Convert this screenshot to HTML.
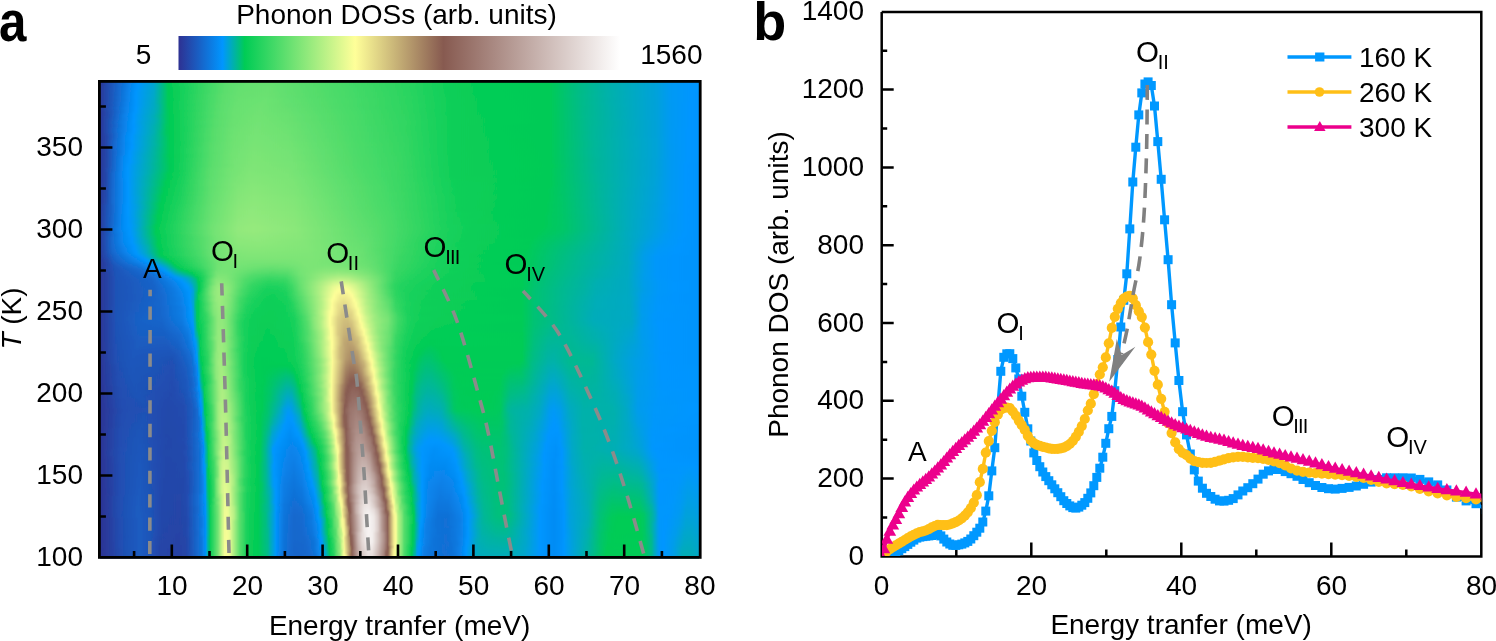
<!DOCTYPE html><html><head><meta charset="utf-8"><style>html,body{margin:0;padding:0;background:#fff;overflow:hidden}#c{position:relative;width:1496px;height:641px;background:#fff}#h{position:absolute;left:100px;top:80px;width:599px;height:479px;filter:url(#vb)}#h b{display:block;height:2px}svg{position:absolute;left:0;top:0;display:block;will-change:transform}text{font-family:"Liberation Sans",sans-serif}</style></head><body><svg width="0" height="0" style="position:absolute"><filter id="vb" x="0" y="0" width="1" height="1"><feGaussianBlur stdDeviation="0 1.1" edgeMode="duplicate"/></filter></svg><div id="c"><div id="h"><b style="background:linear-gradient(90deg,#2b389a 0px,#0194fc 36px,#0097fd 38px,#009ee6 46px,#00a4d2 54px,#00aac1 56px,#00c56a 66px,#00cb57 68px,#42d967 110px,#5ddf6e 128px,#67e170 158px,#61df6f 180px,#3cd865 264px,#29d460 308px,#0dcf59 350px,#04cd56 380px,#00cb57 450px,#00be82 476px,#00b2a6 504px,#00a2da 556px,#009af3 570px,#0096ff 594px,#0096ff 598px)"></b><b style="background:linear-gradient(90deg,#2b389a 0px,#0292fb 36px,#0096fe 38px,#00a5d0 54px,#00aabf 56px,#00c56a 66px,#00cb57 68px,#3cd865 106px,#5ddf6e 126px,#67e170 154px,#64e070 176px,#3dd865 264px,#2ad460 308px,#0dcf58 350px,#04cd56 380px,#00cb57 450px,#00be82 476px,#00b2a6 504px,#00a2da 556px,#009af3 570px,#0096ff 592px,#0096ff 598px)"></b><b style="background:linear-gradient(90deg,#2b389a 0px,#0390f9 34px,#0096ff 38px,#00a5cf 54px,#00abbe 56px,#00c56a 66px,#00cb57 68px,#2cd561 96px,#5cde6e 126px,#66e070 146px,#66e070 172px,#3cd865 266px,#2ad460 308px,#0dcf58 350px,#04cd56 380px,#00cb57 450px,#00be82 476px,#00b2a6 504px,#00a2da 556px,#009af3 570px,#0096ff 592px,#0096ff 598px)"></b><b style="background:linear-gradient(90deg,#2b389a 0px,#038ff7 34px,#0096ff 38px,#009de8 44px,#00a6ce 54px,#00abbd 56px,#00c56a 66px,#00cb57 68px,#17d15b 84px,#5ade6d 124px,#64e070 138px,#68e171 168px,#3bd865 270px,#29d460 308px,#0cce58 352px,#04cd56 382px,#00cb57 450px,#00bd83 476px,#00b2a7 504px,#00a2da 556px,#009af3 570px,#0096ff 592px,#0096ff 598px)"></b><b style="background:linear-gradient(90deg,#2b389a 0px,#048df5 32px,#0096fe 38px,#009ee7 44px,#00a6cd 54px,#00abbc 56px,#00c56a 66px,#00cb57 68px,#0dcf58 78px,#5bde6d 124px,#65e070 138px,#69e171 168px,#3bd865 272px,#2ad460 308px,#0cce58 352px,#04cd56 384px,#00cb57 450px,#00bd83 476px,#00b2a7 504px,#00a2da 556px,#009af3 570px,#0096ff 592px,#0096ff 598px)"></b><b style="background:linear-gradient(90deg,#2b389a 0px,#058bf3 32px,#0095fe 36px,#0098f9 38px,#00a6cc 54px,#00acbb 56px,#00c56a 66px,#00cb57 68px,#08ce57 74px,#5bde6d 124px,#65e070 138px,#69e171 168px,#3bd865 272px,#2ad460 308px,#0cce58 352px,#04cd56 384px,#00cb57 450px,#00bd84 478px,#00b2a7 506px,#00a2da 556px,#009af3 570px,#0096ff 592px,#0096fe 598px)"></b><b style="background:linear-gradient(90deg,#2b3899 0px,#0689f1 30px,#0095fe 36px,#00a7ca 54px,#00acba 56px,#00c56a 66px,#00cb57 68px,#07cd57 74px,#5bde6d 124px,#66e070 138px,#6ae171 166px,#3bd865 274px,#29d460 310px,#0bce58 354px,#03cd56 386px,#00cb57 450px,#00bd84 478px,#00b2a7 506px,#00a2da 556px,#009af3 570px,#0096ff 592px,#0095fe 598px)"></b><b style="background:linear-gradient(90deg,#2b3899 0px,#0787ee 30px,#0096ff 36px,#009fe2 46px,#00a7c9 54px,#00acb9 56px,#00c56a 66px,#00cb57 68px,#05cd56 72px,#5bde6d 122px,#65e070 136px,#6be171 166px,#3bd865 274px,#29d460 310px,#0bce58 354px,#03cd56 388px,#00cb57 450px,#00bd86 478px,#00b2a8 506px,#00a2da 556px,#009af3 570px,#0096ff 592px,#0095fe 598px)"></b><b style="background:linear-gradient(90deg,#2b3899 0px,#0885ec 28px,#0096ff 36px,#009ee6 44px,#00a8c8 54px,#00adb8 56px,#00c56a 66px,#00cb58 68px,#04cd56 72px,#5bde6d 122px,#66e070 136px,#6be172 164px,#55dd6c 214px,#2dd561 306px,#0cce58 354px,#04cd56 386px,#00cb57 450px,#00bd86 478px,#00b2a8 506px,#00a2da 556px,#009af3 570px,#0096ff 592px,#0095fe 598px)"></b><b style="background:linear-gradient(90deg,#2b3899 0px,#0983ea 28px,#0096ff 36px,#009ee5 44px,#00a8c7 54px,#00adb6 56px,#00c56a 66px,#00cb58 68px,#04cd56 72px,#5bde6d 122px,#67e170 138px,#6ce272 166px,#3bd865 276px,#2ad460 310px,#0bce58 356px,#03cd56 392px,#00cb57 450px,#00bc87 480px,#00b1a9 508px,#00a2d9 556px,#009af3 570px,#0096ff 592px,#0095fe 598px)"></b><b style="background:linear-gradient(90deg,#2b3899 0px,#0983eb 28px,#0195fe 36px,#0096fe 36px,#009ee4 44px,#00a8c5 54px,#00adb5 56px,#00c669 66px,#00cb58 68px,#04cd56 72px,#33d663 98px,#5ddf6e 124px,#68e171 140px,#6ce272 166px,#3bd865 276px,#2ad460 310px,#0bce58 356px,#03cd56 394px,#00cb57 450px,#00bc87 480px,#00b1a9 508px,#00a2d9 556px,#009af3 570px,#0096ff 592px,#0095fe 598px)"></b><b style="background:linear-gradient(90deg,#2b3899 0px,#0981e9 26px,#0095fe 36px,#0098f8 38px,#00a9c4 54px,#00aeb4 56px,#00c669 66px,#00cb58 68px,#02cc56 70px,#28d460 92px,#5bde6d 122px,#67e171 136px,#6de272 164px,#5edf6e 200px,#3cd865 274px,#2bd561 308px,#0bce58 356px,#03cd56 394px,#00cb57 450px,#00bc88 480px,#00b1aa 508px,#00a2d9 556px,#009af2 570px,#0096ff 590px,#0095fe 598px)"></b><b style="background:linear-gradient(90deg,#2b3899 0px,#1f52b6 10px,#0884ec 28px,#0095fe 36px,#00a1dd 46px,#00a9c3 54px,#00b0ac 58px,#00c669 66px,#00cb58 68px,#02cc56 70px,#27d45f 92px,#5ade6d 120px,#67e171 136px,#6ee272 162px,#61df6f 194px,#3dd865 272px,#2cd561 308px,#0bce58 356px,#03cd56 394px,#00cb57 450px,#00bb8a 482px,#00b1ab 510px,#00a2d9 556px,#009af2 570px,#0096ff 590px,#0095fe 598px)"></b><b style="background:linear-gradient(90deg,#2b3899 0px,#204fb2 8px,#0982ea 26px,#0096ff 36px,#009fe2 44px,#00a9c2 54px,#00b1ab 58px,#00c669 66px,#00cb58 68px,#02cc56 70px,#25d35f 90px,#5ade6d 120px,#68e171 136px,#6ee272 162px,#61df6f 196px,#3dd865 272px,#2cd561 308px,#0bce58 356px,#03cd56 396px,#00cb57 450px,#00bb89 482px,#00b1ab 510px,#00a2d9 556px,#009af2 570px,#0096ff 590px,#0095fe 598px)"></b><b style="background:linear-gradient(90deg,#2b3899 0px,#204fb3 8px,#0983ea 26px,#0096ff 36px,#009fe4 42px,#00aac1 54px,#00b1aa 58px,#00c669 66px,#01cc55 70px,#21d35e 88px,#59de6d 120px,#68e171 134px,#6fe273 160px,#65e070 190px,#3ed866 270px,#2dd561 306px,#0bce58 356px,#03cd56 396px,#00cb57 450px,#00bb8b 482px,#00b0ac 512px,#00a2d9 556px,#009af2 570px,#0096ff 590px,#0095fe 598px)"></b><b style="background:linear-gradient(90deg,#2b3899 0px,#224caf 8px,#0a81e8 26px,#0096fe 36px,#009ee6 42px,#00aabf 54px,#00b1a9 58px,#00c669 66px,#01cc55 70px,#1fd25d 88px,#58de6d 118px,#68e171 134px,#6fe273 160px,#66e070 188px,#3fd966 270px,#2ed561 306px,#0ace58 356px,#03cd56 402px,#00cb57 450px,#00ba8c 484px,#00b0ad 512px,#00a2d9 556px,#009af2 570px,#0096ff 590px,#0095fe 598px)"></b><b style="background:linear-gradient(90deg,#2b3899 0px,#224caf 8px,#0982e9 26px,#0195fe 34px,#0097fd 36px,#009ee5 42px,#00abbe 54px,#00b2a8 58px,#00c669 66px,#00cc55 70px,#1ed25d 86px,#59de6d 118px,#68e171 134px,#70e273 160px,#67e170 188px,#3fd966 270px,#2ed561 306px,#0ace58 356px,#03cd56 402px,#00cb57 450px,#00ba8d 484px,#00afb0 516px,#00a2d9 556px,#009af2 570px,#0096ff 590px,#0095fe 598px)"></b><b style="background:linear-gradient(90deg,#2b3899 0px,#224caf 8px,#0a80e7 24px,#0095fe 34px,#0098f7 36px,#00a3d5 46px,#00acb9 54px,#00b49f 58px,#00c669 66px,#00cc55 70px,#1ed25d 86px,#58de6c 118px,#69e171 134px,#70e273 158px,#68e171 188px,#40d966 270px,#2fd561 306px,#0ace58 356px,#03cd56 404px,#00cb57 450px,#00ba8d 484px,#00afb0 516px,#00a2d9 556px,#009af2 570px,#0096ff 590px,#0095fe 598px)"></b><b style="background:linear-gradient(90deg,#2b3899 0px,#224caf 8px,#0a80e7 24px,#0095fe 34px,#00a2da 44px,#00adb7 54px,#00b59e 58px,#00c669 66px,#00cc55 70px,#1cd25c 86px,#58de6d 118px,#69e171 134px,#71e373 158px,#69e171 188px,#40d966 270px,#2fd562 306px,#0bce58 356px,#03cd56 404px,#00cb57 450px,#00ba8f 486px,#00aeb3 518px,#00a2d9 556px,#009af2 570px,#0096ff 590px,#0095fe 598px)"></b><b style="background:linear-gradient(90deg,#2b3799 0px,#2349ab 6px,#0d79df 22px,#0096ff 34px,#009fe3 42px,#00acbb 54px,#00b3a5 58px,#00c669 66px,#00cc55 70px,#1cd25c 86px,#57dd6c 116px,#69e171 134px,#71e373 158px,#6ae171 186px,#40d966 270px,#2fd562 306px,#0bce58 356px,#03cd56 406px,#00cb57 450px,#00b990 486px,#00adb7 522px,#00a2d9 556px,#009af2 570px,#0096ff 590px,#0095fe 598px)"></b><b style="background:linear-gradient(90deg,#2b3799 0px,#2349ab 6px,#0e76dd 20px,#0293fb 32px,#0096ff 34px,#009ee5 40px,#00acb9 54px,#00b3a4 58px,#00c669 66px,#00cc55 70px,#1ad15c 84px,#58de6c 116px,#6ae171 134px,#72e373 158px,#6ae171 186px,#41d966 270px,#30d662 306px,#0bce58 356px,#03cd56 408px,#00cb57 450px,#00b991 488px,#00abbd 530px,#00a2d8 556px,#009af2 570px,#0096ff 590px,#0095fe 598px)"></b><b style="background:linear-gradient(90deg,#2b3799 0px,#2349ac 6px,#0e77dd 20px,#0193fc 32px,#0096fe 34px,#009ee4 40px,#00acb8 54px,#00b3a3 58px,#00c669 66px,#00cc55 70px,#1ad15c 84px,#58de6d 116px,#6ae171 134px,#72e374 158px,#6be171 188px,#41d966 270px,#30d662 306px,#0bce58 356px,#03cd56 408px,#00cb57 450px,#00b991 488px,#00abbd 530px,#00a2d8 556px,#009af2 570px,#0096ff 590px,#0095fe 598px)"></b><b style="background:linear-gradient(90deg,#2b3799 0px,#2349ac 6px,#0f74db 20px,#038ff8 30px,#0095fe 34px,#0098f7 36px,#00a3d7 44px,#00aeb3 54px,#00b893 60px,#00c863 66px,#00cc55 70px,#1ad15c 84px,#57dd6c 116px,#6be171 134px,#73e374 158px,#6be172 188px,#41d966 270px,#31d662 304px,#0bce58 356px,#02cc56 410px,#00cb57 450px,#00b992 488px,#00a2d8 556px,#009af2 570px,#0096ff 590px,#0095fe 598px)"></b><b style="background:linear-gradient(90deg,#2b3799 0px,#2349ac 6px,#0f75db 20px,#0390f8 30px,#0095fe 34px,#00a2d9 44px,#00afb1 54px,#00b893 60px,#00c863 66px,#00cc55 70px,#18d15b 84px,#58de6c 116px,#6be172 134px,#74e374 156px,#6ce272 186px,#42d967 270px,#31d662 304px,#0bce58 356px,#02cc56 412px,#00cb57 450px,#00b894 490px,#00a2d8 556px,#009af2 570px,#0096ff 590px,#0095fe 598px)"></b><b style="background:linear-gradient(90deg,#2b3799 0px,#2349ac 6px,#1072d8 18px,#038ef7 30px,#0096ff 34px,#00a0df 42px,#00afb0 54px,#00b992 60px,#00c763 66px,#00cc55 70px,#18d15b 84px,#57dd6c 114px,#6be172 132px,#74e374 156px,#6de272 186px,#42d967 270px,#31d662 304px,#0bce58 356px,#02cc56 414px,#00cb57 450px,#00b895 490px,#00a2d8 556px,#009af2 570px,#0096ff 588px,#0095fe 598px)"></b><b style="background:linear-gradient(90deg,#2b3799 0px,#2349ac 6px,#1073d9 18px,#038ff7 30px,#0096ff 34px,#009ee5 40px,#00aeb3 54px,#00b798 58px,#00c763 66px,#00cc55 70px,#18d15b 84px,#57dd6c 114px,#6ce272 134px,#75e374 156px,#6de272 188px,#42d967 270px,#31d662 304px,#0bce58 356px,#02cc56 414px,#00cb57 450px,#00b796 492px,#00a2d8 556px,#009af2 570px,#0096ff 588px,#0095fe 598px)"></b><b style="background:linear-gradient(90deg,#2b3799 0px,#2349ac 6px,#1170d6 18px,#048df6 28px,#0096fe 34px,#009fe4 40px,#00aeb2 54px,#00b797 58px,#00c763 66px,#00cc55 70px,#16d05b 82px,#57dd6c 114px,#6de272 134px,#75e374 156px,#6ee272 186px,#43d967 270px,#32d662 304px,#0bce58 356px,#02cc56 416px,#00cb57 450px,#00b796 492px,#00a2d8 556px,#009af2 570px,#0096ff 588px,#0095fe 598px)"></b><b style="background:linear-gradient(90deg,#2b3799 0px,#2545a8 6px,#146acf 16px,#068af2 26px,#0095fe 32px,#0098f7 34px,#00a3d5 44px,#00b0ad 54px,#00bc89 60px,#00c763 66px,#00cc55 70px,#16d05b 82px,#58de6c 114px,#6de272 134px,#76e474 156px,#6fe273 186px,#43d967 270px,#32d662 304px,#0bce58 356px,#02cc56 418px,#00cb57 450px,#00b797 492px,#00a2d8 556px,#009af2 570px,#0096ff 588px,#0195fe 598px)"></b><b style="background:linear-gradient(90deg,#2b3799 0px,#2545a8 6px,#146ad0 16px,#058af2 26px,#0095fe 32px,#00a2d8 42px,#00b1ab 54px,#00be81 62px,#00c95e 68px,#00cc55 70px,#16d05b 82px,#57dd6c 114px,#6de272 132px,#76e475 154px,#70e273 186px,#43d967 270px,#33d663 304px,#0bce58 356px,#02cc56 420px,#00cb57 450px,#00b797 492px,#00a2d8 556px,#009af2 570px,#0096ff 588px,#0195fe 598px)"></b><b style="background:linear-gradient(90deg,#2b3799 0px,#2545a8 6px,#146bd0 16px,#058bf3 26px,#0096ff 32px,#009fe1 40px,#00b1aa 54px,#00be81 62px,#00c95e 68px,#00cc55 70px,#16d05b 82px,#57dd6c 114px,#6ee272 134px,#77e475 156px,#6fe273 188px,#44da67 268px,#33d663 304px,#0bce58 356px,#02cc55 422px,#00cb57 450px,#00b797 492px,#00a3d8 556px,#009af2 570px,#0096ff 588px,#0195fe 598px)"></b><b style="background:linear-gradient(90deg,#2b3799 0px,#2545a8 6px,#1568cd 14px,#058bf3 26px,#0096fe 32px,#00a0e0 40px,#00b1a9 54px,#00c95f 68px,#00cc55 70px,#14d05a 82px,#58de6c 114px,#6ee272 134px,#77e475 156px,#70e273 188px,#44da67 268px,#33d663 304px,#0bce58 356px,#02cc55 422px,#00cb57 450px,#00b798 494px,#00a3d7 556px,#009af2 570px,#0096ff 588px,#0195fe 598px)"></b><b style="background:linear-gradient(90deg,#2b3799 0px,#2545a8 6px,#1568cd 14px,#0689f1 26px,#0095fe 32px,#0097fd 32px,#00a0e0 40px,#00b2a8 54px,#00c95f 68px,#00cc56 70px,#14d05a 82px,#57dd6c 112px,#6ee272 132px,#78e475 154px,#71e373 188px,#45da67 268px,#34d663 304px,#0bce58 356px,#02cc55 424px,#00cb57 450px,#00b798 494px,#00a3d7 556px,#009af2 570px,#0096ff 588px,#0195fe 598px)"></b><b style="background:linear-gradient(90deg,#2b3799 0px,#2545a8 6px,#1568ce 14px,#058af2 26px,#0095fe 32px,#00a5d1 44px,#00b4a2 56px,#00c95f 68px,#00cc56 70px,#14d05a 82px,#57dd6c 112px,#6ee272 132px,#78e475 154px,#72e373 186px,#45da67 270px,#34d663 304px,#0bce58 356px,#02cc55 426px,#00cb57 450px,#00b798 494px,#00a3d7 556px,#009af1 570px,#0096ff 588px,#0195fe 598px)"></b><b style="background:linear-gradient(90deg,#2b3798 0px,#2545a8 6px,#1569ce 14px,#058af3 26px,#0096ff 32px,#00a0de 40px,#00b2a5 54px,#00c95f 68px,#00cc56 70px,#14d05a 82px,#58de6c 112px,#70e273 134px,#79e475 154px,#72e373 188px,#45da67 268px,#35d763 302px,#0bce58 356px,#02cc55 426px,#00cb57 450px,#00b798 494px,#00a3d7 556px,#009af1 570px,#0096ff 588px,#0195fe 598px)"></b><b style="background:linear-gradient(90deg,#2b3798 0px,#2545a8 6px,#1469cf 14px,#058bf3 26px,#0096fe 32px,#00a1dd 40px,#00b3a4 54px,#00c95f 68px,#00cc56 70px,#12d05a 80px,#58de6c 112px,#70e273 134px,#7ae475 154px,#72e373 190px,#46da68 268px,#35d763 302px,#0bce58 356px,#01cc55 428px,#00cb57 450px,#00b699 494px,#00a3d7 556px,#009af1 570px,#0096ff 588px,#0195fe 598px)"></b><b style="background:linear-gradient(90deg,#2b3798 0px,#2545a8 6px,#1666cb 14px,#058bf4 26px,#0095fe 30px,#0098f8 32px,#00a5ce 44px,#00b699 56px,#00c95f 68px,#00cc56 70px,#12d05a 80px,#58de6d 112px,#71e373 134px,#7ae476 154px,#73e374 190px,#46da68 268px,#35d763 302px,#0bce58 356px,#01cc55 430px,#00cb57 450px,#00b799 494px,#00a3d7 556px,#009af1 570px,#0096ff 588px,#0195fe 598px)"></b><b style="background:linear-gradient(90deg,#2b3798 0px,#2545a8 6px,#1666cb 14px,#058cf4 26px,#0095fe 30px,#00b4a2 54px,#00c95f 68px,#00cc56 70px,#12d05a 80px,#57dd6c 112px,#70e273 132px,#7be576 154px,#74e374 188px,#46da68 268px,#36d763 302px,#0bce58 356px,#01cc55 430px,#00cb57 450px,#00b799 494px,#00a3d7 556px,#009af1 570px,#0096ff 588px,#0195fe 598px)"></b><b style="background:linear-gradient(90deg,#2b3798 0px,#2545a8 6px,#1667cc 14px,#048df5 26px,#0096ff 30px,#00a0de 38px,#00b4a1 54px,#00ca5b 68px,#01cc55 70px,#14d05a 82px,#58de6c 112px,#71e373 132px,#7be576 154px,#74e374 190px,#47da68 268px,#36d763 302px,#0bce58 356px,#01cc55 432px,#00cb57 450px,#00b798 494px,#00a3d7 556px,#009af1 570px,#0096ff 588px,#0195fd 598px)"></b><b style="background:linear-gradient(90deg,#2b3798 0px,#2545a8 6px,#1567cc 14px,#058bf3 24px,#0096fe 30px,#00a1dd 38px,#00b49f 54px,#00ca5b 68px,#01cc55 70px,#14d05a 82px,#58de6d 112px,#72e373 134px,#7ce576 154px,#75e374 190px,#47da68 268px,#37d764 302px,#0bce58 356px,#01cc55 434px,#00cb57 450px,#00b798 494px,#00a3d7 556px,#009af1 570px,#0096ff 588px,#0195fd 598px)"></b><b style="background:linear-gradient(90deg,#2b3798 0px,#2546a8 6px,#1567cd 14px,#058bf3 24px,#0095fe 30px,#009af3 32px,#00b2a7 52px,#00cb57 70px,#12d05a 80px,#59de6d 112px,#72e373 134px,#7ce576 154px,#75e374 190px,#48da68 268px,#37d764 302px,#0bce58 356px,#01cc55 434px,#00cb57 450px,#00b699 496px,#00a3d5 554px,#009af1 570px,#0096ff 588px,#0195fd 598px)"></b><b style="background:linear-gradient(90deg,#2b3798 0px,#2546a8 6px,#1568cd 14px,#058cf4 24px,#0096ff 30px,#00a2d8 40px,#00b798 56px,#00ca5b 68px,#01cc55 70px,#15d05a 82px,#59de6d 112px,#74e374 134px,#7de576 154px,#74e374 192px,#48da68 268px,#37d764 302px,#0bce58 356px,#01cc55 436px,#00cb57 450px,#00b699 496px,#00a3d5 554px,#009af1 570px,#0096ff 588px,#0195fd 598px)"></b><b style="background:linear-gradient(90deg,#2b3798 0px,#2546a8 6px,#1568cd 14px,#048cf4 24px,#0096fe 30px,#00a0de 38px,#00b0ad 50px,#00cb57 70px,#0ace58 76px,#5ade6d 112px,#74e374 134px,#7ee576 154px,#76e474 192px,#48da68 268px,#38d764 302px,#0bce58 356px,#01cc55 438px,#00cb57 450px,#00b699 496px,#00a3d5 554px,#009af1 570px,#0096ff 586px,#0194fd 598px)"></b><b style="background:linear-gradient(90deg,#2b3798 0px,#2546a8 6px,#1568ce 14px,#048df5 24px,#0095fe 28px,#0098f8 30px,#00b0ac 50px,#00cb57 70px,#06cd57 74px,#5ade6d 112px,#75e374 136px,#7ee577 154px,#75e374 194px,#49db68 266px,#39d764 300px,#0bce58 356px,#01cc55 440px,#00cb58 452px,#00b798 494px,#00a3d5 554px,#009af1 570px,#0096ff 586px,#0194fd 598px)"></b><b style="background:linear-gradient(90deg,#2b3798 0px,#2546a8 6px,#1569ce 14px,#048df6 24px,#0096fe 28px,#00afaf 50px,#00cb57 70px,#05cd56 74px,#25d35f 88px,#5bde6d 112px,#76e474 136px,#7fe577 154px,#76e474 194px,#49db69 266px,#39d764 300px,#0bce58 356px,#01cc55 442px,#00cb58 452px,#00b699 496px,#00a3d5 554px,#009af1 570px,#0096ff 586px,#0194fd 598px)"></b><b style="background:linear-gradient(90deg,#2b3798 0px,#2741a4 4px,#1569ce 14px,#048ef6 24px,#0096ff 28px,#00a0df 36px,#00adb6 48px,#00cb57 70px,#03cd56 72px,#17d15b 82px,#59de6d 110px,#72e373 130px,#7fe577 150px,#79e475 188px,#49db68 268px,#38d764 302px,#0cce58 356px,#01cc55 434px,#00cb57 450px,#00b699 496px,#00a3d5 554px,#009af1 570px,#0096ff 586px,#0194fd 598px)"></b><b style="background:linear-gradient(90deg,#2b3798 0px,#2741a4 4px,#1469cf 14px,#048ef6 24px,#0096fe 28px,#009fe1 36px,#00acb9 46px,#00cb57 70px,#10cf59 80px,#5ade6d 110px,#72e373 130px,#7fe577 150px,#7ae475 188px,#4adb69 268px,#3ad864 300px,#0cce58 356px,#01cc55 434px,#00cb57 450px,#00b69a 496px,#00a3d5 554px,#009af1 570px,#0096ff 586px,#0194fd 598px)"></b><b style="background:linear-gradient(90deg,#2b3798 0px,#2446a9 6px,#1666cb 12px,#048ef7 24px,#0096fe 28px,#00a1de 36px,#00aeb4 48px,#00cb58 68px,#02cc55 70px,#13d05a 80px,#5ade6d 110px,#73e374 130px,#80e677 150px,#7ae476 188px,#4adb69 268px,#39d764 302px,#0cce58 356px,#01cc55 438px,#00cb57 450px,#00b69a 496px,#00a3d5 554px,#009af1 570px,#0096ff 586px,#0194fd 598px)"></b><b style="background:linear-gradient(90deg,#2b3798 0px,#2446a9 6px,#1666cb 12px,#048ef7 24px,#0096fe 28px,#00a2da 38px,#00b3a5 50px,#00cc56 68px,#12d05a 80px,#5bde6d 110px,#75e374 132px,#81e677 150px,#7be576 188px,#4adb69 270px,#38d764 302px,#0cce58 356px,#01cc55 434px,#00cb57 450px,#00b69b 498px,#00a3d5 554px,#009af1 570px,#0096ff 586px,#0194fd 598px)"></b><b style="background:linear-gradient(90deg,#2b3799 0px,#2447a9 6px,#1666cb 12px,#048ef7 24px,#0096fe 28px,#00b0ac 48px,#00cb57 68px,#07cd57 74px,#30d662 92px,#5edf6e 112px,#7be576 138px,#82e678 156px,#79e475 194px,#4bdb69 268px,#39d764 302px,#0cce58 356px,#01cc55 430px,#00cb57 450px,#00b69b 498px,#00a3d6 554px,#009af1 570px,#0096ff 586px,#0194fd 598px)"></b><b style="background:linear-gradient(90deg,#2b3799 0px,#2447aa 6px,#1666cc 12px,#048ef7 24px,#0096fe 28px,#00b1ab 48px,#00cc55 68px,#14d05a 80px,#5cde6e 110px,#77e475 132px,#83e678 150px,#7ce576 190px,#4bdb69 270px,#38d764 304px,#0dcf58 356px,#02cc55 428px,#00cb57 450px,#00b69c 498px,#00a3d6 554px,#009af1 570px,#0096ff 586px,#0194fd 598px)"></b><b style="background:linear-gradient(90deg,#2b3899 0px,#2447aa 6px,#1667cc 12px,#058cf4 24px,#0096fe 28px,#00b1a9 48px,#00cc56 66px,#13d05a 78px,#5ddf6e 110px,#79e475 134px,#83e678 152px,#7ce576 192px,#4bdb69 272px,#37d764 304px,#0dcf58 356px,#02cc55 426px,#00cb57 450px,#00b59d 500px,#00a3d7 554px,#009af2 570px,#0096ff 586px,#0194fd 598px)"></b><b style="background:linear-gradient(90deg,#2b3899 0px,#2447aa 6px,#1567cc 12px,#058cf4 24px,#0096ff 28px,#00b2a8 48px,#00cc55 66px,#16d05b 80px,#5edf6e 110px,#7ae476 134px,#84e678 152px,#7ce576 192px,#4bdb69 272px,#37d764 306px,#0dcf59 356px,#02cc56 422px,#00cb57 450px,#00b59d 500px,#00a3d7 554px,#009af2 570px,#0096ff 586px,#0194fd 598px)"></b><b style="background:linear-gradient(90deg,#2b389a 0px,#2448aa 6px,#1567cc 12px,#058cf4 24px,#0096ff 28px,#00b1ab 48px,#00cc56 66px,#14d05a 78px,#5edf6e 110px,#7ce576 134px,#85e778 152px,#7de576 192px,#4bdb69 274px,#35d763 308px,#0dcf59 356px,#02cc56 420px,#00cb57 450px,#00b59e 502px,#00a3d7 554px,#009af2 570px,#0096ff 586px,#0194fd 598px)"></b><b style="background:linear-gradient(90deg,#2b389a 0px,#2448ab 6px,#1567cd 12px,#058cf4 24px,#0096ff 28px,#00b0af 46px,#00cb58 64px,#03cd56 68px,#1ad15c 80px,#61df6f 112px,#7fe577 138px,#86e779 154px,#7ce576 194px,#4bdb69 276px,#34d663 310px,#0ecf59 356px,#03cd56 416px,#00cb57 450px,#00b59e 502px,#00a2d8 554px,#009af2 570px,#0096ff 586px,#0194fd 598px)"></b><b style="background:linear-gradient(90deg,#2b389a 0px,#2348ab 6px,#1567cd 12px,#058cf4 24px,#0096ff 28px,#00adb7 44px,#00cc55 64px,#16d05b 78px,#61df6f 112px,#80e677 138px,#87e779 154px,#7de576 194px,#4adb69 278px,#30d662 314px,#0ecf59 358px,#02cc56 420px,#00cb57 448px,#00c46f 468px,#00b59d 500px,#00a2d8 554px,#009af2 570px,#0096ff 586px,#0194fd 598px)"></b><b style="background:linear-gradient(90deg,#2b399a 0px,#2349ab 6px,#1568cd 12px,#058cf4 24px,#0096ff 28px,#00aac0 42px,#00cb58 64px,#03cd56 66px,#1ad15c 80px,#62e06f 112px,#81e677 138px,#87e779 154px,#7ee577 194px,#39d764 304px,#0ecf59 356px,#03cd56 410px,#00cb57 448px,#00c46f 468px,#00b59e 502px,#00a2d9 554px,#009af2 570px,#0096ff 586px,#0194fd 598px)"></b><b style="background:linear-gradient(90deg,#2a399a 0px,#2349ac 6px,#1568cd 12px,#058cf4 24px,#0096ff 28px,#00a7c9 40px,#00cc55 64px,#18d15b 78px,#63e06f 112px,#82e678 138px,#88e779 154px,#7ee577 194px,#3ad864 304px,#0ecf59 356px,#04cd56 408px,#00cb57 448px,#00c370 468px,#00b59e 502px,#00a2d9 554px,#009af3 570px,#0096ff 586px,#0194fd 598px)"></b><b style="background:linear-gradient(90deg,#2a399b 0px,#2349ac 6px,#1568cd 12px,#058cf4 24px,#0096ff 28px,#00a4d2 38px,#00cb58 62px,#03cd56 66px,#1bd15c 80px,#63e070 112px,#83e678 138px,#89e779 154px,#7fe577 194px,#3ad864 304px,#0ecf59 358px,#03cd56 412px,#00cb57 448px,#00c666 462px,#00b59f 502px,#00a2d9 554px,#009af3 570px,#0096ff 586px,#0194fd 598px)"></b><b style="background:linear-gradient(90deg,#2a399b 0px,#2349ac 6px,#1568ce 12px,#058cf4 24px,#0096ff 28px,#00a3d7 38px,#00cc56 62px,#1ad15c 78px,#64e070 112px,#84e678 138px,#8ae87a 154px,#80e677 194px,#3bd865 302px,#0fcf59 358px,#04cd56 410px,#00cb57 448px,#00c668 462px,#00b59f 502px,#00a2da 554px,#009af3 570px,#0096ff 586px,#0194fd 598px)"></b><b style="background:linear-gradient(90deg,#2a399b 0px,#234aad 6px,#1569ce 12px,#058cf4 24px,#0096ff 28px,#00a3d7 38px,#00cb58 62px,#02cc56 64px,#1dd25d 80px,#65e070 112px,#84e678 138px,#8ae87a 154px,#81e677 194px,#3cd865 302px,#0fcf59 358px,#04cd56 408px,#00cb57 448px,#00c669 464px,#00b4a0 504px,#00a2da 554px,#009af3 570px,#0096ff 586px,#0194fd 598px)"></b><b style="background:linear-gradient(90deg,#2a3a9b 0px,#234aad 6px,#1569ce 12px,#058cf4 24px,#0096ff 28px,#00a1dc 36px,#00cc56 62px,#1cd25c 78px,#65e070 112px,#85e779 138px,#8be87a 154px,#82e678 194px,#3dd865 300px,#0fcf59 358px,#04cd56 406px,#00cb57 448px,#00c56a 464px,#00b4a0 504px,#00a2db 554px,#009af3 570px,#0096ff 586px,#0194fd 598px)"></b><b style="background:linear-gradient(90deg,#2a3a9b 0px,#234aad 6px,#1569ce 12px,#058cf4 24px,#0096ff 28px,#00a1dc 36px,#00cb59 60px,#02cc56 62px,#1fd25d 80px,#66e070 112px,#86e779 138px,#8ce87a 154px,#82e678 194px,#3ed866 300px,#0fcf59 358px,#04cd56 404px,#00cb57 446px,#00c766 462px,#00b4a1 504px,#00a1db 554px,#009af3 570px,#0096ff 586px,#0194fd 598px)"></b><b style="background:linear-gradient(90deg,#2a3a9c 0px,#204fb2 6px,#136dd2 14px,#038ef7 24px,#0096ff 28px,#009fe1 36px,#00cc56 60px,#1ed25d 78px,#67e170 112px,#87e779 138px,#8de87a 154px,#83e678 194px,#3fd966 298px,#10cf59 358px,#05cd56 402px,#00cb57 446px,#00c667 462px,#00b4a2 506px,#00a1db 554px,#009af3 570px,#0096ff 586px,#0194fd 598px)"></b><b style="background:linear-gradient(90deg,#2a3a9c 0px,#204fb3 6px,#136dd3 14px,#038ef7 24px,#0096ff 28px,#009fe1 36px,#00cb59 60px,#00cc55 60px,#1fd25d 78px,#67e171 112px,#88e779 138px,#8de87b 154px,#84e678 194px,#41d966 296px,#10cf59 358px,#05cd56 400px,#00cb57 446px,#00c667 462px,#00b3a3 506px,#00a1dc 554px,#009af4 570px,#0096ff 586px,#0194fd 598px)"></b><b style="background:linear-gradient(90deg,#2a3a9c 0px,#2050b3 6px,#136dd3 14px,#038ef7 24px,#0096ff 28px,#009fe2 36px,#00cb57 60px,#0cce58 68px,#29d460 82px,#68e171 112px,#89e779 138px,#8ee87b 152px,#84e678 194px,#43d967 294px,#11cf59 356px,#06cd56 396px,#00cb57 446px,#00c766 462px,#00b3a4 508px,#00a1dc 554px,#009af4 570px,#0096ff 586px,#0194fd 598px)"></b><b style="background:linear-gradient(90deg,#2a3a9c 0px,#2050b3 6px,#136dd3 14px,#038ef7 24px,#0096ff 28px,#009ee7 34px,#00ca5a 58px,#00cc55 60px,#21d35e 78px,#69e171 112px,#8ae87a 138px,#8fe97b 152px,#85e778 194px,#45da67 292px,#11cf59 356px,#06cd57 394px,#00cb57 446px,#00c766 462px,#00b3a5 508px,#00a1dd 554px,#009af4 570px,#0096ff 586px,#0194fd 598px)"></b><b style="background:linear-gradient(90deg,#2a3b9c 0px,#2050b4 6px,#126dd3 14px,#038ef7 24px,#0096ff 28px,#009ee7 34px,#00c95e 58px,#01cc55 60px,#22d35e 78px,#69e171 112px,#8ae87a 138px,#90e97b 152px,#86e779 194px,#47da68 290px,#12d05a 356px,#06cd57 392px,#00cb57 446px,#00c667 462px,#00b3a5 508px,#00a1dd 554px,#0099f4 570px,#0096ff 586px,#0194fd 598px)"></b><b style="background:linear-gradient(90deg,#2a3b9d 0px,#2050b4 6px,#126ed3 14px,#038ef7 24px,#0096fe 28px,#009ee7 34px,#00c861 56px,#00cc56 58px,#23d35e 78px,#6ae171 112px,#8be87a 138px,#90e97b 152px,#86e779 194px,#49db68 288px,#12d05a 356px,#07cd57 390px,#00cb57 444px,#00c765 462px,#00b2a7 510px,#00a1dd 554px,#0099f4 570px,#0096ff 586px,#0194fd 598px)"></b><b style="background:linear-gradient(90deg,#293b9d 0px,#2051b4 6px,#126ed4 14px,#038ef7 24px,#0095fe 28px,#009ee7 34px,#00c56b 54px,#00cc55 58px,#24d35f 78px,#6be171 112px,#8ce87a 138px,#91e97c 152px,#87e779 194px,#4bdb69 286px,#13d05a 354px,#07cd57 388px,#00cb57 444px,#00c666 462px,#00b2a8 512px,#00a1de 554px,#0099f4 570px,#0096ff 586px,#0194fd 598px)"></b><b style="background:linear-gradient(90deg,#293b9d 0px,#1f51b4 6px,#126ed4 14px,#038ef7 24px,#0095fe 28px,#009cec 34px,#00a8c7 40px,#00cb57 58px,#06cd57 62px,#27d45f 80px,#6be172 112px,#8de87b 138px,#92e97c 152px,#88e779 194px,#4ddb69 284px,#14d05a 354px,#08ce57 384px,#00cb57 444px,#00c766 462px,#00b1aa 512px,#00a0de 554px,#0099f4 570px,#0096ff 586px,#0194fd 598px)"></b><b style="background:linear-gradient(90deg,#293b9d 0px,#1f51b5 6px,#126ed4 14px,#038ef7 24px,#0095fe 28px,#009af1 32px,#00a4d4 38px,#00bf7f 50px,#00cc55 58px,#26d45f 78px,#6ce272 112px,#8ee87b 138px,#93e97c 152px,#89e779 194px,#50dc6a 282px,#15d05b 352px,#08ce57 382px,#00cb57 444px,#00c667 464px,#00b1ab 514px,#00a0df 554px,#0099f5 570px,#0096ff 586px,#0194fd 598px)"></b><b style="background:linear-gradient(90deg,#293c9d 0px,#1f51b5 6px,#126ed4 14px,#038ef7 24px,#0095fe 28px,#009af1 32px,#00a1db 36px,#00b991 48px,#01cc55 58px,#27d45f 78px,#6de272 112px,#8fe97b 138px,#93e97c 152px,#89e77a 194px,#53dd6b 278px,#16d05b 350px,#09ce57 380px,#00cb57 444px,#00c766 462px,#00b0ae 516px,#00a0df 554px,#0099f5 570px,#0096ff 586px,#0194fd 598px)"></b><b style="background:linear-gradient(90deg,#293c9e 0px,#1f52b5 6px,#126fd5 14px,#038ef7 24px,#0095fe 28px,#0099f6 32px,#009fe2 36px,#00ba8f 48px,#00cb57 56px,#0dcf58 64px,#31d662 82px,#6fe273 112px,#90e97b 138px,#94ea7c 154px,#89e77a 194px,#54dd6b 278px,#17d15b 350px,#09ce58 378px,#00cb57 444px,#00c667 464px,#00b0ae 516px,#00a0df 554px,#0099f5 570px,#0096ff 586px,#0194fd 598px)"></b><b style="background:linear-gradient(90deg,#293c9e 0px,#1d57bb 8px,#1072d8 14px,#038ef7 24px,#0095fe 28px,#0098fa 30px,#009fe2 36px,#00b894 46px,#00cc55 56px,#28d460 78px,#70e273 112px,#91e97c 138px,#95ea7d 154px,#8ae87a 194px,#57dd6c 274px,#19d15c 348px,#0ace58 378px,#00cb57 444px,#00c668 464px,#00afb0 518px,#00a0e0 554px,#0099f5 570px,#0096ff 586px,#0194fd 598px)"></b><b style="background:linear-gradient(90deg,#293c9e 0px,#1d57bb 8px,#1072d9 14px,#038ef7 24px,#0096fe 30px,#009de8 34px,#00ba8c 48px,#00cb59 56px,#01cc55 56px,#29d460 78px,#70e273 112px,#92e97c 138px,#95ea7d 154px,#8be87a 194px,#5ade6d 272px,#1bd15c 346px,#0ace58 376px,#00cb57 442px,#00c668 464px,#00aeb2 520px,#00a0e0 554px,#0099f5 570px,#0096ff 586px,#0194fd 598px)"></b><b style="background:linear-gradient(90deg,#293c9e 0px,#1d57bb 8px,#1072d8 14px,#048ef6 24px,#0096ff 30px,#009dea 34px,#00be82 50px,#00cc55 56px,#2bd561 80px,#72e373 114px,#91e97c 138px,#95ea7d 154px,#8ae87a 196px,#5bde6d 270px,#1dd25d 342px,#0ace58 374px,#00cb57 440px,#00c668 464px,#00adb6 522px,#009ee7 558px,#0098f7 572px,#0096ff 586px,#0194fd 598px)"></b><b style="background:linear-gradient(90deg,#293c9e 0px,#1d57bb 8px,#1072d8 14px,#038ff7 26px,#0096fe 30px,#009ee5 36px,#00c764 54px,#00cc57 56px,#2dd561 80px,#73e374 114px,#90e97b 138px,#93e97c 154px,#89e77a 196px,#5cde6d 270px,#1ed25d 340px,#0bce58 374px,#00cb57 438px,#00c669 462px,#00a4d4 544px,#0099f6 568px,#0096ff 584px,#0194fd 598px)"></b><b style="background:linear-gradient(90deg,#293c9e 0px,#1d57bb 8px,#126ed4 14px,#048cf4 24px,#0096ff 30px,#009ced 34px,#00cb59 56px,#01cc55 58px,#32d662 84px,#72e373 114px,#8fe97b 138px,#92e97c 154px,#88e779 198px,#5cde6e 270px,#20d25e 336px,#0bce58 372px,#00cb57 436px,#00c56b 462px,#00a7ca 536px,#0099f5 566px,#0096ff 584px,#0194fd 598px)"></b><b style="background:linear-gradient(90deg,#293c9e 0px,#1f52b5 6px,#146bd0 12px,#058bf4 24px,#0096fe 32px,#009fe3 36px,#00cc55 58px,#3ed865 90px,#73e374 116px,#8de87b 138px,#90e97b 156px,#87e779 200px,#5edf6e 268px,#22d35e 332px,#0bce58 372px,#00cb57 434px,#00c46e 462px,#00a8c6 534px,#009af3 564px,#0096ff 582px,#0194fd 598px)"></b><b style="background:linear-gradient(90deg,#293c9e 0px,#1f52b5 6px,#146bd0 12px,#058bf3 24px,#0096ff 32px,#009ceb 36px,#00bc89 50px,#00cb57 58px,#40d966 92px,#73e374 116px,#8ce87a 138px,#8fe97b 156px,#86e779 200px,#60df6f 268px,#26d45f 326px,#0bce58 370px,#00cc56 432px,#00c371 464px,#00aeb3 520px,#00a7c8 534px,#009bf0 560px,#0096ff 580px,#0194fd 598px)"></b><b style="background:linear-gradient(90deg,#293c9e 0px,#1f51b5 6px,#146ad0 12px,#068af2 24px,#0096fe 32px,#00afaf 46px,#00cb59 58px,#01cc55 58px,#4cdb69 98px,#72e374 116px,#8be87a 138px,#8de87b 158px,#84e678 202px,#61df6f 266px,#2ad460 322px,#0cce58 368px,#00cc57 430px,#00c274 464px,#00a9c3 532px,#009ee7 552px,#0098f9 568px,#0095fe 584px,#0194fd 598px)"></b><b style="background:linear-gradient(90deg,#293c9d 0px,#1f51b5 6px,#146acf 12px,#0689f0 24px,#0096ff 32px,#009dea 36px,#00b59f 48px,#00cc55 58px,#4ddb6a 98px,#72e373 116px,#8ae87a 138px,#8ce87a 160px,#83e678 204px,#63e06f 266px,#2ed561 316px,#0dcf59 362px,#03cd56 412px,#00cb57 430px,#00c179 466px,#00aac2 530px,#009fe4 548px,#0099f6 564px,#0096ff 582px,#0194fd 598px)"></b><b style="background:linear-gradient(90deg,#293b9d 0px,#2051b4 6px,#1469cf 12px,#0787ef 24px,#0096fe 34px,#00b1aa 48px,#00cc56 58px,#4cdb69 98px,#70e273 114px,#88e779 138px,#8ae87a 158px,#83e678 204px,#64e070 264px,#30d662 314px,#0fcf59 358px,#05cd56 394px,#00cc57 428px,#00bf7d 468px,#00a9c2 530px,#009fe2 546px,#0099f5 560px,#0096ff 580px,#0194fd 598px)"></b><b style="background:linear-gradient(90deg,#293b9d 0px,#2050b4 6px,#1569ce 12px,#0688f0 26px,#0095fe 34px,#0099f7 36px,#00b0af 48px,#00cb59 58px,#03cd56 60px,#4bdb69 98px,#70e273 114px,#86e779 136px,#89e779 156px,#82e678 206px,#66e070 264px,#32d662 310px,#12d05a 354px,#07cd57 384px,#00cc56 428px,#00bd84 472px,#00aac0 530px,#009ee4 546px,#0099f6 560px,#0096ff 578px,#0194fd 598px)"></b><b style="background:linear-gradient(90deg,#293b9d 0px,#2050b3 6px,#1568cd 12px,#0786ee 26px,#0096ff 34px,#00aac1 46px,#00bd84 54px,#00cc55 60px,#49db69 98px,#6fe273 114px,#84e678 136px,#87e779 154px,#81e677 208px,#67e170 262px,#49db68 288px,#23d35e 328px,#0ace58 370px,#00cc56 426px,#00aeb2 516px,#00a9c2 530px,#009ee5 546px,#0099f7 558px,#0096ff 578px,#0194fd 598px)"></b><b style="background:linear-gradient(90deg,#2a3b9c 0px,#204fb2 6px,#1666cc 12px,#0786ee 26px,#0096fe 36px,#00a8c7 46px,#00b990 52px,#00cb57 60px,#48da68 98px,#6fe273 114px,#82e678 134px,#85e778 154px,#80e677 208px,#68e171 262px,#4cdb69 286px,#30d662 312px,#11cf59 354px,#06cd57 384px,#00cb57 426px,#00b2a7 504px,#00aac1 530px,#009ee5 544px,#0098f8 558px,#0096ff 576px,#0194fd 598px)"></b><b style="background:linear-gradient(90deg,#2a3a9c 0px,#214eb1 6px,#1665ca 12px,#0786ee 28px,#0096fe 36px,#00a4d4 44px,#00b2a7 50px,#00ca5a 60px,#01cc55 60px,#47da68 98px,#6fe272 114px,#80e677 134px,#83e678 154px,#7fe577 210px,#69e171 262px,#52dc6b 282px,#37d764 304px,#17d15b 342px,#08ce57 376px,#00cc57 426px,#00b4a1 496px,#00aabf 528px,#009ee6 544px,#0098f9 558px,#0096ff 574px,#0194fd 598px)"></b><b style="background:linear-gradient(90deg,#2a3a9b 0px,#224cb0 6px,#1666cb 14px,#048ef6 34px,#0195fe 38px,#0096fd 38px,#00a3d5 46px,#00b3a5 52px,#00c95e 60px,#00cc56 60px,#46da68 98px,#6ee272 114px,#7de576 130px,#81e677 150px,#7ee577 212px,#6be172 260px,#57dd6c 278px,#38d764 302px,#18d15c 340px,#07cd57 374px,#00cc56 424px,#00b59d 490px,#00aabf 528px,#009de8 544px,#0098fa 556px,#0095fe 574px,#0194fd 598px)"></b><b style="background:linear-gradient(90deg,#2a399b 0px,#224bae 6px,#1763c8 14px,#0193fc 40px,#0097fb 42px,#00a1dd 46px,#00c667 60px,#00ca5a 62px,#05cd56 66px,#43d967 98px,#6fe273 116px,#7ce576 130px,#7fe577 152px,#7ee576 212px,#6be172 260px,#59de6d 278px,#38d764 300px,#19d15c 338px,#07cd57 374px,#00cc56 424px,#00b69a 486px,#00aac0 528px,#009de9 544px,#0097fb 556px,#0095fe 574px,#0194fd 598px)"></b><b style="background:linear-gradient(90deg,#2b389a 0px,#224caf 8px,#1861c6 14px,#0194fd 44px,#0098f7 46px,#00b2a7 56px,#00c56c 64px,#01cb59 66px,#04cd56 68px,#43d967 100px,#6fe272 116px,#7be576 130px,#7de576 150px,#7ce576 188px,#7de576 212px,#6de272 260px,#5bde6d 276px,#39d764 300px,#19d15c 338px,#08ce57 374px,#00cc56 424px,#00b798 484px,#00aac0 528px,#009de9 544px,#0097fb 556px,#0095fe 574px,#0194fd 598px)"></b><b style="background:linear-gradient(90deg,#2b3899 0px,#234aad 8px,#1a5ec2 14px,#0390f9 44px,#0194fd 46px,#0099f6 48px,#00b894 62px,#01cb59 70px,#02cc55 70px,#27d45f 88px,#47da68 102px,#71e373 118px,#7ae476 132px,#78e475 158px,#79e475 190px,#7de576 210px,#6ee272 258px,#60df6f 274px,#38d764 300px,#19d15c 338px,#08ce57 374px,#00cb57 424px,#00b893 478px,#00aac0 528px,#009de9 544px,#0097fb 556px,#0095fe 574px,#0194fd 598px)"></b><b style="background:linear-gradient(90deg,#2b3799 0px,#2348ab 8px,#1b5bbf 14px,#0982e9 40px,#0194fd 50px,#0098f7 52px,#00bb8a 66px,#00ca5b 72px,#01cc56 72px,#3fd966 100px,#70e273 118px,#79e475 130px,#75e374 154px,#74e374 184px,#7de576 208px,#73e374 250px,#66e070 270px,#37d764 300px,#19d15c 336px,#07cd57 374px,#00cb57 424px,#00ba8f 474px,#00aeb3 516px,#00aac2 530px,#009ee7 544px,#0097fb 556px,#0095fe 574px,#0194fd 598px)"></b><b style="background:linear-gradient(90deg,#2b3798 0px,#2446a9 8px,#1c5abe 16px,#0e77de 38px,#0195fc 54px,#0099f5 56px,#00b0ae 66px,#00ca5c 74px,#01cc56 74px,#3bd865 100px,#70e273 118px,#78e475 128px,#72e373 152px,#6ee272 178px,#74e374 192px,#7ce576 206px,#78e475 242px,#6be172 266px,#55dd6c 282px,#37d764 298px,#1ad15c 334px,#07cd57 374px,#00cb57 424px,#00bb8a 468px,#00afaf 508px,#00aac0 528px,#009de9 544px,#0097fb 556px,#0095fe 574px,#0194fd 598px)"></b><b style="background:linear-gradient(90deg,#2b3798 0px,#2448ab 8px,#1d57bb 16px,#1171d7 38px,#0195fc 58px,#0099f6 60px,#00a7ca 66px,#00bc88 72px,#00ca5c 76px,#03cd56 78px,#38d764 100px,#71e373 118px,#77e475 126px,#68e171 172px,#6de272 190px,#7ae476 204px,#7ee577 232px,#75e374 258px,#63e06f 274px,#37d764 298px,#1bd15c 332px,#08ce57 372px,#00cc56 424px,#00bd84 462px,#00b0ac 504px,#00aac0 528px,#009de9 544px,#0097fb 556px,#0095fe 574px,#0194fd 598px)"></b><b style="background:linear-gradient(90deg,#2c3698 0px,#2447aa 8px,#1d55b9 16px,#136cd2 40px,#0195fc 62px,#009af4 64px,#00a5d0 68px,#00c07a 76px,#00c861 78px,#03cd56 82px,#27d45f 98px,#4ddb6a 108px,#70e273 118px,#78e475 126px,#61df6f 166px,#65e070 188px,#78e475 202px,#83e678 226px,#80e677 248px,#70e273 268px,#5ade6d 280px,#36d763 298px,#1ad15c 330px,#07cd57 372px,#00cc56 424px,#00bf7e 456px,#00b0ac 502px,#00aac0 528px,#009dea 544px,#0097fb 556px,#0095fe 574px,#0194fd 598px)"></b><b style="background:linear-gradient(90deg,#2c3698 0px,#2446a9 8px,#1e54b8 16px,#146acf 42px,#0983ea 56px,#0194fd 64px,#009af4 66px,#00b69a 76px,#00c667 82px,#01cb59 86px,#04cd56 88px,#25d35f 100px,#46da68 108px,#70e273 116px,#78e475 122px,#74e374 132px,#5ddf6e 158px,#59de6d 174px,#5edf6e 188px,#76e474 202px,#87e779 224px,#8ae87a 242px,#7be576 262px,#65e070 276px,#36d763 296px,#1dd25d 324px,#08ce57 370px,#00cc56 424px,#00c178 448px,#00b1ac 500px,#00aac1 528px,#00a2d9 538px,#009cec 546px,#0097fb 558px,#0095fe 574px,#0194fd 598px)"></b><b style="background:linear-gradient(90deg,#2c3697 0px,#2348ab 10px,#1e54b8 16px,#1569ce 44px,#0b7de4 58px,#0194fd 68px,#009af2 70px,#00aeb3 76px,#00ca5d 90px,#03cd56 92px,#24d35f 102px,#49db68 108px,#73e374 116px,#7ae476 122px,#76e475 130px,#59de6d 154px,#50dc6a 172px,#57dd6c 188px,#73e374 200px,#8ce87a 222px,#94ea7d 238px,#8de87b 252px,#75e374 270px,#50dc6a 286px,#34d663 296px,#1ed25d 322px,#08ce57 368px,#00cb57 424px,#00c274 444px,#00b0ad 500px,#00aac1 528px,#00a3d6 536px,#009dea 544px,#0097fb 556px,#0095fe 574px,#0194fd 598px)"></b><b style="background:linear-gradient(90deg,#2c3697 0px,#2448aa 10px,#1e54b7 16px,#1567cd 48px,#0c7be2 60px,#0194fd 70px,#0099f4 72px,#00a8c6 78px,#00bc87 88px,#01ca5b 94px,#02cc56 94px,#22d35e 102px,#73e374 116px,#7ce576 118px,#7ce576 126px,#52dc6b 152px,#47da68 170px,#4ddb6a 186px,#71e373 200px,#95ea7d 224px,#a0ec80 238px,#9aeb7e 250px,#7ee576 268px,#63e06f 280px,#34d663 296px,#21d35e 314px,#0bce58 358px,#00cc56 422px,#00c372 440px,#00b0ad 500px,#00aac1 528px,#00a3d6 536px,#009dea 544px,#0097fb 556px,#0095fe 574px,#0194fd 598px)"></b><b style="background:linear-gradient(90deg,#2c3697 0px,#2447aa 10px,#1e53b7 16px,#1666cb 50px,#0c7de4 64px,#0193fb 74px,#0097f9 76px,#00afb2 88px,#00ba8e 92px,#01cb59 96px,#04cd56 98px,#22d35e 104px,#6ce272 114px,#7fe577 118px,#81e677 124px,#75e374 132px,#4fdc6a 150px,#3ed866 168px,#44da67 186px,#53dd6b 192px,#6de272 200px,#a2ec80 228px,#adef83 238px,#a9ee82 248px,#8ae87a 266px,#6ce272 278px,#32d662 296px,#21d35e 312px,#0cce58 354px,#00cc56 422px,#00c370 438px,#00b3a4 488px,#00aeb2 506px,#00aac2 528px,#00a3d7 536px,#009ceb 544px,#0097fb 558px,#0095fe 576px,#0194fd 598px)"></b><b style="background:linear-gradient(90deg,#2c3697 0px,#2447aa 10px,#1f53b7 16px,#1665ca 52px,#0a81e8 68px,#0195fe 78px,#009af3 82px,#00a5d0 88px,#00b1ab 92px,#00bf7d 96px,#00c860 98px,#02cc55 98px,#27d45f 104px,#69e171 112px,#81e677 116px,#86e779 120px,#7de576 128px,#4fdc6a 146px,#3cd865 160px,#35d763 170px,#3cd865 186px,#49db69 190px,#6be172 200px,#b3f085 232px,#bcf287 240px,#b5f085 250px,#8ee87b 266px,#6fe273 278px,#31d662 296px,#21d35e 310px,#0cce58 350px,#03cd56 406px,#00cc56 422px,#00c371 438px,#00b3a3 486px,#00afb1 500px,#00a9c2 528px,#00a3d7 536px,#009ceb 544px,#0097fb 558px,#0095fe 574px,#0194fd 598px)"></b><b style="background:linear-gradient(90deg,#2c3697 0px,#2447aa 10px,#1f53b7 16px,#1763c8 52px,#0a7fe6 70px,#0096fd 82px,#009bef 84px,#00a3d5 88px,#00b0af 92px,#00bc89 96px,#00cb58 98px,#12d05a 102px,#3ad864 106px,#6ee272 112px,#86e779 116px,#8be87a 120px,#82e678 128px,#4cdb69 146px,#3ad865 156px,#2dd561 170px,#35d763 186px,#44da67 190px,#69e171 200px,#c1f389 232px,#cbf58b 240px,#c5f389 248px,#a4ed81 262px,#72e373 278px,#2fd562 296px,#20d25d 308px,#0dcf58 348px,#04cd56 400px,#00cc56 422px,#00c370 436px,#00b992 468px,#00b3a3 486px,#00afb1 498px,#00a9c2 528px,#00a3d6 536px,#009de9 544px,#0098fa 558px,#0095fe 574px,#0194fd 598px)"></b><b style="background:linear-gradient(90deg,#2c3697 0px,#2447aa 10px,#1f53b6 16px,#1763c8 52px,#0a7fe6 72px,#0096fe 84px,#0099f5 86px,#00a2d9 90px,#00acbb 92px,#00b893 96px,#00ca5d 98px,#04cd56 100px,#2ad460 104px,#6be172 112px,#86e779 116px,#8fe97b 118px,#8be87a 124px,#78e475 132px,#4edc6a 144px,#37d764 154px,#27d45f 168px,#2dd561 184px,#37d764 188px,#67e171 200px,#b5f085 224px,#d3f68d 234px,#dbf88f 242px,#d4f68d 248px,#b3f085 260px,#74e374 278px,#30d662 294px,#24d35f 302px,#13d05a 328px,#06cd57 376px,#00cc56 422px,#00c370 436px,#00b991 466px,#00b3a2 484px,#00afb1 496px,#00a9c2 528px,#00a3d6 536px,#009de9 544px,#0098f9 558px,#0096ff 574px,#0194fd 598px)"></b><b style="background:linear-gradient(90deg,#2c3697 0px,#2447aa 10px,#1f53b6 16px,#1763c8 54px,#0b7ee5 72px,#0096fe 86px,#009af4 88px,#00a4d2 92px,#00b0ac 94px,#00c275 98px,#00c95f 98px,#04cd56 100px,#2dd561 104px,#70e273 112px,#8be87a 116px,#94ea7c 118px,#90e97b 124px,#81e677 130px,#4bdb69 144px,#34d663 152px,#21d35e 168px,#25d35f 180px,#2cd561 186px,#3fd966 192px,#66e070 200px,#b0ef84 222px,#ddf890 234px,#e9fb93 240px,#e6fa92 246px,#d3f68d 254px,#72e373 278px,#2fd562 294px,#24d35f 300px,#14d05a 324px,#06cd57 374px,#00cc56 422px,#00c371 436px,#00b991 466px,#00b4a1 484px,#00afb2 496px,#00a9c2 528px,#00a3d6 536px,#009de9 544px,#0098f9 558px,#0096ff 574px,#0194fd 598px)"></b><b style="background:linear-gradient(90deg,#2c3697 0px,#2447aa 10px,#1f53b6 16px,#1763c8 54px,#0b7de4 74px,#0195fe 86px,#0097fd 88px,#00a1dc 92px,#00aeb4 94px,#00c177 98px,#00c95f 98px,#05cd56 100px,#3bd865 106px,#6ce272 110px,#8ae87a 114px,#96ea7d 118px,#97ea7d 122px,#8ae87a 128px,#49db68 144px,#30d662 152px,#1dd25d 168px,#20d25e 180px,#27d45f 186px,#3cd865 192px,#64e070 200px,#b0ef84 220px,#e3f991 232px,#f2fc96 238px,#f4fd96 244px,#e8fa93 250px,#aeef83 264px,#51dc6b 286px,#2ed561 294px,#23d35e 300px,#14d05a 322px,#06cd57 374px,#00cc57 422px,#00c372 436px,#00b991 464px,#00b4a2 484px,#00afb2 496px,#00a9c2 528px,#00a3d6 536px,#009de9 544px,#0098f9 558px,#0096ff 574px,#0194fd 598px)"></b><b style="background:linear-gradient(90deg,#2c3697 0px,#2447aa 10px,#1f53b6 16px,#1862c7 54px,#0c7be2 74px,#0096fd 88px,#009ee5 92px,#00a6cb 94px,#00acbb 94px,#00c177 98px,#00ca5d 98px,#06cd57 100px,#49db69 106px,#78e475 112px,#92e97c 116px,#9beb7e 118px,#96ea7d 124px,#84e678 130px,#4adb69 142px,#2fd562 152px,#19d15c 166px,#1ad15c 178px,#24d35f 186px,#39d764 192px,#62e06f 200px,#adef83 220px,#edfb94 234px,#fdff98 240px,#fbfe98 246px,#e9fb93 252px,#90e97b 272px,#2ed561 294px,#22d35e 300px,#14d05a 322px,#06cd57 372px,#00cb57 422px,#00c371 434px,#00b990 462px,#00b3a3 484px,#00aeb3 496px,#00a9c2 528px,#00a4d3 536px,#009de7 544px,#0098f9 558px,#0096ff 574px,#0194fd 598px)"></b><b style="background:linear-gradient(90deg,#2c3697 0px,#2447aa 10px,#1f53b6 16px,#1763c8 54px,#0c7be2 74px,#0096fe 90px,#009cec 92px,#00a4d1 94px,#00aac0 94px,#00c275 98px,#00cb59 98px,#08ce57 100px,#71e373 110px,#8ee87b 114px,#9aeb7e 118px,#9aeb7e 122px,#8be87a 128px,#46da68 142px,#2bd561 152px,#16d05b 166px,#18d15b 178px,#20d25e 186px,#35d763 192px,#5edf6e 200px,#a9ee82 218px,#f3fd96 234px,#fefe98 238px,#fbf996 244px,#fdfe98 248px,#e7fa92 254px,#99eb7e 270px,#2cd561 296px,#1ed25d 304px,#10cf59 328px,#05cd56 380px,#00cb57 422px,#00c372 434px,#00b990 462px,#00b3a4 484px,#00aeb3 496px,#00a9c2 528px,#00a4d3 536px,#009de8 544px,#0098fa 558px,#0096fe 574px,#0194fd 598px)"></b><b style="background:linear-gradient(90deg,#2c3697 0px,#2447aa 10px,#1f53b6 16px,#1764c9 56px,#0c7be2 76px,#0095fe 90px,#0098f8 90px,#00a0e1 92px,#00a4d2 94px,#00abbe 94px,#01cc55 98px,#71e373 110px,#8ee87b 114px,#9aeb7e 118px,#9beb7e 122px,#8be87a 128px,#47da68 142px,#2cd561 150px,#16d05b 164px,#12d05a 172px,#1bd15c 186px,#2cd561 190px,#5ade6d 200px,#a9ee82 218px,#f7fd97 234px,#fefe99 236px,#f7f494 242px,#faf896 248px,#feff99 250px,#d1f68d 260px,#9beb7e 270px,#44da67 290px,#2bd560 296px,#19d15c 310px,#0bce58 344px,#00cb57 422px,#00c372 434px,#00b990 462px,#00b3a5 484px,#00aeb4 496px,#00a9c2 528px,#00a5d0 534px,#009ee7 542px,#0098fa 558px,#0095fe 574px,#0194fd 598px)"></b><b style="background:linear-gradient(90deg,#2c3697 0px,#2447a9 10px,#1f53b6 16px,#195ec3 46px,#146acf 62px,#0983ea 80px,#0095fe 90px,#0098f8 90px,#00a0e0 92px,#00a5cf 94px,#00acba 94px,#00c766 98px,#04cd56 98px,#71e373 110px,#8de87b 114px,#9aeb7e 118px,#9ceb7f 120px,#8ee87b 126px,#44da67 142px,#29d460 150px,#14d05a 164px,#10cf59 174px,#1bd15c 186px,#33d663 192px,#5ade6d 200px,#a8ee82 218px,#fbfe98 234px,#fefe99 234px,#f4f092 240px,#f4f092 246px,#fefe99 252px,#daf88f 258px,#a0ec80 270px,#47da68 290px,#2cd561 296px,#1ad15c 308px,#0cce58 338px,#00cb57 422px,#00c372 434px,#00b992 464px,#00b2a5 484px,#00aeb5 496px,#00a9c3 528px,#00a5d0 534px,#009de8 542px,#0097fa 558px,#0095fe 574px,#0194fd 598px)"></b><b style="background:linear-gradient(90deg,#2c3697 0px,#2447a9 10px,#1f53b6 16px,#195ec3 44px,#1569ce 62px,#0a80e7 80px,#0195fe 90px,#0098f9 90px,#00a0df 92px,#00a6ce 94px,#00adb7 94px,#00c95f 98px,#06cd57 98px,#78e475 112px,#92e97c 116px,#9beb7e 118px,#99eb7e 122px,#89e77a 128px,#45da67 140px,#29d460 148px,#17d15b 160px,#0ecf59 170px,#17d15b 186px,#27d45f 190px,#5ade6d 202px,#acee83 220px,#feff99 234px,#f1ec90 240px,#f1eb90 246px,#fcfb97 252px,#fefe99 252px,#a5ed81 268px,#67e171 284px,#4adb69 290px,#2ed561 296px,#1ad15c 308px,#0cce58 336px,#00cb57 422px,#00c372 434px,#00b893 464px,#00b2a8 484px,#00adb6 496px,#00a9c4 530px,#00a4d3 536px,#009de9 542px,#0097fb 558px,#0095fe 574px,#0194fd 598px)"></b><b style="background:linear-gradient(90deg,#2c3697 0px,#2447a9 10px,#1f53b6 16px,#195ec3 44px,#1567cd 60px,#0b7fe6 80px,#0194fd 90px,#0097fb 90px,#00a0e0 92px,#00a6cd 94px,#00aeb4 94px,#00ca5a 98px,#08ce57 98px,#7ee577 112px,#95ea7d 116px,#9beb7e 120px,#93e97c 124px,#7ee577 130px,#42d967 140px,#26d45f 148px,#16d05b 158px,#0dcf58 170px,#16d05b 186px,#24d35f 190px,#a6ed81 218px,#fbfe98 232px,#fefd98 234px,#efe98f 240px,#ede68e 244px,#f4ef92 250px,#fefe99 254px,#abee83 268px,#6de272 282px,#52dc6b 290px,#30d662 296px,#1ad15c 308px,#0dcf58 332px,#04cd56 396px,#00cb57 422px,#00c373 434px,#00b895 466px,#00b1aa 486px,#00adb7 496px,#00a9c4 530px,#00a4d3 536px,#009dea 542px,#0097fb 558px,#0095fe 574px,#0194fd 598px)"></b><b style="background:linear-gradient(90deg,#2c3697 0px,#2447a9 10px,#1f53b6 16px,#195ec3 44px,#1567cc 60px,#0b7ee5 80px,#0194fc 90px,#0097fc 90px,#00a0e0 92px,#00a6cd 94px,#00aeb2 94px,#00c372 96px,#00cc56 98px,#7ce576 112px,#94ea7c 116px,#9beb7e 120px,#92e97c 124px,#7ce576 130px,#40d966 140px,#26d45f 148px,#16d05b 156px,#0cce58 170px,#13d05a 184px,#1ed25d 190px,#6ae171 206px,#b7f186 222px,#feff99 232px,#ede68e 240px,#e9e18c 244px,#f0eb90 250px,#feff99 254px,#aeef83 268px,#72e374 282px,#55dd6c 290px,#32d662 296px,#1bd15c 308px,#0fcf59 324px,#05cd56 374px,#00cb57 422px,#00c373 434px,#00b1aa 484px,#00adb7 496px,#00a9c4 530px,#00a5d0 534px,#009dea 542px,#0097fc 558px,#0095fe 574px,#0194fd 598px)"></b><b style="background:linear-gradient(90deg,#2c3697 0px,#2447a9 10px,#1f53b6 16px,#195fc3 42px,#1567cc 60px,#0b7fe6 80px,#0193fc 90px,#0096fe 90px,#009fe2 92px,#00a6ce 94px,#00afb1 94px,#00c470 96px,#00cc55 98px,#82e678 114px,#96ea7d 118px,#9aeb7e 120px,#8ee87b 126px,#6fe273 132px,#3dd865 140px,#24d35f 148px,#15d05b 156px,#0bce58 170px,#13d05a 186px,#23d35e 192px,#72e373 208px,#b7f186 222px,#fafe98 232px,#fefe98 232px,#ece58d 238px,#e6dd8a 244px,#ebe38d 248px,#fdff99 256px,#b6f086 266px,#84e678 278px,#58de6d 290px,#33d663 296px,#1cd25c 308px,#11cf59 322px,#06cd57 366px,#00cb57 422px,#00c373 434px,#00b0ac 486px,#00adb8 496px,#00a9c4 530px,#00a5d0 534px,#009ceb 542px,#0097fc 558px,#0095fe 576px,#0194fd 598px)"></b><b style="background:linear-gradient(90deg,#2c3697 0px,#2447a9 10px,#1f53b6 16px,#195fc4 42px,#1667cc 60px,#0b7ee5 80px,#038ff8 88px,#0096ff 90px,#009af3 92px,#009fe4 92px,#00a5cf 94px,#00afb1 94px,#00c46e 96px,#01cc55 98px,#4fdc6a 108px,#87e779 114px,#95ea7d 118px,#99eb7e 120px,#8de87b 126px,#6de272 132px,#3fd966 140px,#24d35f 146px,#15d05b 154px,#0bce58 170px,#12d05a 186px,#21d35e 192px,#5bde6d 204px,#b7f186 222px,#fcfe98 232px,#fdfc98 232px,#eae28c 238px,#e3d988 244px,#e8df8b 248px,#f9f796 254px,#fdfd98 256px,#fbfe98 256px,#b9f186 266px,#8ae87a 276px,#61df6f 288px,#35d763 296px,#1cd25c 308px,#11cf59 320px,#06cd57 362px,#00cb57 422px,#00c273 434px,#00b0ad 486px,#00adb8 496px,#00a9c3 530px,#00a5cf 534px,#009ceb 542px,#0097fd 558px,#0195fe 580px,#0194fd 598px)"></b><b style="background:linear-gradient(90deg,#2c3697 0px,#1f53b6 16px,#195fc4 42px,#1666cb 60px,#0c7be2 80px,#058cf4 88px,#0095fe 90px,#0099f6 92px,#009ee6 92px,#00a5d1 94px,#00aeb2 94px,#00c46d 96px,#01cc55 98px,#44da67 106px,#85e778 114px,#94ea7c 118px,#98ea7d 120px,#8ce87a 126px,#6ce272 132px,#3dd865 140px,#22d35e 146px,#14d05a 154px,#0ace58 170px,#11cf5a 186px,#22d35e 192px,#63e06f 206px,#b7f186 222px,#feff99 232px,#e8df8b 238px,#e1d586 244px,#e5db89 248px,#f6f394 254px,#fefe99 256px,#b6f085 268px,#83e678 278px,#64e070 288px,#37d764 296px,#1ed25d 306px,#13d05a 316px,#08ce57 352px,#00cb57 422px,#00c273 434px,#00b0ac 484px,#00adb8 496px,#00a9c3 530px,#00a5cf 534px,#009cec 542px,#0097fd 558px,#0195fd 588px,#0194fd 598px)"></b><b style="background:linear-gradient(90deg,#2c3697 0px,#1f53b6 16px,#1960c4 42px,#1666cb 60px,#0b7ee5 82px,#0291fa 90px,#0194fd 90px,#0098f8 92px,#009de9 92px,#00a4d3 94px,#00aeb3 94px,#00c46d 96px,#01cc55 98px,#1ed25d 102px,#42d967 106px,#83e678 114px,#93e97c 118px,#97ea7d 120px,#8ee87b 124px,#76e475 130px,#3ad865 140px,#20d25d 146px,#12d05a 154px,#0ace58 170px,#12d05a 186px,#23d35e 194px,#60df6f 206px,#99eb7e 216px,#c4f389 224px,#fffe99 232px,#e8e08b 238px,#dfd285 242px,#e0d486 248px,#ece58e 252px,#fdff99 258px,#bef288 266px,#96ea7d 274px,#79e475 282px,#67e171 288px,#39d764 296px,#1ed25d 306px,#13d05a 316px,#08ce57 348px,#00cb57 422px,#00c273 434px,#00b1ab 484px,#00acb8 496px,#00a9c3 530px,#00a5cf 534px,#009cec 542px,#0097fd 558px,#0194fd 598px)"></b><b style="background:linear-gradient(90deg,#2c3697 0px,#1f53b6 16px,#1960c5 42px,#1666cb 60px,#0b7de4 82px,#048df6 88px,#0194fc 90px,#0097fa 92px,#009ceb 92px,#00a3d6 94px,#00aeb5 94px,#00ba8f 96px,#00c46d 96px,#01cc55 98px,#1dd25d 102px,#3fd966 106px,#82e678 114px,#92e97c 118px,#96ea7d 120px,#8de87b 124px,#75e374 130px,#38d764 140px,#20d25e 146px,#11cf5a 154px,#09ce57 170px,#11cf59 186px,#23d35e 194px,#5edf6e 206px,#93e97c 216px,#bdf287 222px,#fafe98 230px,#fefd98 232px,#e7dd8a 238px,#dccf84 242px,#dccf84 246px,#e6dd8a 252px,#fdfd98 258px,#fafe98 258px,#c1f388 266px,#98ea7e 274px,#7be576 282px,#6be171 288px,#3bd865 296px,#1fd25d 306px,#13d05a 316px,#08ce57 346px,#00cb57 422px,#00c273 434px,#00b1a9 482px,#00acb8 494px,#00a9c4 530px,#00a4d3 536px,#009cec 542px,#0097fd 558px,#0194fd 598px)"></b><b style="background:linear-gradient(90deg,#2c3697 0px,#1f53b6 16px,#1860c5 40px,#1666cb 60px,#0b7ee5 82px,#0193fc 90px,#0097fd 92px,#009bee 92px,#00a2d8 94px,#00adb7 94px,#00b990 96px,#00c46e 96px,#00cc55 98px,#16d05b 100px,#35d763 106px,#80e677 114px,#90e97b 118px,#95ea7d 120px,#8ce87a 124px,#73e374 130px,#35d763 140px,#1ed25d 146px,#10cf59 154px,#09ce57 172px,#11cf5a 188px,#20d25e 194px,#5bde6d 206px,#bdf287 222px,#fbfe98 230px,#fdfc98 232px,#e5db89 238px,#dacc82 242px,#d9cb82 246px,#e3d988 252px,#feff99 258px,#c4f389 266px,#9aeb7e 274px,#80e677 282px,#6ee272 288px,#39d764 298px,#1bd15c 308px,#11cf59 320px,#07cd57 354px,#00cb57 422px,#00c273 434px,#00b3a3 476px,#00acb9 494px,#00a9c4 530px,#00a4d3 536px,#009ced 542px,#0096fe 558px,#0194fd 598px)"></b><b style="background:linear-gradient(90deg,#2c3697 0px,#1f53b6 16px,#1861c6 40px,#1665cb 60px,#0c7de4 82px,#0292fb 90px,#0096ff 92px,#009bf1 92px,#00a1db 94px,#00acb9 94px,#00b991 96px,#00c46f 96px,#00cc55 98px,#15d05b 100px,#32d662 106px,#7ee577 114px,#8fe97b 118px,#94ea7c 120px,#8be87a 124px,#71e373 130px,#38d764 138px,#1fd25d 144px,#10cf59 152px,#09ce57 168px,#0fcf59 186px,#1dd25d 194px,#4ddb6a 204px,#91e97c 216px,#bdf287 222px,#fcfe98 230px,#fcfb97 232px,#e3d988 238px,#d7c981 242px,#d6c780 246px,#e0d586 252px,#fdfc98 258px,#fbfe98 260px,#c7f48a 266px,#a1ec80 274px,#85e779 280px,#72e373 288px,#3bd865 298px,#1bd15c 308px,#11cf5a 318px,#07cd57 350px,#00cc57 422px,#00c273 434px,#00b4a0 474px,#00acb9 494px,#00a9c4 530px,#00a4d2 536px,#009dea 542px,#0097fc 554px,#0096fe 566px,#0194fd 598px)"></b><b style="background:linear-gradient(90deg,#2c3697 0px,#1f53b6 16px,#1861c6 40px,#1665ca 60px,#0c7ce3 82px,#0292fa 90px,#0095fe 92px,#009af3 92px,#00a1de 94px,#00acbb 94px,#00b893 96px,#00c370 96px,#00cc56 98px,#13d05a 100px,#30d662 106px,#83e678 116px,#91e97c 118px,#92e97c 122px,#86e779 126px,#62e06f 132px,#31d662 140px,#1ad15c 146px,#0dcf58 154px,#09ce57 174px,#12d05a 190px,#1bd15c 194px,#3bd865 202px,#5ddf6e 208px,#8be87a 214px,#b5f085 222px,#fdff98 230px,#f7f494 232px,#ded285 238px,#d4c47f 244px,#d4c57f 248px,#e0d586 252px,#fefe99 260px,#c3f389 268px,#9aeb7e 276px,#82e678 282px,#75e374 288px,#3dd865 298px,#1ed25d 308px,#13d05a 316px,#08ce57 344px,#00cc57 422px,#00c273 434px,#00b59d 472px,#00acb9 494px,#00a9c3 530px,#00a6ce 534px,#009ceb 542px,#0097fc 554px,#0096fe 566px,#0194fd 598px)"></b><b style="background:linear-gradient(90deg,#2c3697 0px,#1f53b6 16px,#1862c6 40px,#1666cb 62px,#0c7be2 82px,#0291f9 90px,#0194fd 92px,#0099f6 92px,#00a0e1 94px,#00abbd 94px,#00b894 96px,#00c371 96px,#00cb58 98px,#12d05a 100px,#26d45f 104px,#4edc6a 110px,#82e678 116px,#90e97b 118px,#91e97c 122px,#85e778 126px,#60df6f 132px,#2ed561 140px,#17d15b 146px,#0bce58 154px,#09ce57 176px,#13d05a 192px,#1fd25d 196px,#54dd6b 206px,#8ae87a 214px,#b5f085 222px,#feff99 230px,#ddd084 238px,#d2c17d 244px,#d2c17d 248px,#ded185 252px,#fcfb97 260px,#fbfe98 260px,#c6f48a 268px,#a0ec80 274px,#87e779 282px,#78e475 288px,#5fdf6e 292px,#3fd966 298px,#1ed25d 308px,#14d05a 314px,#08ce57 342px,#00cc56 422px,#00c273 434px,#00b59c 470px,#00acb9 492px,#00a9c3 530px,#00a6ce 534px,#009ceb 542px,#0097fc 554px,#0095fe 566px,#0194fd 598px)"></b><b style="background:linear-gradient(90deg,#2c3697 0px,#1f53b6 16px,#1861c6 40px,#1665ca 62px,#0d7ae0 82px,#038ff8 90px,#0097fb 92px,#009ee6 94px,#00a9c2 94px,#00b69a 96px,#00c177 96px,#00c95d 98px,#05cd56 98px,#2cd561 106px,#5fdf6e 112px,#81e677 116px,#90e97b 118px,#91e97c 122px,#85e778 126px,#60df6f 132px,#33d663 138px,#19d15c 144px,#0cce58 152px,#08ce57 170px,#0fcf59 188px,#16d05b 194px,#31d662 200px,#59de6d 208px,#89e779 214px,#acee83 220px,#ecfb94 228px,#feff99 230px,#dccf84 238px,#d0be7c 244px,#cfbd7c 248px,#d7c981 252px,#f0ea90 258px,#fefe99 260px,#c3f389 268px,#99eb7e 276px,#83e678 284px,#78e475 288px,#5fdf6e 292px,#3ed866 298px,#1ed25d 308px,#13d05a 314px,#08ce57 340px,#00cc57 422px,#00c274 434px,#00b59d 472px,#00acb9 494px,#00a8c5 532px,#00a1db 538px,#009ced 542px,#0096fe 558px,#0194fd 598px)"></b><b style="background:linear-gradient(90deg,#2c3697 0px,#1f52b6 16px,#1861c6 40px,#1764c9 62px,#0e78df 82px,#048df6 90px,#0095fe 92px,#009cec 94px,#00a7c9 94px,#00b4a2 96px,#00bf7f 96px,#00c765 98px,#03cd56 98px,#2bd560 106px,#5fdf6e 112px,#82e678 116px,#90e97c 118px,#92e97c 122px,#85e779 126px,#60df6f 132px,#33d663 138px,#19d15c 144px,#0cce58 152px,#07cd57 168px,#0dcf59 188px,#16d05b 194px,#30d662 200px,#58de6c 208px,#87e779 214px,#abee83 220px,#ecfb94 228px,#fdff99 230px,#dbce83 238px,#cebc7b 244px,#cdba7b 248px,#d5c57f 252px,#ede68e 258px,#fbfa97 260px,#fcfe98 262px,#c6f48a 268px,#9eec7f 276px,#87e779 282px,#76e475 288px,#56dd6c 294px,#3dd865 298px,#1dd25d 308px,#11cf5a 316px,#08ce57 340px,#00cb57 422px,#00c275 434px,#00bb8c 456px,#00b49f 474px,#00adb7 494px,#00a8c7 532px,#00a1dc 538px,#009ced 542px,#0096ff 558px,#0194fd 598px)"></b><b style="background:linear-gradient(90deg,#2c3697 0px,#1f52b6 16px,#1860c5 40px,#1763c8 62px,#0e77dd 82px,#058bf4 90px,#0193fc 92px,#009af3 94px,#00a5d1 94px,#00b1aa 96px,#00bc87 96px,#01cc55 98px,#13d05a 102px,#32d662 106px,#82e678 116px,#91e97c 118px,#93e97c 122px,#86e779 126px,#61df6f 132px,#33d663 138px,#19d15c 144px,#0cce58 152px,#07cd57 168px,#0ecf59 188px,#15d05b 194px,#2fd562 200px,#57dd6c 208px,#86e779 214px,#aaee82 220px,#ebfb94 228px,#fdff98 230px,#f6f393 232px,#dacd83 238px,#cdba7b 244px,#cbb879 248px,#d2c17e 252px,#e5db89 256px,#fdfd98 262px,#f9fe97 262px,#c3f389 270px,#9aeb7e 276px,#83e678 282px,#74e374 288px,#3bd865 298px,#1cd25c 308px,#10cf59 316px,#07cd57 338px,#00cb57 422px,#00c274 434px,#00bb8b 452px,#00b59d 472px,#00adb6 494px,#00a7c8 532px,#00a1dd 538px,#009ced 542px,#0096ff 558px,#0194fd 598px)"></b><b style="background:linear-gradient(90deg,#2c3697 0px,#1f52b6 16px,#1960c5 40px,#1862c7 62px,#1073da 82px,#0883eb 88px,#0291fa 92px,#0098fa 94px,#00a2d8 94px,#00afb2 96px,#00b98f 96px,#00cb57 98px,#13d05a 102px,#31d662 106px,#82e678 116px,#92e97c 118px,#93e97c 122px,#87e779 126px,#62e06f 132px,#33d663 138px,#19d15c 144px,#0bce58 152px,#07cd57 168px,#0dcf59 188px,#15d05b 194px,#2ed561 200px,#55dd6c 208px,#84e678 214px,#a8ee82 220px,#eafb93 228px,#fcfe98 230px,#fbfa97 232px,#dacc82 238px,#ccb87a 244px,#c9b578 248px,#cfbd7c 252px,#e2d787 256px,#feff99 262px,#bff288 270px,#96ea7d 278px,#80e677 284px,#72e374 288px,#3ad864 298px,#1bd15c 308px,#0fcf59 316px,#07cd57 336px,#00cb57 422px,#00c275 434px,#00bb8c 452px,#00b69b 472px,#00aeb5 496px,#00a7c9 532px,#00a0e1 538px,#009bef 544px,#0096ff 560px,#0194fd 598px)"></b><b style="background:linear-gradient(90deg,#2c3697 0px,#1f52b6 16px,#1960c4 40px,#1861c6 62px,#1170d7 80px,#0b7fe6 88px,#038ff8 92px,#0096fe 94px,#00a0df 94px,#00b798 96px,#00c95d 98px,#06cd57 100px,#29d460 106px,#54dd6c 110px,#82e678 116px,#92e97c 118px,#94ea7d 122px,#88e779 126px,#62e06f 132px,#33d663 138px,#19d15c 144px,#0bce58 152px,#06cd57 168px,#0cce58 188px,#14d05a 194px,#2dd561 200px,#54dd6b 208px,#83e678 214px,#a7ed82 220px,#e0f991 228px,#fcfe98 230px,#fcfa97 232px,#d9cb82 238px,#cab679 244px,#c7b277 248px,#cdba7a 252px,#ded285 256px,#fcfb97 262px,#fbfe98 264px,#bbf187 272px,#92e97c 278px,#7ae475 286px,#71e373 288px,#39d764 298px,#1ad15c 308px,#0ecf59 316px,#06cd57 336px,#00cb57 422px,#00c177 434px,#00ba8d 450px,#00b69a 472px,#00aeb5 498px,#00a7cb 532px,#009ced 542px,#0096ff 560px,#0194fd 598px)"></b><b style="background:linear-gradient(90deg,#2c3697 0px,#1f52b5 16px,#195fc4 40px,#1861c5 64px,#126fd5 80px,#0b7de4 88px,#048df6 92px,#0194fd 94px,#009ee7 94px,#00b4a0 96px,#00c763 98px,#05cd56 100px,#30d662 106px,#83e678 116px,#93e97c 118px,#95ea7d 122px,#89e779 126px,#63e06f 132px,#34d663 138px,#19d15c 144px,#0bce58 152px,#06cd57 168px,#0cce58 188px,#14d05a 194px,#2cd561 200px,#52dc6b 208px,#86e779 216px,#adef83 222px,#f2fc95 230px,#fbfe98 230px,#fcfb97 232px,#d9cb82 238px,#c9b578 244px,#c5af76 248px,#cab679 252px,#dbce83 256px,#fefe99 264px,#b7f186 272px,#92e97c 278px,#7be576 284px,#6fe273 288px,#37d764 298px,#19d15c 308px,#0dcf59 316px,#05cd56 334px,#00cb57 422px,#00c178 434px,#00ba8f 450px,#00b69a 472px,#00acbb 506px,#00a5ce 532px,#009ced 542px,#0096ff 560px,#0194fd 598px)"></b><b style="background:linear-gradient(90deg,#2c3697 0px,#1f52b5 16px,#195fc3 40px,#195fc4 64px,#136dd3 80px,#0c7be2 88px,#058cf4 92px,#0292fa 94px,#009bee 94px,#00b2a8 96px,#00bb8b 98px,#00c56a 98px,#04cd56 100px,#2fd562 106px,#83e678 116px,#94ea7c 118px,#96ea7d 122px,#89e77a 126px,#63e06f 132px,#34d663 138px,#19d15c 144px,#0bce58 152px,#06cd57 168px,#0bce58 188px,#13d05a 194px,#2bd561 200px,#51dc6b 208px,#85e778 216px,#abee83 222px,#f1fc95 230px,#fafe98 230px,#fcfb97 232px,#d9ca82 238px,#c8b377 244px,#c3ad75 248px,#c8b377 252px,#d8ca81 256px,#fbfa97 264px,#fcfe98 264px,#baf187 272px,#93e97c 278px,#7ae476 284px,#6de272 288px,#36d763 298px,#18d15b 308px,#0cce58 316px,#04cd56 334px,#00cc55 422px,#00c179 434px,#00b98f 450px,#00b69a 472px,#00a9c3 518px,#00a5d0 532px,#009ced 542px,#0096ff 560px,#0194fd 598px)"></b><b style="background:linear-gradient(90deg,#2c3697 0px,#1f52b5 16px,#195ec3 40px,#195ec3 64px,#146ad0 80px,#0d79e0 88px,#068af2 92px,#0390f8 94px,#0099f5 94px,#00afb0 96px,#00b892 98px,#00c370 98px,#02cc56 100px,#2fd561 106px,#83e678 116px,#94ea7d 118px,#97ea7d 122px,#8ae87a 126px,#64e070 132px,#34d663 138px,#19d15c 144px,#0ace58 152px,#05cd56 168px,#0bce58 188px,#13d05a 194px,#2bd560 200px,#50dc6a 208px,#83e678 216px,#aaee82 222px,#f0fc95 230px,#f9fe97 230px,#fdfc98 232px,#d8ca81 238px,#c7b277 244px,#c1aa73 248px,#c5af76 252px,#d5c57f 256px,#fefd98 264px,#effc95 266px,#aeef83 274px,#8ae87a 280px,#66e070 290px,#39d764 296px,#1bd15c 306px,#0dcf59 314px,#04cd56 332px,#00cc55 422px,#00c07a 434px,#00b991 450px,#00b895 464px,#00b59c 476px,#00a5d1 532px,#009cec 542px,#0096ff 560px,#0194fd 598px)"></b><b style="background:linear-gradient(90deg,#2c3697 0px,#1f51b5 16px,#1a5ec2 40px,#1a5ec2 64px,#1569ce 80px,#0e77de 88px,#0688f0 92px,#0097fd 94px,#00acb8 96px,#00b69a 98px,#01cc55 100px,#2ed561 106px,#67e171 112px,#8be87a 116px,#98ea7d 120px,#96ea7d 122px,#86e779 126px,#2fd561 140px,#16d05b 146px,#09ce57 152px,#05cd56 172px,#0ecf59 192px,#18d15b 196px,#48da68 206px,#81e678 216px,#a9ee82 222px,#e5fa92 228px,#f8fe97 230px,#fdfd98 232px,#d3c37f 240px,#c3ad75 244px,#bfa872 248px,#c5af75 252px,#d6c780 258px,#fdff99 266px,#b8f186 274px,#90e97b 280px,#76e474 286px,#65e070 290px,#38d764 296px,#1ad15c 306px,#0cce58 314px,#03cd56 330px,#01cc55 418px,#00cb57 422px,#00c07b 434px,#00b992 448px,#00b796 460px,#00b797 472px,#00a4d2 532px,#009cec 542px,#0096ff 560px,#0194fd 598px)"></b><b style="background:linear-gradient(90deg,#2c3697 0px,#1f51b5 16px,#1a5dc2 40px,#1a5dc1 64px,#1666cb 78px,#0f76dc 88px,#0786ee 92px,#0195fd 94px,#009fe2 96px,#00b4a2 98px,#00cb57 100px,#2dd561 106px,#67e170 112px,#8be87a 116px,#98ea7e 120px,#97ea7d 122px,#87e779 126px,#2fd561 140px,#16d05b 146px,#09ce57 152px,#05cd56 172px,#0dcf59 192px,#18d15b 196px,#47da68 206px,#80e677 216px,#a7ed82 222px,#e4fa92 228px,#f7fd97 230px,#fefd98 232px,#d3c37e 240px,#c2ab74 244px,#bea571 248px,#c2ab74 252px,#d3c37e 258px,#fdfc98 266px,#f9fe97 266px,#b3f085 274px,#8be87a 280px,#64e070 290px,#37d764 296px,#19d15c 306px,#0bce58 314px,#02cc56 330px,#03cd56 374px,#00cc55 422px,#00c07c 434px,#00b894 448px,#00b797 458px,#00b796 470px,#00afb0 500px,#00a3d6 534px,#009cec 542px,#0096ff 560px,#0194fd 598px)"></b><b style="background:linear-gradient(90deg,#2c3697 0px,#1f51b5 16px,#1a5dc1 40px,#1b5cc0 66px,#1764ca 78px,#1074da 88px,#0884ec 92px,#0292fb 94px,#009dea 96px,#00b1a9 98px,#00ca5c 100px,#06cd57 100px,#2dd561 106px,#5cde6e 112px,#84e678 116px,#96ea7d 118px,#99eb7e 122px,#8de87a 126px,#66e070 132px,#2fd561 140px,#15d05b 146px,#09ce57 152px,#04cd56 172px,#0dcf58 192px,#17d15b 196px,#45da68 206px,#9eec7f 220px,#daf88f 228px,#fefe98 232px,#d3c27e 240px,#c1aa73 244px,#bca270 248px,#c0a872 252px,#d0be7c 258px,#feff99 266px,#b6f085 274px,#8ce87a 280px,#62e06f 290px,#36d763 296px,#18d15b 306px,#0ace58 314px,#01cc55 330px,#03cd56 366px,#00cc55 422px,#00bf7d 434px,#00b895 448px,#00b798 458px,#00b895 470px,#00b0ad 498px,#00a6cb 524px,#00a3d7 534px,#009ced 544px,#0096ff 560px,#0194fd 598px)"></b><b style="background:linear-gradient(90deg,#2c3697 0px,#1f51b4 16px,#1a5cc0 38px,#1b5bbf 66px,#1763c8 78px,#1072d8 88px,#0982e9 92px,#0390f9 94px,#009af2 96px,#00afb1 98px,#00c861 100px,#05cd56 100px,#2cd561 106px,#5cde6e 112px,#84e678 116px,#97ea7d 118px,#9aeb7e 122px,#8de87b 126px,#66e070 132px,#2fd562 140px,#19d15c 144px,#09ce58 152px,#04cd56 166px,#09ce57 188px,#11cf59 194px,#2bd561 202px,#4adb69 208px,#9deb7f 220px,#d8f78f 228px,#ffff99 232px,#d2c27e 240px,#c0a873 244px,#baa06f 248px,#bda471 252px,#cdba7a 258px,#f1eb90 264px,#fcfb97 266px,#fafe98 268px,#b1ef84 276px,#88e779 282px,#61df6f 290px,#35d763 296px,#17d15b 306px,#0ace58 314px,#00cc55 330px,#03cd56 362px,#00cc55 422px,#00bf7e 434px,#00b797 448px,#00b69a 458px,#00b894 470px,#00b1a9 496px,#00a8c8 520px,#00a2d8 534px,#009ced 544px,#0096ff 560px,#0194fd 598px)"></b><b style="background:linear-gradient(90deg,#2c3697 0px,#2051b4 16px,#1b5bc0 38px,#1b5abe 66px,#1861c6 78px,#1073d9 88px,#0a80e7 92px,#048ef6 94px,#0098fa 96px,#00acb8 98px,#00c765 100px,#04cd56 100px,#2bd561 106px,#5cde6d 112px,#84e678 116px,#97ea7d 118px,#9beb7e 122px,#8ee87b 126px,#67e170 132px,#2fd562 140px,#18d15c 144px,#09ce57 152px,#04cd56 166px,#09ce57 188px,#10cf59 194px,#2ad460 202px,#49db68 208px,#9beb7e 220px,#d7f78e 228px,#ffff99 232px,#d2c17e 240px,#bfa772 244px,#b89e6e 248px,#bba16f 252px,#c6b076 256px,#e2d787 262px,#fefe99 268px,#abee83 276px,#83e678 282px,#60df6f 290px,#34d663 296px,#16d05b 306px,#08ce57 314px,#00cc56 326px,#03cd56 366px,#00cc55 422px,#00bf7f 434px,#00b699 448px,#00b69b 456px,#00b894 470px,#00b2a6 496px,#00a8c7 518px,#00a1db 534px,#009bee 544px,#0096ff 560px,#0194fd 598px)"></b><b style="background:linear-gradient(90deg,#2c3697 0px,#2051b4 16px,#1b5bbf 36px,#1c59bd 68px,#1960c4 78px,#1171d7 88px,#0b7ee5 92px,#0095fe 96px,#00aac0 98px,#00c56a 100px,#03cd56 100px,#2bd560 106px,#5bde6d 112px,#84e678 116px,#98ea7e 118px,#9beb7e 122px,#8fe97b 126px,#67e171 132px,#2fd562 140px,#18d15c 144px,#09ce57 152px,#03cd56 166px,#09ce57 188px,#10cf59 194px,#29d460 202px,#47da68 208px,#99eb7e 220px,#ccf58b 226px,#feff99 232px,#cdbb7b 240px,#bba270 246px,#b69b6d 250px,#baa06f 254px,#cbb779 258px,#f0ea90 266px,#fcfb97 268px,#fafe98 268px,#aeef83 276px,#84e678 282px,#59de6d 290px,#33d663 296px,#18d15b 304px,#08ce57 314px,#00cc56 324px,#00ca5b 330px,#01cc55 340px,#00cc55 422px,#00be80 434px,#00b699 448px,#00b59d 456px,#00b893 470px,#00b3a4 496px,#00a8c7 518px,#00a0de 536px,#009bef 546px,#0096ff 560px,#0194fd 598px)"></b><b style="background:linear-gradient(90deg,#2c3697 0px,#2050b4 16px,#1b5abe 36px,#1c58bc 68px,#195ec3 78px,#126fd5 88px,#0c7ce3 92px,#0193fc 96px,#009de9 96px,#00a8c8 98px,#00c46f 100px,#02cc56 100px,#2ad460 106px,#5bde6d 112px,#84e678 116px,#99eb7e 118px,#9ceb7f 122px,#90e97b 126px,#6fe273 130px,#35d763 138px,#1cd25c 144px,#0cce58 150px,#04cd56 160px,#06cd57 184px,#0fcf59 194px,#28d460 202px,#46da68 208px,#98ea7d 220px,#cbf58b 226px,#fdff98 232px,#f4f092 234px,#cdba7b 240px,#baa06f 246px,#b4986c 250px,#b79d6d 254px,#c7b277 258px,#e7de8a 264px,#fefe99 268px,#b1ef84 276px,#85e778 282px,#58de6c 290px,#32d662 296px,#17d15b 304px,#07cd57 314px,#00cb57 322px,#00c95f 330px,#01cc55 340px,#01cc55 418px,#00cc55 422px,#00be81 434px,#00b69b 448px,#00b59f 456px,#00b892 470px,#00b4a1 494px,#00a8c7 518px,#0098f9 554px,#0096ff 562px,#0194fd 598px)"></b><b style="background:linear-gradient(90deg,#2c3697 0px,#2050b4 16px,#1c59be 34px,#1d56ba 70px,#1a5ec2 80px,#1170d6 90px,#0d7ae1 92px,#0390f9 96px,#009af1 96px,#00a5cf 98px,#00c273 100px,#01cc55 100px,#32d662 108px,#84e678 116px,#99eb7e 118px,#9deb7f 122px,#91e97c 126px,#70e273 130px,#36d763 138px,#1cd25c 144px,#0bce58 150px,#04cd56 160px,#06cd57 184px,#0fcf59 194px,#27d45f 202px,#45da67 208px,#96ea7d 220px,#c9f48b 226px,#fcfe98 232px,#fbf996 232px,#cdba7a 240px,#b99f6f 246px,#b2966a 250px,#b5996c 254px,#c0a973 258px,#d8c981 262px,#fcfb97 268px,#fafe98 270px,#b4f085 276px,#86e779 282px,#51dc6a 292px,#2dd561 298px,#11cf5a 306px,#03cd56 316px,#00cc56 320px,#00c861 328px,#00c95e 334px,#01cc55 342px,#00cc55 422px,#00be82 434px,#00b59d 448px,#00b4a0 456px,#00b992 470px,#00b4a0 494px,#00a8c6 516px,#0098fa 554px,#0096ff 562px,#0194fd 598px)"></b><b style="background:linear-gradient(90deg,#2c3697 0px,#2050b4 16px,#1c59bd 34px,#1e55b9 70px,#1a5ec2 80px,#126ed4 90px,#0d79df 92px,#048ef6 96px,#0098f9 96px,#00a3d7 98px,#00b1a9 98px,#00c178 100px,#00cc55 100px,#31d662 108px,#8de87b 116px,#9deb7f 120px,#9ceb7f 122px,#8ce87a 126px,#30d662 140px,#18d15b 144px,#0ace58 150px,#03cd56 162px,#06cd57 186px,#0ecf59 194px,#26d45f 202px,#43d967 208px,#95ea7d 220px,#c8f48a 226px,#fafe98 232px,#fbfa97 232px,#cdba7a 240px,#b89e6e 246px,#b19369 250px,#b3966a 254px,#bda471 258px,#d4c47f 262px,#fefe99 270px,#aeef83 278px,#81e677 284px,#49db69 292px,#2cd561 298px,#11cf59 306px,#02cc56 316px,#00cb57 320px,#00c764 326px,#00c862 334px,#00cc55 342px,#01cc55 420px,#00cb58 422px,#00be81 432px,#00b59d 446px,#00b4a2 454px,#00b991 470px,#00b59d 494px,#00a7c8 518px,#0097fc 556px,#0095fe 564px,#0194fd 598px)"></b><b style="background:linear-gradient(90deg,#2c3697 0px,#2050b3 16px,#1c58bd 34px,#1d56ba 50px,#1e54b8 74px,#1665ca 86px,#1072d8 92px,#0983eb 94px,#0095fe 96px,#00a0de 98px,#00afb0 98px,#00bf7d 100px,#00cb58 100px,#0dcf59 102px,#30d662 108px,#8de87b 116px,#9eec7f 120px,#9deb7f 122px,#8de87b 126px,#30d662 140px,#18d15b 144px,#09ce58 150px,#03cd56 162px,#06cd57 186px,#0ecf59 194px,#25d35f 202px,#42d967 208px,#93e97c 220px,#c7f48a 226px,#f9fe97 232px,#fcfb97 232px,#ccb97a 240px,#b79c6d 246px,#af9168 250px,#b09369 254px,#baa06f 258px,#d1c07d 262px,#fcfb97 270px,#f9fe97 270px,#b1ef84 278px,#82e678 284px,#30d662 296px,#15d05b 304px,#04cd56 314px,#00cc55 318px,#00c666 326px,#00c667 332px,#00cc55 342px,#00cc55 422px,#00bd84 434px,#00b4a0 448px,#00b3a4 454px,#00b990 470px,#00b69b 494px,#00a8c7 516px,#009cec 544px,#0096ff 560px,#0194fd 598px)"></b><b style="background:linear-gradient(90deg,#2c3697 0px,#2050b3 16px,#1c58bc 32px,#1d56ba 48px,#1f52b6 72px,#1960c5 84px,#1170d6 92px,#0981e9 94px,#0193fc 96px,#009ee6 98px,#00adb6 98px,#00be81 100px,#00ca5b 100px,#06cd56 102px,#2fd562 108px,#8ee87b 116px,#9eec7f 120px,#9eec7f 122px,#8ee87b 126px,#30d662 140px,#18d15b 144px,#09ce57 150px,#02cc56 162px,#05cd56 186px,#0dcf58 194px,#24d35f 202px,#41d966 208px,#91e97c 220px,#c5f38a 226px,#f8fe97 232px,#fdfc98 232px,#ccb97a 240px,#b69b6d 246px,#ae8f67 250px,#ae8f68 254px,#b79c6d 258px,#cdbb7b 262px,#feff99 270px,#b5f085 278px,#84e678 284px,#30d662 296px,#14d05a 304px,#03cd56 314px,#00cc55 316px,#00c669 324px,#00c56b 330px,#00cc55 344px,#00cc55 422px,#00c372 428px,#00bd85 434px,#00b4a2 448px,#00b3a5 454px,#00b990 470px,#00b798 492px,#00afb1 504px,#00a2d9 528px,#0096ff 560px,#0194fd 598px)"></b><b style="background:linear-gradient(90deg,#2c3697 0px,#2050b3 16px,#1d57bb 32px,#1d56ba 48px,#1f51b4 72px,#195fc3 84px,#126ed4 92px,#0a7fe6 94px,#0291f9 96px,#009ced 98px,#00abbc 98px,#00bd86 100px,#00c95f 100px,#05cd56 102px,#2fd561 108px,#64e070 112px,#8ee87b 116px,#9fec7f 120px,#9fec7f 122px,#8ee87b 126px,#5bde6d 134px,#30d662 140px,#18d15b 144px,#09ce57 150px,#02cc56 162px,#05cd56 186px,#0dcf58 194px,#23d35e 202px,#3fd966 208px,#89e779 220px,#baf187 226px,#f7fd97 232px,#fdfd98 232px,#ccb97a 240px,#b69a6c 246px,#ac8d67 250px,#ac8c66 254px,#b4986b 258px,#cab679 262px,#fcfb97 270px,#f8fe97 272px,#afef84 278px,#7ee577 284px,#2fd562 296px,#13d05a 304px,#02cc56 314px,#00cb57 316px,#00c56c 324px,#00c46e 330px,#00cc55 344px,#00cc55 422px,#00c373 428px,#00bc86 434px,#00b3a4 448px,#00b2a7 454px,#00b990 470px,#00b895 492px,#00b2a6 500px,#00a9c4 514px,#00a0e0 532px,#0096ff 560px,#0194fd 598px)"></b><b style="background:linear-gradient(90deg,#2c3697 0px,#204fb3 16px,#1d57bb 32px,#1d55b9 48px,#2050b3 72px,#1a5dc2 84px,#136dd2 92px,#0b7de4 94px,#048ef7 96px,#0099f5 98px,#00a9c3 98px,#00bb8b 100px,#00c763 100px,#04cd56 102px,#2ed561 108px,#63e06f 112px,#8ee87b 116px,#9ceb7f 118px,#a1ec80 120px,#9deb7f 124px,#89e77a 128px,#31d662 140px,#18d15b 144px,#09ce57 150px,#02cc55 162px,#05cd56 186px,#0cce58 194px,#22d35e 202px,#3ed865 208px,#87e779 220px,#b9f186 226px,#f6fd97 232px,#fefd98 232px,#c6b177 242px,#b1946a 246px,#a98965 250px,#aa8a65 254px,#b4986c 258px,#ccb97a 264px,#f9f796 270px,#fdff98 272px,#b2f084 278px,#80e677 284px,#35d763 296px,#1cd25c 302px,#06cd57 310px,#00cb57 316px,#00c46e 324px,#00c372 330px,#00c764 338px,#00cc55 344px,#00cc56 422px,#00c274 428px,#00bc88 434px,#00b2a6 448px,#00b2a8 454px,#00b990 470px,#00b894 492px,#00b3a5 500px,#00a9c4 514px,#00a0e1 532px,#0098f8 554px,#0096ff 562px,#0194fd 598px)"></b><b style="background:linear-gradient(90deg,#2c3697 0px,#204fb2 16px,#1d57bb 32px,#1e55b9 48px,#204fb3 72px,#1a5cc1 84px,#136cd1 92px,#0c7ce3 94px,#0097fb 98px,#00a7ca 98px,#00b893 100px,#00c56b 100px,#01cc55 102px,#2dd561 108px,#62e06f 112px,#8ee87b 116px,#9ceb7f 118px,#a2ec80 120px,#9eec7f 124px,#8ae87a 128px,#32d662 140px,#19d15c 144px,#09ce57 150px,#02cc55 162px,#03cd56 188px,#0cce58 196px,#2dd561 204px,#79e475 218px,#a6ed81 224px,#ecfb94 230px,#f7fd97 232px,#fdfd98 232px,#c5af75 242px,#af9068 246px,#a68463 250px,#a78563 254px,#b19369 258px,#c8b478 264px,#fefd98 272px,#eafb93 274px,#abee83 280px,#79e475 286px,#35d763 296px,#1bd15c 302px,#05cd56 310px,#00cc55 314px,#00c46f 322px,#00c275 328px,#00c56c 336px,#00cc55 346px,#00cb57 420px,#00c668 426px,#00bc87 432px,#00b2a8 448px,#00b1ab 454px,#00b991 470px,#00b895 492px,#00b3a5 500px,#00a8c7 516px,#009fe3 534px,#0098f9 554px,#0096ff 562px,#0194fd 598px)"></b><b style="background:linear-gradient(90deg,#2c3697 0px,#2050b3 18px,#1d57bb 32px,#1e55b8 48px,#204fb3 74px,#1861c5 88px,#126fd5 92px,#0982e9 96px,#0095fe 98px,#00a4d2 98px,#00b59c 100px,#00c274 100px,#00cb58 102px,#0fcf59 104px,#2cd561 108px,#56dd6c 112px,#8ee87b 116px,#9ceb7f 118px,#a3ed80 120px,#9fec7f 124px,#8be87a 128px,#32d662 140px,#19d15c 144px,#09ce57 150px,#01cc55 162px,#02cc55 188px,#0ace58 196px,#27d45f 204px,#47da68 210px,#8de87b 220px,#c2f389 226px,#f7fd97 232px,#fdfc98 232px,#c3ac74 242px,#ac8d66 246px,#a38061 250px,#a38061 254px,#ad8e67 258px,#c5af76 264px,#fbf996 272px,#fafe98 272px,#b7f186 278px,#82e678 284px,#34d663 296px,#1bd15c 302px,#03cd56 312px,#00cb58 314px,#00c46f 322px,#00c178 328px,#00c273 334px,#00cb57 348px,#00cb57 408px,#00ca5a 420px,#00c56b 426px,#00bc88 432px,#00b1ab 448px,#00b0af 454px,#00b893 470px,#00b895 492px,#00b2a5 500px,#00a6cc 520px,#009ee6 536px,#0096ff 562px,#0194fd 598px)"></b><b style="background:linear-gradient(90deg,#2c3697 0px,#204fb3 18px,#1d56ba 32px,#1e54b8 48px,#214fb2 72px,#1a5cc1 86px,#146ad0 92px,#0a81e8 96px,#0193fc 98px,#00a2d9 98px,#00b3a4 100px,#00c07c 100px,#00c960 102px,#05cd56 102px,#35d763 108px,#8de87b 116px,#a1ec80 120px,#a2ec80 122px,#93e97c 126px,#67e171 132px,#33d663 140px,#19d15c 144px,#09ce58 150px,#01cc55 162px,#00cb58 172px,#00ca5a 186px,#03cd56 192px,#11cf5a 198px,#33d663 206px,#85e778 220px,#b8f186 226px,#f8fe97 232px,#fcfb97 232px,#c1aa73 242px,#a98965 246px,#9f7b5f 250px,#9f7b5f 254px,#a98965 258px,#c1aa73 264px,#feff99 272px,#b0ef84 280px,#7be576 286px,#34d663 296px,#1bd15c 302px,#03cd56 312px,#00cc55 314px,#00c46f 320px,#00c07b 326px,#00c178 332px,#00cb58 348px,#01cc55 360px,#00cb57 406px,#00c95d 420px,#00c46d 426px,#00ba8d 434px,#00afaf 448px,#00afb2 454px,#00b895 470px,#00b796 490px,#00b4a1 498px,#00a6cd 520px,#009ee7 538px,#0096ff 562px,#0195fd 598px)"></b><b style="background:linear-gradient(90deg,#2c3697 0px,#204fb2 18px,#1d56ba 32px,#1e54b8 48px,#214eb2 72px,#1b5cc0 86px,#1469cf 92px,#0a7fe7 96px,#0292fa 98px,#00a0e1 98px,#00b0ad 100px,#00bd84 100px,#00c667 102px,#03cd56 102px,#34d663 108px,#8de87b 116px,#a2ec80 120px,#a4ed81 122px,#9deb7f 124px,#87e779 128px,#34d663 140px,#1ad15c 144px,#0ace58 150px,#01cc55 162px,#00cb58 170px,#00c861 186px,#02cc55 194px,#16d05b 200px,#37d764 208px,#84e678 220px,#b8f186 226px,#f9fe97 232px,#fcfb97 232px,#bfa772 242px,#a68563 246px,#9c775d 250px,#9c775d 254px,#a58462 258px,#b89d6e 262px,#dfd386 268px,#fdfc98 272px,#f7fd97 274px,#b2f085 280px,#7ce576 286px,#3ad865 294px,#22d35e 300px,#09ce57 308px,#00cb57 314px,#00c46f 320px,#00bf7e 326px,#00c07b 332px,#00ca5a 348px,#00cc55 356px,#00cc56 404px,#00c95e 412px,#00c861 420px,#00c274 426px,#00ba8f 434px,#00afb2 448px,#00aeb5 454px,#00b797 470px,#00b796 488px,#00b59e 496px,#00a2da 528px,#009ceb 542px,#0096ff 562px,#0195fd 598px)"></b><b style="background:linear-gradient(90deg,#2c3697 0px,#204fb2 18px,#1d56ba 32px,#1e54b7 50px,#214eb1 72px,#1b5bbf 86px,#1569ce 92px,#0b7ee5 96px,#0390f8 98px,#009de8 98px,#00adb5 100px,#00ba8c 100px,#00c46e 102px,#02cc55 102px,#33d663 108px,#8de87b 116px,#a2ec80 120px,#a5ed81 122px,#9eec7f 124px,#88e779 128px,#35d763 140px,#1ad15c 144px,#0ace58 150px,#01cc55 162px,#00cb59 170px,#00c667 186px,#00c861 190px,#02cc55 194px,#19d15c 202px,#3cd865 208px,#83e678 220px,#b7f186 226px,#f9fe97 232px,#fbfa97 232px,#bda571 242px,#a48262 246px,#99735b 250px,#98725a 254px,#a27f60 258px,#b4986b 262px,#dccf84 268px,#faf896 272px,#fbfe98 274px,#b5f085 280px,#7de576 286px,#3bd865 294px,#22d35e 300px,#08ce57 308px,#00cc55 312px,#00c372 320px,#00be81 326px,#00bf7e 332px,#00ca5b 350px,#00cc55 358px,#00cc56 402px,#00c861 412px,#00c764 420px,#00c177 426px,#00b991 434px,#00adb6 450px,#00adb7 456px,#00b699 470px,#00b796 488px,#00b59e 496px,#009ee6 536px,#0096ff 562px,#0195fe 598px)"></b><b style="background:linear-gradient(90deg,#2c3697 0px,#214eb2 18px,#1d56ba 32px,#1e53b7 50px,#214eb1 72px,#1b5abf 86px,#1568cd 92px,#0c7de4 96px,#048ef6 98px,#009bf0 98px,#00abbd 100px,#00b895 100px,#00cc56 102px,#32d662 108px,#8ce87a 116px,#a2ec80 120px,#a6ed81 122px,#9fec80 124px,#8ae87a 128px,#36d763 140px,#1bd15c 144px,#0ace58 150px,#01cc55 162px,#00ca5a 170px,#00c46e 186px,#00c668 190px,#00ca5d 194px,#00cc57 194px,#12d05a 200px,#34d663 208px,#83e678 220px,#b7f186 226px,#fafe98 232px,#fbfa97 232px,#bba270 242px,#a17e60 246px,#966e59 250px,#956d58 254px,#9e795e 258px,#b09369 262px,#d9cb82 268px,#fefe99 274px,#adef83 280px,#77e475 286px,#3bd865 294px,#22d35e 300px,#06cd57 310px,#00cc55 312px,#00c372 318px,#00bd83 326px,#00bd83 332px,#00c56a 344px,#00cb57 354px,#01cc55 368px,#00cc56 402px,#00c764 412px,#00c667 420px,#00c079 426px,#00b893 434px,#00acb9 450px,#00acba 456px,#00b69b 470px,#00b797 488px,#00b59f 496px,#009de9 538px,#0096ff 562px,#0195fe 598px)"></b><b style="background:linear-gradient(90deg,#2c3597 0px,#214eb1 18px,#1e55b9 32px,#1e53b7 48px,#214db1 72px,#1d57bb 84px,#1764c9 90px,#0f75db 94px,#058cf4 98px,#0098f7 98px,#00a8c6 100px,#00b59d 100px,#00ca5c 102px,#07cd57 104px,#3bd865 110px,#8ce87a 116px,#a3ed80 120px,#a7ed81 122px,#a1ec80 124px,#8be87a 128px,#37d764 140px,#1bd15c 144px,#0ace58 150px,#01cc55 162px,#00ca5c 170px,#00c275 186px,#00c372 190px,#00c764 194px,#00cc56 196px,#19d15c 202px,#3fd966 210px,#8ae87a 220px,#c1f388 226px,#fafe98 232px,#fbf996 232px,#baa06f 242px,#9f7b5e 246px,#936a57 250px,#916856 254px,#9a745c 258px,#ad8e67 262px,#d6c680 268px,#fcfb97 274px,#f7fd97 274px,#b0ef84 280px,#78e475 286px,#3bd865 294px,#22d35e 300px,#06cd57 310px,#00cb57 312px,#00c371 318px,#00bd84 324px,#00bc88 330px,#00c07a 338px,#00ca5c 352px,#00cc55 358px,#00cb57 402px,#00c667 410px,#00c56c 422px,#00b797 434px,#00abbc 450px,#00abbe 454px,#00afb1 462px,#00b59d 470px,#00b798 486px,#00b49f 496px,#009de9 538px,#0096ff 562px,#0195fe 598px)"></b><b style="background:linear-gradient(90deg,#2c3597 0px,#204fb2 18px,#1d55b9 34px,#1f52b6 50px,#214db0 72px,#1c59bd 86px,#1666cb 92px,#0d7ae1 96px,#058af2 98px,#0096fe 98px,#00a6ce 100px,#00b3a5 100px,#00c862 102px,#06cd57 104px,#3ad865 110px,#8ce87a 116px,#a3ed80 120px,#a7ed82 122px,#a2ec80 124px,#8ce87a 128px,#38d764 140px,#1cd25c 144px,#0bce58 150px,#01cc55 162px,#00c95f 170px,#00c07b 186px,#00c179 190px,#00c56a 194px,#01cc55 196px,#1cd25c 204px,#44da67 210px,#89e779 220px,#c0f288 226px,#fafe98 232px,#faf996 232px,#b89e6e 242px,#9c775d 246px,#8f6655 250px,#8d6354 254px,#966f59 258px,#a98865 262px,#cbb779 268px,#f9f796 274px,#fbfe98 274px,#b3f085 280px,#79e475 286px,#3bd865 294px,#22d35e 300px,#06cd56 310px,#01cc55 312px,#00c95e 314px,#00c177 318px,#00bb89 326px,#00bb89 332px,#00c273 342px,#00cb5a 354px,#00cc55 360px,#00cc56 400px,#00c56a 410px,#00c470 422px,#00b69b 436px,#00abbe 450px,#00aac1 454px,#00aeb4 462px,#00b49f 470px,#00b699 486px,#00b4a0 496px,#00a4d3 526px,#009de9 538px,#0096ff 562px,#0195fe 598px)"></b><b style="background:linear-gradient(90deg,#2c3597 0px,#214eb2 18px,#1e55b9 34px,#1f52b5 52px,#214db0 72px,#1c58bc 86px,#1665cb 92px,#0d79df 96px,#0688f0 98px,#0194fd 98px,#00b0ad 100px,#00c669 102px,#04cd56 104px,#39d764 110px,#8be87a 116px,#a3ed81 120px,#a8ee82 122px,#a3ed80 124px,#8de87b 128px,#32d662 140px,#18d15c 146px,#09ce57 152px,#00cc56 164px,#00c275 180px,#00bd83 186px,#00bf7e 190px,#00c371 194px,#00cb5a 196px,#02cc55 198px,#1fd25d 204px,#4fdc6a 212px,#88e779 220px,#c0f288 226px,#fbfe98 232px,#faf896 232px,#b69b6d 242px,#9a745b 246px,#8c6153 250px,#8a5e52 254px,#926a57 258px,#a58362 262px,#c7b277 268px,#fefe99 274px,#aaee82 282px,#72e373 288px,#3bd865 294px,#22d35e 300px,#05cd56 310px,#01cc55 312px,#00c276 318px,#00bb8a 324px,#00ba8e 330px,#00be80 338px,#00ca5b 354px,#00cc55 360px,#00cc56 400px,#00c46d 410px,#00c273 422px,#00b59d 436px,#00aac1 450px,#00a9c5 454px,#00adb7 462px,#00b4a1 470px,#00b69a 486px,#00b4a0 496px,#00a7cb 522px,#009dea 538px,#0096ff 562px,#0195fe 598px)"></b><b style="background:linear-gradient(90deg,#2c3597 0px,#214eb1 18px,#1e55b9 34px,#1f52b5 52px,#224cb0 72px,#1c57bc 86px,#1665ca 92px,#0e77de 96px,#0786ee 98px,#0292fa 98px,#00a0df 100px,#00adb5 100px,#00c46f 102px,#03cd56 104px,#38d764 110px,#95ea7d 118px,#a3ed81 120px,#a9ee82 122px,#a4ed81 124px,#8fe97b 128px,#33d663 140px,#19d15c 146px,#09ce58 152px,#00cc56 164px,#00c668 172px,#00bc89 186px,#00bc88 190px,#00c178 194px,#00c860 196px,#00cc56 198px,#1dd25d 204px,#4edc6a 212px,#87e779 220px,#b5f085 226px,#eefc94 230px,#fbfe98 232px,#faf896 232px,#b5996c 242px,#97705a 246px,#895d51 250px,#885b51 256px,#8f6455 258px,#a17e60 262px,#c3ad75 268px,#fcfb97 274px,#f7fd97 276px,#adef83 282px,#73e374 288px,#3cd865 294px,#22d35e 300px,#05cd56 310px,#00cc55 312px,#00c179 318px,#00ba8d 324px,#00b991 330px,#00bd84 338px,#00cb5a 354px,#00cc55 362px,#00cb57 400px,#00c370 410px,#00c176 422px,#00b4a1 436px,#00a9c4 450px,#00a8c8 454px,#00abbd 460px,#00b3a5 470px,#00b69b 484px,#00b4a0 496px,#00a9c4 520px,#009dea 538px,#0096fe 562px,#0095fe 598px)"></b><b style="background:linear-gradient(90deg,#2c3597 0px,#214eb1 18px,#1e54b8 34px,#1f51b5 52px,#224caf 72px,#1d57bb 86px,#1764c9 92px,#0f76dc 96px,#0885ec 98px,#038ff8 98px,#009ee7 100px,#00abbd 100px,#00c275 102px,#01cc55 104px,#37d764 110px,#95ea7d 118px,#a4ed81 120px,#aaee82 122px,#a5ed81 124px,#90e97b 128px,#34d663 140px,#19d15c 146px,#0ace58 152px,#00cc56 164px,#00c56a 172px,#00b98f 186px,#00b991 188px,#00bd85 192px,#00c370 196px,#01cc55 198px,#21d35e 206px,#5ade6d 214px,#8ee87b 222px,#bff288 226px,#fbfe98 232px,#faf896 232px,#b3976b 242px,#956d58 246px,#895d51 250px,#885c52 252px,#885b51 258px,#98715a 262px,#b89e6e 266px,#f9f795 274px,#fbfe98 276px,#b0ef84 282px,#74e374 288px,#43d967 294px,#26d45f 298px,#0dcf58 306px,#00cc55 312px,#00c176 316px,#00bb8c 322px,#00b894 328px,#00ba8f 334px,#00c07a 344px,#00ca5b 354px,#00cc55 362px,#00cc56 400px,#00c863 404px,#00c273 410px,#00c079 422px,#00a8c7 450px,#00a7cb 454px,#00aabf 460px,#00b2a7 470px,#00b69c 484px,#00b4a1 496px,#00aac1 518px,#009dea 538px,#0096fe 562px,#0095fe 598px)"></b><b style="background:linear-gradient(90deg,#2c3596 0px,#214eb1 18px,#1e54b8 34px,#1f51b5 52px,#224caf 72px,#1e55b9 84px,#1763c8 92px,#0f74db 96px,#0983ea 98px,#048df6 98px,#009bef 100px,#00a8c6 100px,#00cc56 104px,#41d966 110px,#94ea7d 118px,#a4ed81 120px,#aaee82 122px,#a6ed81 124px,#91e97c 128px,#34d663 140px,#1ad15c 146px,#0ace58 152px,#00cb57 164px,#00c669 172px,#00b796 186px,#00b798 188px,#00bb8c 192px,#00c177 196px,#00cb59 198px,#02cc56 200px,#2ad460 208px,#76e474 218px,#a9ee82 224px,#e1f991 230px,#fbfe98 232px,#f9f796 232px,#ab8b66 242px,#926a57 246px,#8a5d52 248px,#875b51 250px,#8b5f56 254px,#885b51 258px,#946c58 262px,#b4996c 266px,#fefe99 276px,#a7ed82 282px,#6ce272 288px,#3dd865 294px,#22d35e 300px,#02cc56 310px,#00cc56 312px,#00c179 316px,#00ba8f 322px,#00b797 328px,#00b992 334px,#00be81 342px,#00ca5b 354px,#00cc56 362px,#00cb57 400px,#00c764 404px,#00c176 410px,#00bf7d 422px,#00a6cc 450px,#00a6cd 456px,#00abbc 462px,#00b2a7 470px,#00b59d 484px,#00b4a2 496px,#00abbe 518px,#00a1dc 532px,#009ceb 540px,#0096fe 562px,#0095fe 598px)"></b><b style="background:linear-gradient(90deg,#2c3596 0px,#214eb1 20px,#1e54b8 36px,#204fb3 54px,#224caf 74px,#1c59bd 88px,#146acf 94px,#0d7ae0 96px,#058bf3 98px,#0098f8 100px,#00a6ce 100px,#00be81 102px,#00ca5a 104px,#08ce57 104px,#40d966 110px,#94ea7c 118px,#a4ed81 120px,#abee83 122px,#a6ed81 124px,#92e97c 128px,#35d763 140px,#1ad15c 146px,#0ace58 152px,#00cc55 162px,#00c668 170px,#00ba8e 182px,#00b59f 186px,#00b59d 190px,#00ba8d 194px,#00c274 196px,#00cc55 200px,#29d460 208px,#74e374 218px,#a8ee82 224px,#e1f991 230px,#fbfe98 232px,#f9f796 232px,#a98965 242px,#906756 246px,#875b50 248px,#8d6258 254px,#895d53 258px,#885b51 260px,#956e59 262px,#b99e6e 268px,#fcfb97 276px,#f6fd97 276px,#aaee82 282px,#6de272 288px,#3dd865 294px,#23d35e 300px,#02cc56 310px,#00cb57 312px,#00c07b 316px,#00b992 322px,#00b69a 328px,#00b895 334px,#00bd84 342px,#00ca5c 354px,#00cc56 360px,#00cb57 398px,#00c95e 402px,#00c178 410px,#00be82 422px,#00abbb 444px,#00a5cf 450px,#00a5d0 456px,#00aabf 462px,#00b1a9 470px,#00b59e 484px,#00b3a2 496px,#00acbb 516px,#00a3d6 530px,#009ceb 538px,#0096fe 562px,#0095fe 598px)"></b><b style="background:linear-gradient(90deg,#2c3596 0px,#214eb1 20px,#1e54b8 36px,#204fb2 54px,#224caf 74px,#1d56ba 86px,#1665ca 92px,#0e78df 96px,#0689f1 98px,#0096fe 100px,#00bc87 102px,#00c95f 104px,#07cd57 104px,#3fd966 110px,#94ea7c 118px,#a4ed81 120px,#acee83 122px,#a7ed82 124px,#93e97c 128px,#36d763 140px,#1bd15c 146px,#0ace58 152px,#00cc55 162px,#00c669 170px,#00b894 182px,#00b2a5 186px,#00b3a5 190px,#00b894 194px,#00c371 198px,#00ca5a 200px,#03cd56 200px,#2dd561 208px,#7be576 220px,#b2f084 226px,#eefc94 230px,#fbfe98 232px,#f9f795 232px,#a88764 242px,#8e6354 246px,#895c51 248px,#8e645b 254px,#8b5f56 258px,#885b51 260px,#98715a 264px,#bda471 268px,#f9f795 276px,#fbfe98 276px,#adef83 282px,#6ee272 288px,#3ed865 294px,#23d35e 300px,#02cc55 310px,#00cb58 312px,#00bf7e 316px,#00b895 322px,#00b59d 328px,#00b798 334px,#00bc87 342px,#00c95d 354px,#00cb57 360px,#00cb57 398px,#00ca5c 402px,#00c07b 410px,#00bd85 422px,#00acba 442px,#00a4d1 450px,#00a4d3 456px,#00a9c2 462px,#00b1ab 470px,#00b59f 484px,#00b3a4 498px,#00acba 516px,#00a3d6 530px,#009ceb 538px,#0096fe 562px,#0095fe 598px)"></b><b style="background:linear-gradient(90deg,#2c3596 0px,#214eb1 20px,#1e54b7 36px,#204fb2 54px,#224bae 74px,#1d55b9 86px,#1764c9 92px,#0e76dd 96px,#0787ee 98px,#0193fc 100px,#00a1de 100px,#00adb8 102px,#00c763 104px,#06cd56 104px,#3ed866 110px,#93e97c 118px,#a4ed81 120px,#acee83 122px,#a8ee82 124px,#95ea7d 128px,#37d764 140px,#1bd15c 146px,#0bce58 152px,#00cc56 162px,#00c56b 170px,#00b894 180px,#00b1aa 186px,#00b0ae 188px,#00b2a5 192px,#00b893 194px,#00c46d 198px,#01cc55 200px,#2bd561 208px,#7ae476 220px,#b1ef84 226px,#edfb94 230px,#fbfe98 232px,#f9f795 232px,#a68563 242px,#8c6053 246px,#875a51 248px,#90665c 252px,#8e645b 258px,#885b51 262px,#a27e60 266px,#e5db89 274px,#fefe99 276px,#a4ed81 284px,#67e170 290px,#3ed866 294px,#23d35e 300px,#02cc55 310px,#00cb59 312px,#00be80 316px,#00b797 322px,#00b4a0 328px,#00b69a 336px,#00bb8b 342px,#00c95e 354px,#00cb58 360px,#00cc56 392px,#00ca5a 400px,#00bf7d 410px,#00bb8a 424px,#00acb9 442px,#00a4d4 450px,#00a3d7 456px,#00a7c8 462px,#00b0ad 470px,#00b4a0 484px,#00b3a4 498px,#00adb7 516px,#00a4d2 528px,#009dea 538px,#0097fd 562px,#0095fe 598px)"></b><b style="background:linear-gradient(90deg,#2c3596 0px,#214eb1 20px,#1e54b7 40px,#224aad 70px,#1f52b6 84px,#1960c5 92px,#126fd5 96px,#0c7be2 98px,#0291f9 100px,#009ee6 100px,#00aabf 102px,#00c668 104px,#04cd56 104px,#3dd865 110px,#93e97c 118px,#a4ed81 120px,#adef83 122px,#a9ee82 124px,#96ea7d 128px,#31d662 142px,#18d15b 146px,#09ce57 152px,#00cc56 162px,#00c669 170px,#00b798 180px,#00afb1 186px,#00aeb5 188px,#00b0ad 192px,#00b69a 194px,#00c274 198px,#00ca5a 200px,#03cd56 202px,#37d764 210px,#81e678 220px,#b0ef84 226px,#edfb94 230px,#fbfe98 232px,#f9f795 232px,#a48362 242px,#895d51 246px,#895c52 248px,#91685f 252px,#90675d 258px,#885c52 262px,#8a5e52 262px,#ad8f67 268px,#fcfb97 276px,#f6fd96 278px,#a7ed81 284px,#68e171 290px,#3fd966 294px,#24d35e 300px,#01cc55 310px,#00ca5a 312px,#00be82 316px,#00b797 322px,#00b3a3 328px,#00b59d 336px,#00ba8e 342px,#00c95f 354px,#00cb58 360px,#00cc55 390px,#00ca5b 400px,#00be80 410px,#00ba8d 424px,#00acbb 442px,#00a3d7 450px,#00a2da 456px,#00a7cb 462px,#00afaf 470px,#00b4a1 484px,#00b2a6 498px,#00adb6 516px,#00a4d2 528px,#009dea 538px,#0097fd 562px,#0095fe 598px)"></b><b style="background:linear-gradient(90deg,#2c3596 0px,#214eb1 20px,#1e53b7 38px,#234aad 72px,#1f53b6 86px,#1862c7 92px,#1073d9 96px,#0982ea 98px,#038ef7 100px,#009bee 100px,#00a8c6 102px,#00c46d 104px,#03cd56 104px,#3cd865 110px,#93e97c 118px,#a4ed81 120px,#adef83 122px,#aaee82 124px,#97ea7d 128px,#32d662 142px,#19d15c 146px,#0ace58 152px,#00cb57 162px,#00c56a 170px,#00b59d 180px,#00adb7 186px,#00abbc 188px,#00aeb4 192px,#00b4a1 194px,#00c07a 198px,#01cc55 202px,#35d763 210px,#80e677 220px,#b0ef84 226px,#edfb94 230px,#fbfe98 232px,#f9f795 232px,#a38161 242px,#875b50 246px,#926960 252px,#936a61 256px,#8a5f55 262px,#885b51 262px,#926a57 264px,#baa16f 270px,#f9f795 276px,#fafe98 278px,#a9ee82 284px,#69e171 290px,#40d966 294px,#24d35f 300px,#01cc55 310px,#00c765 312px,#00bd85 316px,#00b69a 322px,#00b2a6 326px,#00b3a3 334px,#00b895 342px,#00c960 354px,#00cb58 360px,#00cc55 388px,#00ca5b 400px,#00c371 406px,#00bd83 410px,#00b992 424px,#00acba 440px,#00a2da 450px,#00a1dd 456px,#00a6ce 462px,#00afb1 470px,#00b3a2 484px,#00b2a6 498px,#00adb5 516px,#00a6ce 528px,#009dea 538px,#0097fd 562px,#0095fe 598px)"></b><b style="background:linear-gradient(90deg,#2c3596 0px,#214eb1 20px,#1e53b7 38px,#234aad 70px,#2051b4 84px,#1861c6 92px,#1172d8 96px,#0a80e7 98px,#058cf4 100px,#0099f6 100px,#00a6cd 102px,#00c372 104px,#02cc56 104px,#3bd865 110px,#92e97c 118px,#a4ed81 120px,#aeef83 122px,#abee83 124px,#98ea7e 128px,#33d663 142px,#19d15c 146px,#0ace58 152px,#00cb57 162px,#00c56c 170px,#00b4a2 180px,#00abbe 186px,#00a9c3 188px,#00acbb 192px,#00b2a8 194px,#00be81 198px,#00cb58 202px,#0fcf59 204px,#3ad865 212px,#88e779 222px,#baf187 226px,#fbfe98 232px,#f9f795 232px,#a27f60 242px,#8b6053 246px,#885b51 246px,#936b62 252px,#956d64 256px,#8c6158 262px,#885b51 264px,#a68463 268px,#feff99 278px,#acee83 284px,#74e374 288px,#48da68 294px,#29d460 298px,#10cf59 306px,#01cc55 310px,#00bc87 316px,#00b59d 322px,#00b1a9 326px,#00b2a7 334px,#00b798 342px,#00c860 354px,#00cb59 360px,#00cc55 388px,#00ca5c 400px,#00c273 406px,#00bc86 410px,#00ba8e 418px,#00b796 426px,#00abbc 440px,#00a1dd 450px,#00a0e1 454px,#00a3d7 460px,#00aeb3 470px,#00b3a3 484px,#00b2a6 498px,#00aeb3 514px,#00a6cd 528px,#009dea 538px,#0097fc 560px,#0095fe 598px)"></b><b style="background:linear-gradient(90deg,#2c3596 0px,#214eb1 22px,#1f53b6 42px,#234aad 68px,#214eb1 82px,#1c58bd 90px,#146bd1 96px,#0b7ee5 98px,#0096fd 100px,#00a3d5 102px,#00c176 104px,#01cc55 104px,#3ad865 110px,#92e97c 118px,#a4ed81 120px,#aeef84 122px,#acee83 124px,#99eb7e 128px,#63e06f 136px,#34d663 142px,#1ad15c 146px,#0ace58 152px,#00cc55 162px,#00c46d 170px,#00b4a0 180px,#00a9c5 186px,#00a7cb 188px,#00a9c2 192px,#00b0af 194px,#00bc88 198px,#00c95e 202px,#02cc56 202px,#39d764 212px,#87e779 222px,#b9f186 226px,#ecfb94 230px,#fafe98 232px,#f9f795 232px,#a07d5f 242px,#8a5d52 246px,#895d53 246px,#956d64 252px,#976f67 256px,#8e645b 262px,#895c52 264px,#8a5f52 264px,#b3966b 270px,#fcfb97 278px,#f4fd96 278px,#afef84 284px,#76e474 288px,#49db68 294px,#2ad460 298px,#10cf59 306px,#01cc55 310px,#00bb8a 316px,#00b4a0 322px,#00b0ac 326px,#00b1aa 334px,#00b69c 342px,#00c861 354px,#00cb5a 358px,#00cc55 386px,#00ca5c 400px,#00c46f 404px,#00bb89 410px,#00b990 416px,#00b699 426px,#00abbd 440px,#00a0e0 450px,#009fe4 454px,#00a2da 460px,#00adb5 470px,#00b3a4 484px,#00b2a8 500px,#00aeb2 514px,#00a6cc 528px,#009deb 538px,#0097fc 560px,#0095fe 598px)"></b><b style="background:linear-gradient(90deg,#2c3596 0px,#214eb1 22px,#1f52b6 42px,#2349ac 68px,#214eb2 84px,#1a5dc1 92px,#126ed4 96px,#0c7ce3 98px,#0194fd 100px,#00a1dc 102px,#00c07b 104px,#00cc56 104px,#39d764 110px,#91e97c 118px,#a4ed81 120px,#afef84 122px,#adef83 124px,#9beb7e 128px,#64e070 136px,#35d763 142px,#1ad15c 146px,#0ace58 152px,#00cc55 162px,#00c46f 170px,#00b3a5 180px,#00a6cb 186px,#00a4d2 188px,#00a7c9 192px,#00adb6 194px,#00ba8f 198px,#00c765 202px,#00cc55 202px,#37d764 212px,#86e779 222px,#b8f186 226px,#ecfb94 230px,#fafe98 232px,#f9f795 232px,#9f7b5f 242px,#885b50 246px,#966f66 252px,#987269 256px,#90675e 262px,#885b51 264px,#9e795e 268px,#faf896 278px,#f9fe97 278px,#b2f085 284px,#78e475 288px,#4adb69 294px,#2ad460 298px,#10cf59 306px,#01cc55 310px,#00bd84 316px,#00b797 318px,#00b1ab 324px,#00afb0 330px,#00b3a4 340px,#00b893 344px,#00c862 354px,#00ca5a 358px,#00cc55 386px,#00ca5b 400px,#00c765 402px,#00bb8c 410px,#00b894 416px,#00b69c 426px,#00abbc 440px,#009fe3 450px,#009ee7 454px,#00a1dd 460px,#00adb8 470px,#00b2a5 484px,#00b1a8 502px,#00afb1 514px,#00a6cb 528px,#009ceb 538px,#0097fc 560px,#0095fe 596px,#0095fe 598px)"></b><b style="background:linear-gradient(90deg,#2c3496 0px,#214eb2 22px,#1f52b5 44px,#2349ac 68px,#214db0 82px,#1d57bb 90px,#1568ce 96px,#0d7ae0 98px,#0292fa 100px,#009fe3 102px,#00bf7f 104px,#00cb59 104px,#09ce57 106px,#38d764 110px,#9beb7e 118px,#abee83 120px,#b1ef84 122px,#abee83 126px,#95ea7d 130px,#36d763 142px,#1bd15c 146px,#0bce58 152px,#00cc55 162px,#00c56c 168px,#00b1a9 180px,#00a4d2 186px,#00a2d9 188px,#00a5d0 192px,#00abbc 194px,#00b895 198px,#00c07b 200px,#00ca5a 202px,#04cd56 204px,#35d763 212px,#8ee87b 222px,#c3f389 228px,#fafe98 232px,#f9f796 232px,#956e59 244px,#885b51 246px,#966e66 250px,#9a756c 256px,#956d64 260px,#895d53 264px,#8a5e52 266px,#bea571 272px,#f7f494 278px,#feff99 278px,#b6f085 284px,#7ae475 288px,#4bdb69 294px,#2bd560 298px,#11cf59 306px,#01cc55 310px,#00bc86 316px,#00b699 318px,#00b0ae 324px,#00aeb3 330px,#00b2a8 340px,#00b69b 344px,#00c863 354px,#00ca5a 358px,#00cc55 384px,#00ca5b 400px,#00c766 402px,#00bb8b 408px,#00b893 412px,#00b59f 426px,#00abbe 440px,#009ee6 450px,#009dea 454px,#00a0e0 460px,#00acba 470px,#00b2a6 484px,#00b1aa 504px,#00afb0 514px,#00a7cb 528px,#009ceb 538px,#0097fb 558px,#0096fe 594px,#0095fe 598px)"></b><b style="background:linear-gradient(90deg,#2c3496 0px,#214eb1 22px,#1f51b5 44px,#2349ac 68px,#214db0 84px,#1b5bbf 92px,#136bd1 96px,#0e77de 98px,#038ff8 100px,#009dea 102px,#00bd84 104px,#00c95d 104px,#08ce57 106px,#43d967 112px,#9beb7e 118px,#abee83 120px,#b2f084 122px,#acee83 126px,#96ea7d 130px,#37d764 142px,#1bd15c 146px,#0bce58 152px,#00cc55 162px,#00c46d 168px,#00b0ad 180px,#00a2d8 186px,#00a0e0 188px,#00a3d8 192px,#00a9c3 194px,#00b59c 198px,#00be82 200px,#00c860 202px,#02cc56 204px,#34d663 212px,#8de87b 222px,#c2f389 228px,#f9fe97 232px,#f9f796 232px,#946c58 244px,#8c6053 244px,#895c52 246px,#977068 250px,#9c776f 256px,#977067 260px,#885b51 266px,#966e59 268px,#fdfc98 278px,#f3fd96 280px,#abee83 284px,#71e373 290px,#44da67 294px,#27d45f 300px,#00cc55 310px,#00bc88 316px,#00b59c 318px,#00afb1 324px,#00adb6 330px,#00b1ab 340px,#00b59e 344px,#00c764 354px,#00ca5b 358px,#00cc55 384px,#00ca5c 400px,#00c667 402px,#00ba8d 408px,#00b797 412px,#00b3a3 426px,#00aac0 440px,#009de9 450px,#009ced 454px,#009fe3 460px,#00abbc 470px,#00b2a7 484px,#00b1ab 510px,#00acb9 520px,#00a6cd 528px,#009ceb 538px,#0097fa 556px,#0096ff 590px,#0096ff 598px)"></b><b style="background:linear-gradient(90deg,#2c3496 0px,#214eb1 22px,#1f51b5 44px,#2348ab 68px,#224caf 84px,#1b5abf 92px,#146acf 96px,#0f75dc 98px,#048df5 100px,#009af1 102px,#00bc89 104px,#00c861 104px,#07cd57 106px,#42d966 112px,#9beb7e 118px,#abee83 120px,#b2f085 122px,#adef83 126px,#98ea7d 130px,#38d764 142px,#1cd25c 146px,#0bce58 152px,#00cc55 162px,#00c46e 168px,#00afb2 180px,#00a2d9 184px,#009ee7 188px,#009fe3 190px,#00a4d2 194px,#00b3a3 198px,#00bc88 200px,#00cc55 204px,#32d662 212px,#8ce87a 222px,#c1f388 228px,#f9fe97 232px,#faf896 232px,#926a57 244px,#8a5e52 244px,#895d53 246px,#987269 250px,#9e7a71 256px,#99726a 260px,#8a5e54 266px,#895d51 266px,#c0a873 272px,#faf896 278px,#f7fd97 280px,#afef84 284px,#73e374 290px,#46da68 294px,#27d45f 300px,#00cc55 310px,#00bb8a 316px,#00b59e 318px,#00aeb4 324px,#00acb9 330px,#00b0ae 340px,#00b4a1 344px,#00c765 354px,#00ca5b 358px,#00cc55 384px,#00ca5c 400px,#00c668 402px,#00b990 408px,#00b69a 412px,#00b2a7 428px,#00a9c2 440px,#009cec 450px,#009bf1 454px,#009ee6 460px,#00abbe 470px,#00b1a8 484px,#00b1ab 512px,#00aabf 524px,#00a4d4 530px,#009ceb 538px,#0098fa 556px,#0096ff 592px,#0096ff 598px)"></b><b style="background:linear-gradient(90deg,#2d3495 0px,#214eb2 24px,#2051b4 46px,#2348ab 68px,#224cb0 84px,#195fc3 94px,#136dd3 98px,#1073d9 98px,#058bf3 100px,#0098f8 102px,#00ba8d 104px,#00c764 104px,#06cd57 106px,#41d966 112px,#9aeb7e 118px,#acee83 120px,#b3f085 122px,#aeef83 126px,#99eb7e 130px,#39d764 142px,#1cd25d 146px,#0bce58 152px,#00cc55 162px,#00c46f 168px,#00b0ae 178px,#00a0df 184px,#009bee 188px,#009cee 190px,#00a0e0 192px,#00abbe 196px,#00b59e 200px,#00c46d 202px,#00ca5a 204px,#04cd56 204px,#30d662 212px,#8ae87a 222px,#c0f288 228px,#f8fe97 232px,#faf896 232px,#916856 244px,#895c51 244px,#9a746b 250px,#a07c74 256px,#9b756d 260px,#8c6157 266px,#885b51 266px,#8e6354 268px,#dacc82 276px,#f7f494 278px,#fcfe98 280px,#b2f084 284px,#75e374 290px,#47da68 294px,#28d460 300px,#00cc55 310px,#00ba8c 316px,#00b4a1 318px,#00adb7 324px,#00abbc 330px,#00aeb2 340px,#00b3a4 344px,#00c765 354px,#00ca5c 358px,#00cc56 384px,#00ca5c 400px,#00c669 402px,#00b893 408px,#00b59d 412px,#00b1ab 428px,#00a9c4 440px,#009bef 450px,#009af4 454px,#009de9 460px,#00aac0 470px,#00b1a9 484px,#00b1ab 512px,#00a9c2 526px,#009cec 538px,#0098f9 554px,#0096ff 592px,#0096ff 598px)"></b><b style="background:linear-gradient(90deg,#2d3495 0px,#214eb2 24px,#2051b4 46px,#2448ab 68px,#224caf 84px,#195ec3 94px,#136cd2 98px,#1072d8 98px,#0689f1 100px,#0096fe 102px,#00b893 104px,#00c56a 104px,#05cd56 106px,#40d966 112px,#9aeb7e 118px,#acee83 120px,#b4f085 122px,#afef84 126px,#9aeb7e 130px,#39d764 142px,#1dd25d 146px,#0cce58 152px,#00cc56 162px,#00c372 168px,#00acbb 180px,#009ee4 184px,#009af3 188px,#009af3 190px,#009ee6 192px,#00a9c4 196px,#00b3a4 200px,#00c274 202px,#00c862 204px,#02cc56 204px,#2dd561 212px,#87e779 222px,#bdf287 228px,#f6fd96 232px,#fbfa97 232px,#916856 244px,#885c51 244px,#9b756d 250px,#a17e76 256px,#9d786f 260px,#8e645a 266px,#8a5e54 266px,#895d51 268px,#ccb97a 274px,#fefd98 280px,#9aeb7e 286px,#62e06f 292px,#39d764 296px,#1fd25d 302px,#00cb57 310px,#00bc86 314px,#00b49f 318px,#00adb8 324px,#00aac0 328px,#00acb9 338px,#00afb1 342px,#00b798 346px,#00c56a 354px,#00c95f 358px,#00cc57 380px,#00c95d 400px,#00c56a 402px,#00b894 408px,#00b59e 412px,#00b0ac 428px,#00a8c5 440px,#009af1 450px,#0099f6 454px,#009cec 460px,#00aac1 470px,#00b1ab 482px,#00b1a9 508px,#00afb0 516px,#00a9c4 526px,#009ceb 538px,#0098fa 554px,#0096ff 592px,#0096ff 598px)"></b><b style="background:linear-gradient(90deg,#2d3495 0px,#214eb2 24px,#1f51b5 44px,#2448ab 68px,#224caf 84px,#195ec3 94px,#136cd2 98px,#1172d8 98px,#0688f0 100px,#0095fe 102px,#00a5cf 102px,#00b69b 104px,#00c372 104px,#03cd56 106px,#3fd966 112px,#9aeb7e 118px,#acee83 120px,#b5f085 122px,#b0ef84 126px,#9ceb7e 130px,#3ad864 142px,#1dd25d 146px,#0cce58 152px,#01cc55 160px,#00c470 168px,#00aac0 180px,#009bee 186px,#0098f8 188px,#009bf0 192px,#00a1dc 194px,#00b1ab 200px,#00bf7d 202px,#00cb58 204px,#10cf59 208px,#40d966 214px,#82e678 222px,#acee83 226px,#e1f991 230px,#fefe98 232px,#926957 244px,#895d51 244px,#8e645b 246px,#9d7971 252px,#a28078 256px,#9c776f 262px,#8c6158 266px,#885b51 268px,#8e6354 268px,#fbf996 280px,#f6fd97 280px,#abee83 286px,#6ee272 290px,#41d966 296px,#23d35e 300px,#02cc55 310px,#00ca5c 310px,#00bb8b 314px,#00b3a3 318px,#00abbc 324px,#00a9c4 328px,#00abbe 338px,#00adb6 342px,#00b59e 346px,#00c371 354px,#00c766 358px,#00cb59 378px,#00ca5c 396px,#00c861 400px,#00c178 404px,#00b798 410px,#00b4a1 414px,#00b0ae 428px,#00a8c7 440px,#009af2 450px,#0098f7 454px,#009ced 460px,#00a9c2 470px,#00b1ab 482px,#00b1a9 502px,#00b0ac 514px,#00a9c4 526px,#009dea 538px,#0098fa 554px,#0096ff 590px,#0095fe 598px)"></b><b style="background:linear-gradient(90deg,#2d3495 0px,#214eb1 22px,#1f52b5 44px,#2448ab 68px,#224caf 84px,#195ec3 94px,#136cd1 98px,#1171d7 98px,#0787ef 100px,#0194fc 102px,#00a3d5 102px,#00b4a2 104px,#00c179 104px,#01cc55 106px,#3ed865 112px,#9aeb7e 118px,#adef83 120px,#b6f085 122px,#b2f084 126px,#9deb7f 130px,#3ad865 142px,#1dd25d 146px,#0cce58 152px,#00cc55 160px,#00c372 168px,#00a6cd 180px,#009af2 186px,#0097fb 188px,#0099f4 192px,#00a2d9 196px,#00aeb3 200px,#00bd86 202px,#00c861 204px,#02cc56 206px,#2dd561 212px,#73e374 222px,#a6ed81 226px,#ddf890 230px,#fcfe98 232px,#f7f494 234px,#8a5e52 244px,#8a5e54 246px,#9c766e 250px,#a3817a 256px,#a07d75 260px,#926960 266px,#8a5e55 268px,#895d51 268px,#d9cb82 276px,#f7f594 280px,#fbfe98 280px,#aeef83 286px,#6fe273 290px,#41d966 296px,#22d35e 300px,#00cc56 310px,#00b98f 314px,#00b2a8 318px,#00aac0 324px,#00a7c8 328px,#00a9c2 338px,#00adb7 342px,#00c274 356px,#00c669 360px,#00ca5b 378px,#00c95d 396px,#00c862 400px,#00c178 404px,#00b797 410px,#00b4a2 416px,#00afb1 430px,#00a7c9 440px,#009af4 450px,#0098f9 454px,#009bee 460px,#00a9c3 470px,#00b1ab 482px,#00b1a9 498px,#00b0ac 514px,#00a9c4 526px,#009de8 538px,#0097fa 554px,#0096fe 588px,#0095fe 598px)"></b><b style="background:linear-gradient(90deg,#2d3495 0px,#214eb1 22px,#1f52b6 44px,#2448ab 66px,#224bae 84px,#1c59be 92px,#136cd1 98px,#0d7ae1 100px,#0292fb 102px,#00a1db 102px,#00b1a9 104px,#00ca5a 106px,#0ace58 106px,#3cd865 112px,#9aeb7e 118px,#adef83 120px,#b7f186 122px,#b3f085 126px,#9eec7f 130px,#64e070 136px,#34d663 142px,#19d15c 148px,#0ace58 154px,#00cc55 160px,#00c275 168px,#00afb0 176px,#00a2d9 182px,#0099f5 186px,#0096fe 188px,#0098f9 192px,#00a0df 196px,#00acba 200px,#00ba8e 202px,#00cb58 206px,#0ace58 208px,#3ed866 216px,#77e475 222px,#a1ec80 226px,#d8f78e 230px,#f7fd97 232px,#faf896 234px,#8b5f52 244px,#8a5e54 246px,#9c776f 250px,#a5837b 256px,#a38179 260px,#987168 264px,#885b52 268px,#8e6454 270px,#fefe98 280px,#a4ed81 286px,#67e170 292px,#3ad864 296px,#1dd25d 302px,#02cc56 308px,#00ca5a 310px,#00b894 314px,#00b0ac 318px,#00a9c4 324px,#00a6cd 328px,#00a8c7 338px,#00abbc 342px,#00c07b 356px,#00c46d 362px,#00c95d 378px,#00c95f 396px,#00c863 400px,#00c178 404px,#00b796 410px,#00b4a1 416px,#00aeb2 430px,#00a7cb 440px,#0099f5 450px,#0098fa 454px,#009bf0 460px,#00a9c3 470px,#00b1ab 482px,#00b1a9 496px,#00b0ad 514px,#00a9c4 526px,#009ee7 538px,#0098fa 554px,#0096fe 584px,#0095fe 598px)"></b><b style="background:linear-gradient(90deg,#2d3495 0px,#214eb2 22px,#1f52b6 44px,#2448ab 66px,#224bae 84px,#1c59be 92px,#136bd1 98px,#0d7ae0 100px,#0291f9 102px,#00a0e1 102px,#00afb1 104px,#00c861 106px,#08ce57 106px,#3bd865 112px,#9aeb7e 118px,#aeef83 120px,#b8f186 122px,#b5f085 126px,#a0ec80 130px,#65e070 136px,#34d663 142px,#1ad15c 148px,#0ace58 154px,#00cc55 160px,#00c178 168px,#00afaf 174px,#00a1de 182px,#0098f9 186px,#0095fe 188px,#0097fd 192px,#009ee5 196px,#00aac1 200px,#00b797 202px,#00c862 206px,#01cc55 206px,#33d662 214px,#71e373 222px,#9ceb7f 226px,#d3f68d 230px,#f2fc96 232px,#fdfc98 234px,#8b6053 244px,#895d53 246px,#9c776f 250px,#a6847d 256px,#a5837c 260px,#9a746b 264px,#8a5e55 268px,#8a5e52 270px,#fbf996 280px,#f5fd96 282px,#a7ed82 286px,#74e374 290px,#4bdb69 294px,#26d45f 300px,#0cce58 306px,#01cc55 308px,#00b799 314px,#00afb0 318px,#00a7c8 324px,#00a5d1 328px,#00a6cc 338px,#00aac1 342px,#00bf7e 356px,#00c56a 366px,#00c95e 380px,#00c862 400px,#00c56c 402px,#00b796 410px,#00b4a1 416px,#00aeb3 430px,#00a6cd 440px,#0099f4 450px,#0097fc 454px,#0098f7 458px,#00a1dc 464px,#00aac1 472px,#00b1ab 482px,#00b1a9 496px,#00b0ad 514px,#00a9c4 526px,#009ee6 538px,#0097fa 554px,#0096fe 582px,#0095fe 598px)"></b><b style="background:linear-gradient(90deg,#2d3495 0px,#214eb2 22px,#1f53b6 44px,#2448ab 66px,#224bae 84px,#1d57bb 90px,#136bd1 98px,#0d79e0 100px,#038ff8 102px,#009ee7 102px,#00adb8 104px,#00c668 106px,#06cd57 106px,#3ad865 112px,#9aeb7e 118px,#aeef83 120px,#b9f186 122px,#b6f086 126px,#a1ec80 130px,#66e070 136px,#35d763 142px,#1ad15c 148px,#0ace58 154px,#00cc56 160px,#00c07b 168px,#00b0ae 174px,#0097fc 186px,#0194fd 188px,#0097fd 192px,#009fe2 196px,#00a8c8 200px,#00b49f 202px,#00ca5a 206px,#04cd56 208px,#35d763 216px,#6ce272 222px,#96ea7d 226px,#cef58c 230px,#feff99 234px,#8d6253 244px,#895d53 246px,#9d7870 250px,#a7867e 256px,#a6857e 260px,#9c776e 264px,#885b51 270px,#8f6555 270px,#f7f594 280px,#fafe98 282px,#abee83 286px,#76e474 290px,#4cdb69 294px,#26d45f 300px,#0ace58 306px,#03cd56 308px,#00cb58 308px,#00b893 314px,#00b0ae 316px,#00a9c2 320px,#00a4d3 326px,#00a4d4 334px,#00a7ca 342px,#00afb0 348px,#00bd85 356px,#00c46e 366px,#00c960 380px,#00c862 398px,#00c668 402px,#00b895 410px,#00b3a2 416px,#00adb7 430px,#00a4d3 440px,#0099f6 450px,#0097fd 454px,#0098f9 458px,#00a1de 464px,#00a9c2 472px,#00b1ab 482px,#00b1a9 494px,#00b0ae 514px,#00a9c4 526px,#009ee6 538px,#0097fb 554px,#0096fe 580px,#0195fe 598px)"></b><b style="background:linear-gradient(90deg,#2d3495 0px,#214eb1 22px,#1e53b7 42px,#2448aa 68px,#224baf 84px,#195fc3 94px,#146bd1 98px,#0e78df 100px,#048ef6 102px,#009ced 102px,#00aabf 104px,#00c46f 106px,#04cd56 106px,#46da68 112px,#9aeb7e 118px,#aeef84 120px,#baf186 122px,#b7f186 126px,#a3ed80 130px,#70e273 136px,#3dd865 142px,#1ed25d 146px,#0cce58 152px,#00cb57 160px,#00bf7e 168px,#00aeb4 174px,#0096ff 186px,#0193fc 190px,#0097fd 194px,#00a2d8 198px,#00adb6 202px,#00bc88 204px,#01cc56 208px,#30d662 216px,#5edf6e 222px,#85e779 226px,#b9f186 230px,#fafe98 234px,#f8f595 234px,#8e6354 244px,#895c52 246px,#9d7870 250px,#a88780 256px,#a88780 260px,#9e7a71 264px,#8a5e55 270px,#8a5e52 270px,#fefe99 282px,#a0ec80 288px,#6ce272 292px,#44da67 296px,#20d25e 300px,#02cc55 308px,#00ca5d 308px,#00b798 314px,#00aeb2 316px,#00a8c6 320px,#00a3d7 326px,#00a2d9 334px,#00a5cf 342px,#00afb1 348px,#00bc88 358px,#00c372 366px,#00c862 380px,#00c863 398px,#00c669 402px,#00b894 410px,#00b3a2 416px,#00acb8 430px,#00a4d4 440px,#0098f7 450px,#0096ff 454px,#0099f4 460px,#00a9c3 472px,#00b1ab 482px,#00b1a9 494px,#00b0ae 514px,#00a8c6 528px,#009ee5 538px,#0097fb 554px,#0095fe 580px,#0195fe 598px)"></b><b style="background:linear-gradient(90deg,#2d3495 0px,#214eb1 22px,#1e54b7 42px,#2448ab 66px,#224aad 84px,#1d57bb 90px,#146bd1 98px,#0e78de 100px,#048df5 102px,#009af3 102px,#00a8c6 104px,#00c275 106px,#02cc56 106px,#45da67 112px,#99eb7e 118px,#afef84 120px,#baf187 122px,#bbf187 124px,#b0ef84 128px,#95ea7d 132px,#3dd865 142px,#1fd25d 146px,#0ecf59 152px,#01cc55 160px,#00c95d 162px,#00be81 168px,#00acba 174px,#0096fe 184px,#0292fb 190px,#0095fe 194px,#0097fc 194px,#00a3d5 200px,#00afb1 202px,#00c95e 208px,#02cc56 208px,#3ad864 218px,#61df6f 222px,#8ce87a 226px,#c3f389 230px,#f5fd96 234px,#fbf996 234px,#8f6555 244px,#885b51 246px,#9d7870 250px,#a98881 256px,#a98982 260px,#a07c74 264px,#8c6258 270px,#885b51 270px,#9a745b 272px,#fbfa97 282px,#f4fd96 282px,#a3ed81 288px,#6ee272 292px,#45da67 296px,#20d25e 300px,#00cc55 308px,#00b59c 314px,#00adb6 316px,#00a5ce 322px,#00a1dd 328px,#00a1dc 336px,#00a4d4 342px,#00adb8 348px,#00bb8b 358px,#00c274 368px,#00c764 380px,#00c764 398px,#00c56a 402px,#00b797 410px,#00abbc 432px,#00a3d6 440px,#0098f9 450px,#0096ff 454px,#0097fc 458px,#00a0e0 464px,#00a9c3 472px,#00b1ac 482px,#00b1a9 492px,#00afaf 514px,#00a8c6 528px,#009fe3 538px,#0097fb 554px,#0095fe 578px,#0194fd 598px)"></b><b style="background:linear-gradient(90deg,#2d3495 0px,#214eb1 22px,#1e54b8 42px,#2448aa 66px,#224aad 84px,#1d57bb 90px,#146bd0 98px,#0e77de 100px,#058bf3 102px,#0098f9 102px,#00c07c 106px,#00cc55 106px,#44da67 112px,#99eb7e 118px,#afef84 120px,#bbf187 122px,#bcf287 124px,#b2f084 128px,#96ea7d 132px,#3ed866 142px,#1fd25d 146px,#0ecf59 152px,#01cc55 160px,#00c764 162px,#00bd83 168px,#00adb8 172px,#00a1dd 178px,#0097fc 184px,#0194fd 186px,#0291fa 192px,#0095fe 194px,#0099f4 196px,#00a1dc 200px,#00acb9 202px,#00cb58 208px,#10cf59 212px,#43d967 220px,#6fe273 224px,#a0ec80 228px,#fefd98 234px,#906756 244px,#875b51 246px,#9d7870 250px,#aa8982 256px,#ab8b84 260px,#a5837b 264px,#936b62 268px,#8a5e54 270px,#8b5f52 272px,#f8f595 282px,#f9fe97 282px,#a7ed82 288px,#71e373 292px,#46da68 296px,#20d25d 300px,#03cd56 306px,#00cb59 308px,#00b796 312px,#00acbb 316px,#00a4d2 322px,#009fe1 328px,#00a0e1 336px,#00a3d6 342px,#00b0ac 352px,#00ba8e 360px,#00c178 368px,#00c766 378px,#00c765 398px,#00c56a 402px,#00b796 410px,#00aac0 432px,#00a1dc 442px,#0097fb 450px,#0096fe 452px,#0097fd 458px,#009fe1 464px,#00a9c4 472px,#00b0ac 482px,#00b1a9 492px,#00afaf 514px,#00a8c5 528px,#009fe2 538px,#0097fc 554px,#0095fe 578px,#0194fd 598px)"></b><b style="background:linear-gradient(90deg,#2d3495 0px,#214eb1 20px,#1e54b8 40px,#2448aa 66px,#224aad 84px,#1d57bb 90px,#146bd0 98px,#0e76dd 100px,#0096fe 102px,#00ca5a 106px,#0bce58 108px,#43d967 112px,#99eb7e 118px,#afef84 120px,#bcf287 122px,#bdf288 124px,#b3f085 128px,#98ea7e 132px,#3fd966 142px,#1fd25d 146px,#0ecf59 152px,#01cc55 160px,#00c178 166px,#00bc86 168px,#00abbd 172px,#00a1dd 178px,#0096ff 184px,#0390f8 190px,#0095fe 196px,#009af3 198px,#00a2d9 200px,#00aeb3 204px,#00c862 208px,#01cc55 210px,#30d662 218px,#56dd6c 222px,#81e677 226px,#b9f186 230px,#fcfe98 234px,#f6f293 236px,#875a50 246px,#a17d75 252px,#aa8b84 256px,#ac8d87 260px,#a7857e 264px,#966e65 268px,#885b51 272px,#a68563 274px,#fefe99 282px,#abee83 288px,#73e374 292px,#47da68 296px,#20d25d 300px,#02cc55 306px,#00c95d 308px,#00b69b 312px,#00aabf 316px,#00a3d6 322px,#009ee5 328px,#009ee5 336px,#00a2db 342px,#00aeb3 352px,#00b990 360px,#00c07c 368px,#00c668 378px,#00c766 398px,#00c56b 402px,#00b796 410px,#00aac1 432px,#00a0de 442px,#0097fc 450px,#0095fe 452px,#0096fe 458px,#009ee7 464px,#00a9c5 472px,#00b0ac 482px,#00b1a9 492px,#00afb0 514px,#00a8c5 528px,#009fe2 540px,#0097fb 552px,#0096ff 572px,#0194fd 598px)"></b><b style="background:linear-gradient(90deg,#2d3495 0px,#214eb1 20px,#1e55b8 40px,#2448aa 66px,#234aad 84px,#1d57bb 90px,#146bd0 98px,#0f76dc 100px,#0194fd 102px,#00a1dc 104px,#00c860 106px,#09ce57 108px,#41d966 112px,#a5ed81 120px,#b8f186 122px,#bff288 124px,#b9f186 126px,#a1ec80 130px,#3fd966 142px,#1fd25d 146px,#0ecf59 152px,#00cc55 160px,#00be80 166px,#00b4a0 170px,#00a9c3 172px,#00a1dd 176px,#0096fe 182px,#038ef7 190px,#0096fe 196px,#009dea 200px,#00a7ca 202px,#00ba8d 206px,#00ca5c 210px,#03cd56 210px,#31d662 218px,#5ade6d 224px,#88e779 228px,#c3f389 232px,#f7fd97 234px,#f9f695 236px,#895c51 246px,#a4827a 252px,#ad8e87 256px,#ad8f88 260px,#a6857d 264px,#936b62 270px,#8a5e54 272px,#8c6153 272px,#fcfa97 282px,#f2fc96 284px,#a0ec80 288px,#69e171 292px,#3fd966 296px,#19d15c 302px,#01cc55 306px,#00b59f 312px,#00a9c3 316px,#00a2da 322px,#009de9 328px,#009dea 336px,#00a0e0 342px,#00acba 352px,#00ba8e 362px,#00c372 374px,#00c668 382px,#00c668 400px,#00c274 404px,#00b895 410px,#00a8c6 434px,#009fe4 442px,#0096fe 450px,#0096ff 458px,#009ced 462px,#00a8c5 472px,#00b0ac 482px,#00b1a9 490px,#00afb0 514px,#00a8c5 528px,#009fe3 540px,#0097fc 552px,#0096ff 570px,#0194fd 598px)"></b><b style="background:linear-gradient(90deg,#2d3495 0px,#214eb1 20px,#1e55b9 40px,#2448aa 66px,#234aad 84px,#1d57bb 90px,#126fd5 98px,#0787ef 102px,#0292fb 102px,#009fe3 104px,#00c766 106px,#08ce57 108px,#40d966 112px,#a5ed81 120px,#b8f186 122px,#c0f288 124px,#bbf187 126px,#a3ed80 130px,#40d966 142px,#20d25d 146px,#0ecf59 152px,#00cc55 160px,#00be83 166px,#00b3a4 170px,#00a7c8 172px,#009fe3 176px,#0097fd 182px,#048df5 190px,#0096fe 198px,#009af1 200px,#00a4d2 202px,#00b798 206px,#00cb57 210px,#1ad15c 216px,#43d967 222px,#6ae171 226px,#9fec7f 230px,#f2fc96 234px,#fcfa97 236px,#8a5e52 246px,#8b5f55 246px,#a17e76 252px,#ac8d86 256px,#af918b 260px,#aa8b83 264px,#9a746c 268px,#885b51 272px,#f8f695 282px,#f8fe97 284px,#a3ed81 288px,#6ce272 292px,#40d966 296px,#19d15c 302px,#00cc57 306px,#00b798 312px,#00aabf 316px,#00a3d7 320px,#009dea 326px,#009bf0 332px,#009de9 340px,#00a3d5 348px,#00aeb3 356px,#00bb8c 364px,#00c46f 376px,#00c668 386px,#00c56a 400px,#00c179 404px,#00b894 410px,#00a7ca 434px,#009bee 444px,#0096ff 450px,#0095fe 458px,#0097fb 460px,#00a8c6 472px,#00b0ac 482px,#00b1a9 490px,#00afb1 514px,#00a8c7 528px,#0097fc 552px,#0096fe 568px,#0194fd 598px)"></b><b style="background:linear-gradient(90deg,#2d3495 0px,#214eb1 20px,#1e55b9 40px,#2447aa 66px,#234aad 84px,#1d57bb 90px,#126ed4 98px,#0786ee 102px,#0291f9 102px,#009ceb 104px,#00b797 106px,#00c56c 106px,#06cd57 108px,#3fd966 112px,#a5ed81 120px,#b9f186 122px,#c1f389 124px,#bcf287 126px,#acee83 130px,#81e677 134px,#40d966 142px,#20d25e 146px,#0ecf59 152px,#00cc55 160px,#00bd85 166px,#00b2a8 170px,#00a6ce 172px,#009de8 176px,#0097fc 180px,#0194fd 182px,#058cf4 190px,#0096fe 198px,#009ee6 202px,#00aac0 204px,#00c862 210px,#01cc55 212px,#27d45f 218px,#4fdc6a 224px,#7de576 228px,#b9f186 232px,#fefe99 236px,#8c6053 246px,#8a5e55 246px,#a17e76 252px,#ad8e87 256px,#b0938c 260px,#ac8d86 264px,#9c776f 268px,#895d53 272px,#8d6354 274px,#f5f193 282px,#feff99 284px,#a7ed82 288px,#6ee272 292px,#41d966 296px,#19d15c 302px,#03cd56 306px,#00ca5a 306px,#00b990 310px,#00acbb 314px,#00a5d1 318px,#009de9 324px,#009af4 330px,#009bf1 338px,#009ee5 344px,#00a9c4 354px,#00b990 364px,#00c371 376px,#00c56a 386px,#00c56b 400px,#00bf7d 406px,#00b797 412px,#00a6cb 434px,#0096fe 448px,#0095fe 458px,#0097fc 460px,#00a9c3 472px,#00b1ab 484px,#00b1ab 498px,#00aeb3 516px,#00a7c9 530px,#0099f4 548px,#0096fe 554px,#0194fc 598px)"></b><b style="background:linear-gradient(90deg,#2d3495 0px,#214eb2 20px,#1d55b9 40px,#2447aa 66px,#234aad 84px,#1d57bb 90px,#126ed4 98px,#0885ec 102px,#038ff7 102px,#009af2 104px,#00a7ca 104px,#00c373 106px,#04cd56 108px,#3ed866 112px,#a5ed81 120px,#b9f186 122px,#c2f389 124px,#bef288 126px,#adef83 130px,#82e678 134px,#41d966 142px,#20d25e 146px,#0fcf59 152px,#00cc55 160px,#00bc87 166px,#00b59e 168px,#00a4d4 172px,#009de8 176px,#0097fc 180px,#0194fd 182px,#058bf3 190px,#0292fb 198px,#0096fe 200px,#009fe3 202px,#00b0ac 206px,#00c95e 212px,#02cc55 212px,#22d35e 218px,#41d966 222px,#6be172 226px,#a3ed80 230px,#fafe98 236px,#f6f394 236px,#8d6254 246px,#895d54 246px,#a17e76 252px,#af918a 256px,#b2958e 260px,#ac8d86 264px,#9a746c 270px,#895c51 274px,#fcfb97 284px,#f1fc95 284px,#9ceb7e 290px,#64e070 294px,#39d764 298px,#13d05a 302px,#02cc56 306px,#00c95d 306px,#00b894 310px,#00aabf 314px,#00a3d5 318px,#009ced 324px,#0098f8 330px,#0099f5 338px,#009ee7 346px,#00a7cb 354px,#00b894 364px,#00c273 376px,#00c56c 386px,#00c56c 400px,#00bf7d 406px,#00b796 412px,#00a5d0 436px,#0096ff 448px,#0194fd 456px,#0096fe 460px,#00a9c4 472px,#00b1ab 484px,#00b1aa 498px,#00aeb4 516px,#00a7c8 530px,#009cec 546px,#0097fc 552px,#0095fe 568px,#0194fc 598px)"></b><b style="background:linear-gradient(90deg,#2d3495 0px,#214eb1 20px,#1d56ba 38px,#214db0 54px,#2447aa 70px,#224caf 86px,#146acf 98px,#0c7be2 100px,#048df5 102px,#0098f9 104px,#00a5d1 104px,#00c179 106px,#03cd56 108px,#25d35f 110px,#4bdb69 114px,#a4ed81 120px,#baf186 122px,#c4f389 124px,#bff288 126px,#afef84 130px,#83e678 134px,#42d966 142px,#20d25e 146px,#0fcf59 152px,#00cc56 160px,#00bb8a 166px,#00b4a2 168px,#00a2d9 172px,#009bee 176px,#0097fd 178px,#0194fd 180px,#068af2 190px,#0390f9 198px,#0096fd 200px,#00a0e0 204px,#00bc88 210px,#00ca5c 212px,#02cc56 214px,#24d35e 220px,#44da67 224px,#72e373 228px,#aeef83 232px,#f5fd96 236px,#f9f796 236px,#8f6555 246px,#895c52 246px,#a17e76 252px,#b0928c 256px,#b39690 260px,#ae8f88 264px,#9d786f 270px,#895c52 274px,#8f6555 274px,#f9f695 284px,#f7fd97 284px,#9fec80 290px,#66e070 294px,#3ad864 298px,#12d05a 302px,#02cc55 306px,#00c860 306px,#00b798 310px,#00a9c3 314px,#00a2d8 318px,#009af1 324px,#0097fc 330px,#0098fa 338px,#009ced 346px,#00a4d2 354px,#00b799 364px,#00c275 376px,#00c46e 384px,#00c46d 400px,#00bf7d 406px,#00b798 412px,#00a4d2 436px,#0096fe 448px,#0193fc 456px,#0096ff 460px,#00a9c4 472px,#00b1ab 484px,#00b1aa 496px,#00aeb4 516px,#00a8c7 530px,#009de8 544px,#0097fd 552px,#0095fe 570px,#0193fc 598px)"></b><b style="background:linear-gradient(90deg,#2d3495 0px,#214eb1 20px,#1d56ba 38px,#214eb1 54px,#2447aa 68px,#224bae 84px,#1862c7 94px,#126ed3 98px,#0982e9 102px,#0096fe 104px,#00a2d9 104px,#00bf7f 106px,#01cc55 108px,#1ad15c 110px,#3cd865 112px,#a4ed81 120px,#baf187 122px,#c5f389 124px,#c0f288 126px,#b0ef84 130px,#85e778 134px,#42d967 142px,#26d45f 146px,#11cf5a 150px,#00cc56 160px,#00ba8c 166px,#00b3a5 168px,#00a4d2 172px,#009de8 174px,#0097fd 178px,#0688f0 190px,#038ef7 198px,#0097fd 202px,#00a1dc 204px,#00ca5b 214px,#03cd56 214px,#1ed25d 220px,#3fd966 224px,#6de272 228px,#a8ee82 232px,#f0fc95 236px,#fcfc97 236px,#916756 246px,#885b51 246px,#a17e76 252px,#b1938d 256px,#b49892 260px,#b0928b 264px,#9f7b73 270px,#8b6056 274px,#8a5e52 274px,#f5f193 284px,#fcfe98 284px,#a3ed81 290px,#69e171 294px,#3bd865 298px,#12d05a 302px,#01cc55 306px,#00b59c 310px,#00a8c7 314px,#009fe1 318px,#0098f8 324px,#0096fe 328px,#0097fc 340px,#009ee5 350px,#00a5cf 356px,#00b59d 364px,#00c07a 376px,#00c370 382px,#00c46e 400px,#00bf7d 406px,#00b69b 414px,#00a4d3 436px,#0096ff 448px,#0193fc 456px,#0097fd 460px,#00a8c5 472px,#00b1ab 484px,#00b1aa 496px,#00aeb4 516px,#00a7c9 530px,#009ee4 544px,#0097fd 552px,#0194fd 582px,#0193fc 598px)"></b><b style="background:linear-gradient(90deg,#2d3495 0px,#214eb1 20px,#1d56ba 38px,#214eb2 54px,#2447aa 68px,#224aad 84px,#1764c9 96px,#1072d8 100px,#068af2 102px,#0194fc 104px,#00a0e0 104px,#00cc56 108px,#19d15c 110px,#3bd865 112px,#a4ed81 120px,#baf187 122px,#c5f38a 124px,#c2f389 126px,#b2f084 130px,#86e779 134px,#43d967 142px,#26d45f 146px,#11cf5a 150px,#00cb57 160px,#00ba8f 166px,#00b1a9 168px,#00a3d8 172px,#009ced 174px,#0096fe 176px,#0787ef 192px,#0390f8 200px,#0097fc 202px,#00a2d8 206px,#00c276 212px,#00ca5b 214px,#03cd56 216px,#20d25e 220px,#44da67 224px,#75e374 228px,#b4f085 232px,#feff99 236px,#ab8b66 244px,#875a50 246px,#a5837c 252px,#b1948e 256px,#b69a94 260px,#b1948e 264px,#a17e76 270px,#885b51 274px,#9d785d 276px,#fdfc98 284px,#effc95 286px,#a8ee82 290px,#6ce272 294px,#3dd865 298px,#12d05a 302px,#00cc55 306px,#00b893 310px,#00aac1 314px,#00a2da 316px,#009af2 322px,#0096fe 326px,#0095fe 340px,#0098fa 344px,#009ee5 352px,#00b4a1 364px,#00c07c 376px,#00c373 382px,#00c46f 400px,#00bf7d 406px,#00b59d 414px,#00a2d8 436px,#0096fe 446px,#0293fb 456px,#0096fe 460px,#00a8c6 472px,#00b1ab 484px,#00b1aa 494px,#00aeb5 516px,#00a7ca 532px,#00a0e0 542px,#0097fb 552px,#0096ff 558px,#0193fc 598px)"></b><b style="background:linear-gradient(90deg,#2d3495 0px,#214eb1 20px,#1d57bb 40px,#2447aa 66px,#2349ac 84px,#1d57bb 90px,#136dd3 98px,#0a7fe6 102px,#0291fa 104px,#009ee7 104px,#00ca5b 108px,#0dcf58 108px,#3ad864 112px,#76e474 116px,#a4ed81 120px,#bbf187 122px,#c6f48a 124px,#c6f48a 126px,#baf187 128px,#9aeb7e 132px,#43d967 142px,#27d45f 146px,#12d05a 150px,#01cc55 158px,#00cb57 160px,#00b991 166px,#00b0ac 168px,#00a1dd 172px,#009af3 174px,#0096fe 176px,#0786ed 192px,#048ef6 200px,#0194fd 202px,#0097fa 204px,#00adb7 208px,#00ca5b 216px,#03cd56 216px,#22d35e 222px,#49db68 226px,#7ee577 230px,#c0f288 234px,#f9fe97 236px,#f7f494 238px,#895c51 246px,#977067 250px,#ac8d86 254px,#b59a94 258px,#b69b95 262px,#ae9089 266px,#9a756c 272px,#8a5f55 274px,#8c6153 276px,#f9f796 284px,#f5fd96 286px,#acee83 290px,#6fe273 294px,#3ed866 298px,#1ad15c 302px,#00cc56 306px,#00bc88 308px,#00afb0 312px,#00a6ce 314px,#009de9 318px,#0097fd 324px,#0193fc 336px,#0096fe 346px,#009cec 352px,#00a7ca 358px,#00b2a6 364px,#00bf7e 376px,#00c274 382px,#00c370 400px,#00bf7c 406px,#00b4a0 416px,#00a1de 438px,#0096ff 446px,#0292fa 456px,#0096ff 460px,#00a8c6 472px,#00b1ab 484px,#00b1aa 494px,#00adb6 516px,#00a7cb 532px,#00a0df 542px,#0097fc 552px,#0096ff 556px,#0193fc 598px)"></b><b style="background:linear-gradient(90deg,#2d3495 0px,#214eb2 20px,#1d57bb 40px,#2447aa 66px,#2349ac 84px,#1e55b8 90px,#136dd2 98px,#0b7ee5 102px,#038ff8 104px,#009bee 104px,#00c860 108px,#0bce58 108px,#38d764 112px,#75e374 116px,#a3ed81 120px,#bbf187 122px,#c7f48a 124px,#c7f48a 126px,#bbf187 128px,#9ceb7f 132px,#44da67 142px,#27d45f 146px,#12d05a 150px,#01cc55 158px,#00cb58 160px,#00b893 166px,#00afb0 168px,#009fe2 172px,#009bef 172px,#0098f9 174px,#0096fe 174px,#0884ec 192px,#058cf4 200px,#0195fe 204px,#0098f8 204px,#00b69a 212px,#00c56a 216px,#00ca5b 216px,#03cd56 218px,#1dd25d 222px,#43d967 226px,#78e475 230px,#baf187 234px,#f3fd96 236px,#faf896 238px,#8b5f52 246px,#8b6056 248px,#a5837b 252px,#b2968f 256px,#b89d97 260px,#b59993 264px,#aa8a83 268px,#926a60 274px,#885b51 276px,#f6f293 284px,#fbfe98 286px,#b0ef84 290px,#72e373 294px,#40d966 298px,#1ad15c 302px,#05cd56 304px,#00cb58 306px,#00bb8b 308px,#00aeb3 312px,#00a4d2 314px,#009cec 318px,#0096fd 322px,#0291fa 336px,#0097fd 348px,#009af3 352px,#00a3d7 358px,#00b1aa 364px,#00be80 376px,#00c176 382px,#00c371 400px,#00c07c 406px,#00b3a2 416px,#00a0df 438px,#0096fe 446px,#0291fa 456px,#0095fe 460px,#0098f8 462px,#00a8c7 472px,#00b0ad 482px,#00b1a9 488px,#00aeb4 514px,#00a7ca 532px,#00a0de 542px,#0097fc 552px,#0096ff 556px,#0193fb 598px)"></b><b style="background:linear-gradient(90deg,#2d3495 0px,#214fb2 20px,#1d57bb 40px,#2447aa 66px,#2349ac 84px,#1e55b8 90px,#1171d7 100px,#0884ec 102px,#048df6 104px,#0099f5 104px,#00c765 108px,#0ace58 108px,#37d764 112px,#74e374 116px,#a3ed80 120px,#bbf187 122px,#c8f48a 124px,#c9f48a 126px,#bdf287 128px,#9deb7f 132px,#45da67 142px,#27d45f 146px,#12d05a 150px,#01cc55 158px,#00cb58 160px,#00b796 166px,#00aeb3 168px,#009ee7 172px,#0099f5 172px,#0096fe 174px,#0983eb 192px,#058af2 200px,#0095fe 204px,#009ee7 206px,#00b2a6 212px,#00c178 216px,#00cb5a 218px,#04cd56 218px,#20d25e 222px,#4adb69 226px,#82e678 230px,#c7f48a 234px,#eefc94 236px,#fdfc98 238px,#8c6153 246px,#8a5f55 248px,#a5837b 252px,#b39690 256px,#b99f99 260px,#b79c96 264px,#ac8d86 268px,#956d64 274px,#895d53 276px,#8e6454 276px,#fefd98 286px,#93e97c 292px,#5ade6d 296px,#2dd561 300px,#05cd56 304px,#00cb59 306px,#00ba8d 308px,#00adb6 312px,#00a3d5 314px,#009bf0 318px,#0097fd 322px,#0390f8 334px,#0097fd 352px,#009dea 356px,#00b0ae 364px,#00bd83 376px,#00c178 382px,#00c372 400px,#00c07c 406px,#00b2a5 418px,#00a0e1 438px,#0096ff 446px,#0291f9 456px,#0096fe 462px,#00a8c7 472px,#00b0ad 482px,#00b1a9 488px,#00aeb4 514px,#00a7ca 534px,#00a2da 542px,#0097fc 552px,#0095fe 556px,#0293fb 598px)"></b><b style="background:linear-gradient(90deg,#2d3495 0px,#2643a5 10px,#2050b4 22px,#1d57bb 42px,#2448aa 64px,#2349ac 82px,#1f52b5 88px,#1170d6 100px,#0884ec 102px,#048df5 104px,#0098f8 104px,#00c669 108px,#09ce57 108px,#37d764 112px,#b0ef84 120px,#c4f389 122px,#cbf58b 124px,#c3f389 128px,#b0ef84 130px,#76e474 136px,#3dd865 142px,#22d35e 146px,#0fcf59 152px,#01cc55 158px,#00cb59 160px,#00b796 166px,#00aeb3 168px,#009ee7 172px,#0099f5 172px,#0096ff 174px,#0983ea 190px,#0786ee 198px,#0291f9 204px,#0194fd 204px,#0098fa 206px,#00b0ad 212px,#00bf7f 216px,#00c861 218px,#02cc55 218px,#1ed25d 222px,#47da68 226px,#7fe577 230px,#c5f389 234px,#fffe99 238px,#8d6253 246px,#8a5e55 248px,#a5837c 252px,#b49892 256px,#bba19c 260px,#b99e99 264px,#ae9089 268px,#977068 274px,#8c6157 276px,#895d51 276px,#faf896 286px,#f3fd96 286px,#a9ee82 290px,#6be171 294px,#3ad864 298px,#15d05b 302px,#00cc55 306px,#00bb8a 308px,#00aeb3 312px,#00a4d3 314px,#009bf0 318px,#0096fe 322px,#038ff7 334px,#0096fe 352px,#009fe1 358px,#00aeb2 364px,#00bd85 376px,#00c179 382px,#00c372 400px,#00c07c 406px,#00b2a5 418px,#009fe2 438px,#0097fd 444px,#0291f9 456px,#0096ff 462px,#00a8c8 472px,#00b1ac 484px,#00b1aa 494px,#00aeb4 516px,#00a7ca 536px,#00a2da 542px,#0098fa 552px,#0096ff 556px,#0193fc 598px)"></b><b style="background:linear-gradient(90deg,#2d3495 0px,#2643a5 10px,#2050b4 22px,#1d57bb 42px,#2448aa 64px,#2349ab 82px,#1f52b5 88px,#1170d6 100px,#0884eb 102px,#048cf5 104px,#0098f9 104px,#00c56c 108px,#08ce57 108px,#36d763 112px,#73e374 116px,#b1ef84 120px,#c5f38a 122px,#ccf58b 124px,#c5f389 128px,#b1ef84 130px,#77e475 136px,#3dd865 142px,#22d35e 146px,#0fcf59 152px,#01cc55 158px,#00cb59 160px,#00b895 166px,#00aeb2 168px,#009ee6 172px,#009af4 172px,#0096fe 174px,#0983ea 190px,#0884eb 196px,#0390f8 204px,#0096fe 206px,#00aeb2 212px,#00bd85 216px,#00cc56 218px,#1cd25c 222px,#46da68 226px,#7de576 230px,#c3f389 234px,#feff99 238px,#c0a973 242px,#8d6253 246px,#8a5f55 248px,#aa8b83 254px,#b89d97 258px,#bda49f 262px,#b99f99 266px,#ad8e87 270px,#946c63 274px,#885c52 276px,#916756 278px,#f6f394 286px,#f9fe97 286px,#aeef83 290px,#6ee272 294px,#3dd865 298px,#17d15b 302px,#02cc56 306px,#00c862 306px,#00b894 310px,#00abbb 312px,#00a2da 316px,#0099f4 320px,#0096fe 322px,#048ef7 334px,#0194fd 352px,#0097fd 354px,#00a3d7 360px,#00afb1 366px,#00bc87 376px,#00c07a 382px,#00c373 400px,#00c07c 406px,#00b2a8 418px,#009fe2 438px,#0096fe 444px,#0390f9 456px,#0096ff 462px,#00a7c8 472px,#00b0ac 484px,#00b1a9 498px,#00aeb2 518px,#00a7c8 536px,#00a3d6 542px,#0099f7 552px,#0096ff 558px,#0193fc 598px)"></b><b style="background:linear-gradient(90deg,#2d3495 0px,#2643a5 10px,#2050b4 22px,#1c58bc 42px,#2448aa 64px,#2348ab 82px,#1f52b5 88px,#1170d6 100px,#0884eb 102px,#0097fb 104px,#00b49f 106px,#00c46e 108px,#07cd57 108px,#35d763 112px,#73e374 116px,#b1ef84 120px,#c6f48a 122px,#cdf58c 124px,#c6f48a 128px,#b3f085 130px,#77e475 136px,#3dd865 142px,#22d35e 146px,#0fcf59 152px,#01cc55 158px,#00cb59 160px,#00b895 166px,#00afb2 168px,#009ee5 172px,#0097fd 174px,#0291fa 176px,#0a81e8 192px,#0787ee 200px,#0292fa 204px,#0095fe 206px,#0099f6 206px,#00adb8 212px,#00bb8a 216px,#00ca5a 218px,#04cd56 220px,#23d35e 224px,#50dc6a 228px,#8be87a 232px,#d4f68d 236px,#fcfe98 238px,#f5f193 238px,#8d6254 246px,#8a5f55 248px,#ab8c85 254px,#b99f99 258px,#bfa7a1 262px,#bba29c 266px,#af928b 270px,#977067 274px,#8b5f56 276px,#8c6153 278px,#fefe98 286px,#a1ec80 292px,#64e070 296px,#35d763 300px,#12d05a 304px,#04cd56 306px,#00ca5c 306px,#00ba8f 310px,#00a9c3 314px,#00a0e0 316px,#0096fe 322px,#048ef6 332px,#0293fb 350px,#0096fe 354px,#0099f6 356px,#00aeb4 366px,#00bd86 376px,#00c07b 382px,#00c373 400px,#00c07c 406px,#00b1ab 420px,#009ee7 438px,#0096fe 444px,#0390f9 456px,#0096ff 462px,#00a7c9 472px,#00b0ad 484px,#00b2a8 502px,#00aeb2 520px,#00a7c8 538px,#00a2da 544px,#0099f6 552px,#0096ff 558px,#0194fc 598px)"></b><b style="background:linear-gradient(90deg,#2d3495 0px,#2741a3 10px,#214fb2 20px,#1c58bc 40px,#2447aa 66px,#2349ac 84px,#1e54b8 90px,#1170d6 100px,#0883eb 102px,#0097fc 104px,#00b4a2 106px,#00c371 108px,#07cd57 108px,#35d763 112px,#61df6f 116px,#a3ed81 120px,#bdf287 122px,#ccf58b 124px,#cef58c 126px,#c2f389 128px,#a2ec80 132px,#46da68 142px,#27d460 146px,#11cf5a 150px,#01cc55 158px,#00cb59 160px,#00b895 166px,#00afb1 168px,#009fe4 172px,#0097fc 174px,#0095fe 174px,#0981e9 190px,#0982e9 196px,#048df6 204px,#0194fc 206px,#0097fb 206px,#00abbe 212px,#00b990 216px,#00c960 218px,#03cd56 220px,#22d35e 224px,#4edc6a 228px,#89e77a 232px,#d1f68d 236px,#fafe98 238px,#f6f293 238px,#8d6254 246px,#8a5f55 248px,#ac8d86 254px,#baa19b 258px,#c1a9a4 262px,#bea5a0 266px,#b2958e 270px,#99736b 274px,#885b51 278px,#fbf997 286px,#f1fc95 288px,#a6ed81 292px,#68e171 296px,#38d764 300px,#14d05a 304px,#00cc56 306px,#00bb8a 310px,#00aac0 314px,#00a0de 316px,#0096ff 322px,#048df5 332px,#0291f9 350px,#0096fe 354px,#00adb7 366px,#00bc88 376px,#00c07c 382px,#00c273 400px,#00c07c 406px,#00b1ab 420px,#009ee7 438px,#0096ff 444px,#0390f9 456px,#0096ff 462px,#00a7c9 472px,#00b0ae 484px,#00b2a6 502px,#00b0ae 520px,#00a9c3 538px,#00a5ce 542px,#009af4 552px,#0096ff 558px,#0194fd 598px)"></b><b style="background:linear-gradient(90deg,#2d3495 0px,#2740a3 10px,#214fb2 20px,#1c58bc 40px,#2447aa 66px,#2349ac 84px,#1e54b8 90px,#1170d6 100px,#0983eb 102px,#0096fd 104px,#00b3a4 106px,#00c274 108px,#06cd57 108px,#34d663 112px,#61df6f 116px,#a3ed81 120px,#bef288 122px,#cdf58c 124px,#cff58c 126px,#c3f389 128px,#a3ed80 132px,#46da68 142px,#27d460 146px,#11cf5a 150px,#01cc55 158px,#00cb59 160px,#00b894 166px,#00afb0 168px,#009fe3 172px,#0097fb 174px,#0095fe 174px,#0982e9 188px,#0a80e8 196px,#048cf4 204px,#0096fe 206px,#00a9c3 212px,#00b895 216px,#01cc55 220px,#20d25e 224px,#4cdb69 228px,#87e779 232px,#cff58c 236px,#f8fe97 238px,#f7f494 238px,#8d6354 246px,#8a5f55 248px,#ac8d87 254px,#bca29d 258px,#c2aba6 262px,#c0a8a3 266px,#b49892 270px,#9c776e 274px,#8a5e54 278px,#8f6555 278px,#f7f494 286px,#f8fe97 288px,#abee83 292px,#6ce272 296px,#3bd865 300px,#16d05b 304px,#01cc55 306px,#00b3a3 312px,#00a4d3 316px,#009af3 320px,#0096ff 322px,#048df5 332px,#038ff7 348px,#0097fd 356px,#00acbb 366px,#00bb8a 376px,#00bf7d 382px,#00c273 400px,#00c179 404px,#00aeb4 422px,#009de8 438px,#0096ff 444px,#0390f8 454px,#0096ff 462px,#00a7c9 472px,#00b0ae 484px,#00b3a4 502px,#00b1aa 518px,#00aabf 538px,#00a7cb 542px,#009af1 552px,#0096ff 560px,#0194fd 598px)"></b><b style="background:linear-gradient(90deg,#2d3495 0px,#2740a3 10px,#214fb2 20px,#1c58bc 40px,#2447aa 66px,#2349ab 84px,#1e54b7 90px,#1170d6 100px,#0983eb 102px,#0096ff 104px,#00b2a7 106px,#00c177 108px,#05cd56 108px,#41d966 114px,#b2f084 120px,#c8f48a 122px,#d1f68d 124px,#caf48b 128px,#b6f086 130px,#85e778 136px,#46da68 142px,#27d460 146px,#11cf5a 150px,#01cc55 158px,#00cb59 160px,#00b894 166px,#00afb0 168px,#009fe2 172px,#0098fa 174px,#0095fe 174px,#0982e9 188px,#0b7fe6 194px,#0689f0 202px,#0195fd 206px,#0098f7 208px,#00b69b 216px,#00c56a 218px,#00cc57 220px,#1ed25d 224px,#4adb69 228px,#85e778 232px,#cdf58c 236px,#f6fd96 238px,#f8f695 238px,#8e6354 246px,#8a5f55 248px,#ad8e88 254px,#bda49e 258px,#c4aea9 262px,#c2aba6 266px,#b79c96 270px,#9e7a72 274px,#8c6157 278px,#8a5e52 278px,#f3ef92 286px,#feff99 288px,#b0ef84 292px,#70e273 296px,#3ed865 300px,#18d15b 304px,#03cd56 306px,#00c95e 308px,#00b990 310px,#00a8c6 314px,#009fe3 318px,#0096ff 322px,#058cf4 332px,#048df5 346px,#0096ff 356px,#009ee6 360px,#00abbe 366px,#00bb8c 376px,#00bf7f 382px,#00c274 398px,#00c177 404px,#009de8 438px,#0096ff 444px,#0390f8 454px,#0096ff 462px,#00a7ca 472px,#00afaf 484px,#00b3a3 502px,#00b2a8 518px,#00abbb 538px,#00a8c7 542px,#009af2 554px,#0096ff 560px,#0195fd 598px)"></b><b style="background:linear-gradient(90deg,#2d3495 0px,#2740a3 10px,#214eb2 20px,#1c58bc 40px,#214eb1 54px,#2446a9 68px,#2349ac 84px,#1a5cc0 92px,#1170d6 100px,#0983ea 102px,#0096ff 104px,#00b1a9 106px,#00c07a 108px,#04cd56 108px,#40d966 114px,#b2f085 120px,#c9f48b 122px,#d2f68d 124px,#cbf58b 128px,#b8f186 130px,#85e779 136px,#46da68 142px,#27d460 146px,#11cf5a 150px,#01cc55 158px,#00c861 160px,#00b894 166px,#00afaf 168px,#00a0e1 172px,#0098f9 174px,#0096ff 174px,#0982ea 186px,#0b7ee5 194px,#0787ef 202px,#0193fc 206px,#0097fc 208px,#00b4a0 216px,#00c470 218px,#00ca5c 220px,#05cd56 220px,#26d45f 224px,#55dd6c 228px,#93e97c 232px,#dff990 236px,#f3fd96 238px,#f9f796 238px,#8e6354 246px,#8a5e55 248px,#ae8f88 254px,#bea5a0 258px,#c6b0ab 262px,#c4aea9 266px,#b99f99 270px,#a17e76 274px,#885c52 278px,#926957 280px,#fcfb97 288px,#effc95 288px,#a4ed81 292px,#66e070 296px,#36d763 300px,#13d05a 304px,#05cd56 306px,#00cb58 308px,#00bb8b 310px,#00a9c3 314px,#009fe2 318px,#0096ff 322px,#058bf3 332px,#058cf4 346px,#0194fd 356px,#0096fe 356px,#00a9c2 366px,#00ba8e 376px,#00be80 382px,#00c274 398px,#00c177 404px,#00ba8d 410px,#009ced 440px,#0096ff 444px,#0390f8 454px,#0096ff 462px,#009ee7 466px,#00a7ca 472px,#00afb0 484px,#00b4a1 502px,#00b3a4 518px,#00adb8 538px,#00a9c3 542px,#009bef 554px,#0096ff 560px,#0095fe 598px)"></b><b style="background:linear-gradient(90deg,#2d3495 0px,#2740a2 10px,#214eb2 20px,#1c59bd 40px,#214eb1 54px,#2446a9 68px,#2349ac 84px,#1a5cc0 92px,#1170d6 100px,#0983ea 102px,#0095fe 104px,#00a3d8 106px,#00bf7c 108px,#03cd56 108px,#40d966 114px,#b2f085 120px,#caf48b 122px,#d3f68d 124px,#cdf58c 128px,#b9f186 130px,#86e779 136px,#47da68 142px,#27d45f 146px,#14d05a 150px,#01cc55 158px,#00c861 160px,#00b893 166px,#00b0af 168px,#009ced 172px,#0096ff 174px,#0982e9 186px,#0b7de4 194px,#0786ee 202px,#0095fe 208px,#00aeb3 214px,#00bc87 218px,#00c861 220px,#03cd56 220px,#24d35f 224px,#53dd6b 228px,#91e97c 232px,#dcf890 236px,#f1fc95 238px,#fbf996 238px,#8e6454 246px,#8a5e55 248px,#ae9089 254px,#bfa7a2 258px,#c7b2ae 262px,#c6b1ac 266px,#bca29d 270px,#a4817a 274px,#8b5f55 278px,#8d6254 280px,#f8f695 288px,#f6fd96 288px,#a9ee82 292px,#6ae171 296px,#39d764 300px,#15d05b 304px,#01cc55 308px,#00b3a5 312px,#00a6cc 316px,#009de9 318px,#0096ff 322px,#058bf3 330px,#058bf3 346px,#0193fc 356px,#0095fe 356px,#0099f5 358px,#00aac0 366px,#00b98f 376px,#00be81 382px,#00c275 396px,#00c276 402px,#00bd85 408px,#00adb8 424px,#009ced 440px,#0097fd 444px,#038ff8 454px,#0095fe 462px,#009af2 464px,#00a7cb 472px,#00afb0 484px,#00b59f 502px,#00b4a0 516px,#00aeb4 538px,#00aabf 542px,#009af4 556px,#0096ff 560px,#0096fe 594px,#0095fe 598px)"></b><b style="background:linear-gradient(90deg,#2d3495 0px,#2740a2 10px,#214eb2 20px,#1c59bd 40px,#214eb1 54px,#2446a9 68px,#2349ac 84px,#1a5cc0 92px,#1170d6 100px,#0983ea 102px,#0195fe 104px,#00a2da 106px,#00b0ae 106px,#00bf7f 108px,#02cc56 108px,#3fd966 114px,#81e677 118px,#b3f085 120px,#caf48b 122px,#d5f78e 124px,#cef58c 128px,#baf187 130px,#87e779 136px,#47da68 142px,#27d45f 146px,#14d05a 150px,#01cc55 158px,#00c861 160px,#00b893 166px,#00b0ae 168px,#009cec 172px,#0096ff 174px,#0982ea 186px,#0c7ce3 194px,#0885ed 202px,#0194fd 208px,#0098fa 208px,#00acb8 214px,#00ba8c 218px,#01cc55 220px,#23d35e 224px,#51dc6b 228px,#8fe97b 232px,#daf88f 236px,#effc95 238px,#fcfb97 238px,#8f6555 246px,#8a5e54 248px,#af918a 254px,#c0a9a3 258px,#c9b5b0 262px,#c8b4af 266px,#bea6a0 270px,#a6857e 274px,#885c51 280px,#f4f093 288px,#fcfe98 288px,#aeef83 292px,#6ee272 296px,#3cd865 300px,#17d15b 304px,#03cd56 308px,#00c960 308px,#00b4a1 312px,#00a7ca 316px,#009de8 318px,#0096ff 322px,#058af2 330px,#0689f1 344px,#0291f9 354px,#0096fe 358px,#00a9c3 366px,#00b991 376px,#00be82 382px,#00c275 396px,#00c276 402px,#00bd85 408px,#00aabf 426px,#009af2 440px,#0096fe 444px,#038ff8 454px,#0095fe 462px,#0098f7 464px,#00a5cf 472px,#00adb7 480px,#00b3a4 494px,#00b69c 506px,#00b49f 520px,#00aeb3 540px,#00a9c3 544px,#0099f6 556px,#0096ff 560px,#0097fc 592px,#0096ff 598px)"></b><b style="background:linear-gradient(90deg,#2d3495 0px,#2740a2 10px,#214eb2 20px,#1c59bd 40px,#214eb1 54px,#2446a9 68px,#2349ac 84px,#1b5cc0 92px,#1170d7 100px,#0982ea 102px,#0194fd 104px,#00a1dc 106px,#00afb1 106px,#01cc55 108px,#3ed866 114px,#81e677 118px,#b3f085 120px,#cbf58b 122px,#d6f78e 124px,#cff58c 128px,#bcf287 130px,#88e779 136px,#47da68 142px,#27d45f 146px,#14d05a 150px,#01cc55 158px,#00c861 160px,#00b893 166px,#00b0ad 168px,#009ceb 172px,#0096fe 174px,#0981e9 186px,#0c7be2 194px,#0884ec 202px,#0096fe 208px,#00abbe 214px,#00b991 218px,#00cc56 220px,#21d35e 224px,#4fdc6a 228px,#8ce87a 232px,#fdfd98 238px,#8f6555 246px,#8a5e54 248px,#af918b 254px,#c1aaa5 258px,#cbb7b3 262px,#cab7b2 266px,#c1a9a4 270px,#a98981 274px,#895d53 280px,#916856 280px,#fdfd98 288px,#d9f78f 290px,#90e97b 294px,#57dd6c 298px,#2bd560 302px,#0bce58 306px,#04cd56 308px,#00ca5a 308px,#00b0ac 314px,#00a4d3 316px,#0098f7 320px,#0096ff 322px,#068af2 330px,#0688f0 344px,#0390f8 354px,#0195fe 358px,#0097fd 358px,#00a8c6 366px,#00b893 376px,#00bd84 382px,#00c276 396px,#00c276 402px,#00bd85 408px,#009af2 440px,#0096fe 444px,#038ff8 454px,#0095fe 462px,#0098f7 464px,#00a5cf 472px,#00adb7 480px,#00b59c 500px,#00b69a 516px,#00b0ad 538px,#00adb8 542px,#0097fc 558px,#0095fe 562px,#0097fd 582px,#0098fa 590px,#0096ff 598px)"></b><b style="background:linear-gradient(90deg,#2d3495 0px,#2740a2 10px,#214eb2 20px,#1c59bd 40px,#204fb2 54px,#2447a9 66px,#2448ab 84px,#1f53b7 90px,#1170d7 100px,#0982ea 102px,#0194fd 104px,#00a1de 106px,#00aeb3 106px,#00cc55 108px,#3ed865 114px,#80e677 118px,#b3f085 120px,#ccf58b 122px,#d7f78e 124px,#d1f68d 128px,#bdf287 130px,#89e779 136px,#47da68 142px,#27d45f 146px,#14d05a 150px,#01cc55 158px,#00c861 160px,#00b892 166px,#00b0ad 168px,#009dea 172px,#0096fe 174px,#0a81e8 186px,#0d7ae1 194px,#0983eb 202px,#0195fd 208px,#0098f9 210px,#00a9c3 214px,#00b797 218px,#00ca5b 220px,#05cd56 222px,#29d460 226px,#5bde6d 230px,#9ceb7e 234px,#eafb93 238px,#ffff99 238px,#9e7a5e 246px,#906655 246px,#8a5e54 248px,#b0928b 254px,#c2aba6 258px,#ccb9b5 262px,#ccb9b5 266px,#c3aca7 270px,#ac8c85 274px,#8c6057 280px,#8c6153 280px,#faf796 288px,#f3fd96 290px,#a6ed81 294px,#67e171 298px,#37d764 302px,#14d05a 306px,#00cc55 308px,#00b1a8 314px,#00a5d1 316px,#0099f7 320px,#0096ff 322px,#068af2 330px,#0787ee 344px,#038ff7 354px,#0096ff 358px,#00a9c4 368px,#00b991 378px,#00be81 384px,#00c275 400px,#00c179 404px,#009bef 440px,#0096ff 444px,#038ff7 454px,#0097fd 462px,#00a5d0 472px,#00adb8 480px,#00b69a 502px,#00b797 516px,#00b1a9 538px,#00aeb4 542px,#0097fb 558px,#0095fe 562px,#0097fd 580px,#0098f9 590px,#0096fe 598px)"></b><b style="background:linear-gradient(90deg,#2d3495 0px,#2740a2 10px,#214eb2 20px,#1c59bd 40px,#204fb3 54px,#2447a9 66px,#2448ab 84px,#1f53b7 90px,#1171d7 100px,#0982e9 102px,#0194fc 104px,#00a0e0 106px,#00adb6 106px,#00cb57 108px,#3dd865 114px,#80e677 118px,#b3f085 120px,#ccf58b 122px,#d8f78f 124px,#d2f68d 128px,#bef288 130px,#8ae87a 136px,#47da68 142px,#27d45f 146px,#14d05a 150px,#01cc55 158px,#00c861 160px,#00b992 166px,#00b0ac 168px,#009de9 172px,#0097fd 174px,#038ff8 178px,#0b7fe6 186px,#0d7ae0 194px,#0982e9 202px,#0096fe 210px,#00a7c8 214px,#00b69c 218px,#00c860 220px,#04cd56 222px,#27d460 226px,#59de6d 230px,#99eb7e 234px,#e7fa93 238px,#fdff98 238px,#e6dc8a 240px,#916756 246px,#895d53 248px,#b0938c 254px,#c3ada8 258px,#cebbb7 262px,#cfbcb8 266px,#c5b0ab 270px,#b49791 274px,#885b51 280px,#f6f293 288px,#f9fe97 290px,#abee83 294px,#6be172 298px,#3ad864 302px,#16d05b 306px,#02cc56 308px,#00c861 310px,#00aeb4 314px,#00a2db 318px,#0096ff 322px,#0689f1 330px,#0885ed 342px,#048ef6 354px,#0096fe 360px,#00a8c7 368px,#00b893 378px,#00bd84 382px,#00c276 398px,#00c177 404px,#00bc88 410px,#009af4 440px,#0096ff 444px,#038ff7 454px,#0097fd 462px,#00a5d0 472px,#00acb9 480px,#00b798 502px,#00b894 516px,#00b2a7 538px,#00afb0 542px,#0096fe 560px,#0096fe 580px,#0098f7 590px,#0097fd 598px)"></b><b style="background:linear-gradient(90deg,#2d3495 0px,#2740a2 10px,#214eb2 20px,#1c59bd 40px,#204fb3 54px,#2447a9 66px,#2448ab 84px,#1f53b6 90px,#1171d7 100px,#0689f1 104px,#0193fc 104px,#009fe2 106px,#00acb8 106px,#00ca5a 108px,#0bce58 110px,#3cd865 114px,#7fe577 118px,#b3f085 120px,#cdf58c 122px,#d9f78f 124px,#d7f78e 126px,#c7f48a 130px,#a1ec80 134px,#48da68 142px,#27d45f 146px,#14d05a 150px,#01cc55 158px,#00c861 160px,#00b992 166px,#00b1ab 168px,#009de8 172px,#0097fc 174px,#0292fb 176px,#0a7fe7 186px,#0d79df 194px,#0a81e8 202px,#0195fe 210px,#0098f8 210px,#00a6ce 214px,#00b4a1 218px,#00c765 220px,#02cc56 222px,#26d45f 226px,#57dd6c 230px,#97ea7d 234px,#e5fa92 238px,#fafe98 238px,#f5f193 240px,#916856 246px,#895d53 248px,#b1938d 254px,#c4aea9 258px,#cfbdb9 262px,#d1bfbb 266px,#c8b3af 270px,#b69b95 274px,#91675e 280px,#8a5e54 280px,#906655 282px,#f2ed91 288px,#fefe98 290px,#b0ef84 294px,#6fe273 298px,#3dd865 302px,#18d15b 306px,#04cd56 308px,#00ca5b 310px,#00afb1 314px,#00a2d9 318px,#0096ff 322px,#0689f1 330px,#0884ec 342px,#048df5 354px,#0095fe 360px,#009af3 362px,#00a9c4 368px,#00b895 378px,#00bd85 382px,#00c176 396px,#00c177 404px,#00bc88 410px,#0099f4 440px,#0096ff 444px,#038ff7 454px,#0096fe 462px,#00a5d0 472px,#00adb7 482px,#00b796 502px,#00b991 514px,#00b4a2 538px,#00b0ac 542px,#0097fd 560px,#0097fd 580px,#0099f6 588px,#0097fb 598px)"></b><b style="background:linear-gradient(90deg,#2d3495 0px,#2740a2 10px,#214eb2 20px,#1c59be 40px,#204fb3 54px,#2447a9 66px,#2448aa 84px,#1f53b6 90px,#1171d7 100px,#0689f1 104px,#0293fb 104px,#009fe4 106px,#00acbb 106px,#00c95d 108px,#0ace58 110px,#3cd865 114px,#7fe577 118px,#b3f085 120px,#cef58c 122px,#daf88f 124px,#d9f78f 126px,#c9f48b 130px,#a2ec80 134px,#48da68 142px,#27d45f 146px,#14d05a 150px,#01cc55 158px,#00c861 160px,#00b992 166px,#00b1ab 168px,#009ee7 172px,#0097fc 174px,#0194fd 176px,#0a80e7 184px,#0e78de 194px,#0a80e7 202px,#0096fe 210px,#00a4d3 214px,#00b2a6 218px,#00c56a 220px,#01cc55 222px,#24d35f 226px,#54dd6c 230px,#94ea7c 234px,#e2f991 238px,#f8fe97 238px,#f6f394 240px,#926957 246px,#895c52 248px,#b1948d 254px,#c5afaa 258px,#d1bfbc 262px,#d3c2be 266px,#cab6b2 270px,#b99f99 274px,#936b62 280px,#8c6158 280px,#8b6052 282px,#eee88f 288px,#fbfa97 290px,#f0fc95 290px,#a3ed80 294px,#65e070 298px,#35d763 302px,#13d05a 306px,#00cc56 310px,#00b0ae 314px,#00a3d7 318px,#0096ff 322px,#0688f0 330px,#0983eb 342px,#058cf4 354px,#0096fe 360px,#00a6cd 368px,#00b796 378px,#00bc86 382px,#00c177 396px,#00c177 404px,#00bc88 410px,#0096ff 444px,#038ff7 454px,#0096fe 462px,#00a5d1 472px,#00adb8 482px,#00b895 502px,#00ba8e 514px,#00b59e 538px,#00b3a5 542px,#00a5cf 550px,#0097fd 560px,#0097fd 578px,#0099f4 588px,#0098fa 598px)"></b><b style="background:linear-gradient(90deg,#2d3395 0px,#2740a2 10px,#214eb2 20px,#1c5abe 40px,#204fb3 54px,#2447aa 64px,#2447aa 84px,#1f52b6 90px,#1171d7 100px,#0689f1 104px,#0292fb 104px,#009ee6 106px,#00abbd 106px,#00c960 108px,#09ce57 110px,#3bd865 114px,#6ce272 116px,#b4f085 120px,#cef58c 122px,#dbf88f 124px,#daf88f 126px,#caf48b 130px,#a4ed81 134px,#52dc6b 140px,#2ed561 144px,#17d15b 148px,#08ce57 154px,#01cc55 158px,#00c861 160px,#00b991 166px,#00b1aa 168px,#009ee6 172px,#0097fb 174px,#0195fe 176px,#0a7fe6 184px,#0e77de 194px,#0b7fe6 202px,#0095fe 210px,#0098f9 212px,#00a2d8 214px,#00b1ab 218px,#00c470 220px,#00cb58 222px,#0fcf59 224px,#38d764 228px,#70e273 232px,#b7f186 236px,#f5fd96 238px,#f8f594 240px,#936b57 246px,#885c52 248px,#b1948e 254px,#c6b1ac 258px,#d2c1be 262px,#d5c5c1 266px,#cdbab6 270px,#bca29d 274px,#966e66 280px,#885b51 282px,#f7f494 290px,#f6fd97 290px,#a8ee82 294px,#69e171 298px,#38d764 302px,#15d05b 306px,#01cc55 310px,#00c863 310px,#00b1ab 314px,#00a3d6 318px,#0096ff 322px,#0688f0 328px,#0982ea 342px,#0689f1 354px,#0095fe 360px,#0097fb 362px,#00a7ca 368px,#00b894 378px,#00bd83 384px,#00c276 400px,#00c07b 406px,#0099f5 440px,#0095fe 444px,#038ef7 454px,#0096fe 462px,#00a5d1 472px,#00acb9 482px,#00b4a0 494px,#00b992 502px,#00bb8b 514px,#00b69b 538px,#00b3a4 542px,#00a1dc 554px,#0097fd 560px,#0095fe 566px,#0097fd 578px,#009af3 588px,#0098f9 598px)"></b><b style="background:linear-gradient(90deg,#2d3395 0px,#2740a2 10px,#214eb2 20px,#1b5abe 40px,#204fb3 54px,#2447a9 64px,#2447aa 84px,#1f52b6 90px,#1171d7 100px,#0689f1 104px,#0292fb 104px,#009de8 106px,#00aac0 106px,#00c863 108px,#08ce57 110px,#3ad865 114px,#6ce272 116px,#b4f085 120px,#cff58c 122px,#dcf890 124px,#dbf88f 126px,#cbf58b 130px,#a5ed81 134px,#52dc6b 140px,#2ed561 144px,#17d15b 148px,#08ce57 154px,#01cc55 158px,#00c861 160px,#00b991 166px,#00b1aa 168px,#009ee5 172px,#0098fa 174px,#0195fe 176px,#0b7fe6 184px,#0e76dd 194px,#0b7ee5 202px,#0096fe 212px,#00a1dd 214px,#00afb0 218px,#00c275 220px,#00c95d 222px,#05cd56 222px,#2bd560 226px,#5edf6e 230px,#a1ec80 234px,#f3fd96 238px,#f9f795 240px,#946c58 246px,#885b51 248px,#b2948e 254px,#c7b2ad 258px,#d4c3c0 262px,#d7c7c4 266px,#cfbdb9 270px,#bea6a1 274px,#9f7c74 278px,#8a5e54 282px,#906655 282px,#f3ef92 290px,#fcfe98 290px,#adef83 294px,#6ce272 298px,#3bd865 302px,#17d15b 306px,#03cd56 310px,#00c95e 310px,#00b2a7 314px,#00a4d4 318px,#0096ff 322px,#0688f0 328px,#0a81e8 342px,#0688f0 354px,#0096fe 362px,#00a6cd 368px,#00b895 378px,#00bd86 384px,#00c177 398px,#00c178 404px,#00bc87 410px,#0096fe 442px,#038ef7 454px,#0096ff 462px,#00a3d6 470px,#00a9c2 478px,#00b4a2 494px,#00b991 502px,#00bc89 514px,#00b798 538px,#00b4a1 542px,#00a2da 554px,#0097fc 560px,#0095fe 562px,#0097fd 578px,#009af1 588px,#0098f8 598px)"></b><b style="background:linear-gradient(90deg,#2d3395 0px,#2740a2 10px,#214eb2 20px,#1b5abe 40px,#204fb3 54px,#2447a9 64px,#2447aa 84px,#1f52b6 90px,#1171d7 100px,#0688f0 104px,#0292fa 104px,#009dea 106px,#00a9c2 106px,#00c766 108px,#08ce57 110px,#39d764 114px,#6be172 116px,#b4f085 120px,#cff58c 122px,#ddf890 124px,#ddf890 126px,#cdf58c 130px,#a6ed81 134px,#53dd6b 140px,#2ed561 144px,#17d15b 148px,#07cd57 154px,#01cc55 158px,#00c668 162px,#00b991 166px,#00b1a9 168px,#009fe4 172px,#0098f9 174px,#0095fe 176px,#0b7ee5 184px,#0f75dc 194px,#0c7de4 202px,#0195fe 212px,#0098fa 212px,#00a3d5 216px,#00b3a3 218px,#00c862 222px,#03cd56 222px,#29d460 226px,#5cde6e 230px,#9fec7f 234px,#f0fc95 238px,#fbf996 240px,#885b51 248px,#b2958e 254px,#c8b3ae 258px,#d5c5c2 262px,#d9cac7 266px,#d1c0bd 270px,#c1aaa4 274px,#a27f78 278px,#8d6258 282px,#8b5f52 282px,#f0ea90 290px,#fdfc98 290px,#edfb94 292px,#a0ec80 296px,#62e06f 300px,#33d663 304px,#12d05a 308px,#05cd56 310px,#00cb58 310px,#00b3a4 314px,#00a4d3 318px,#0096ff 322px,#0787ef 328px,#0a80e7 342px,#0787ef 354px,#0095fe 362px,#0097fb 362px,#00a7cb 370px,#00b797 378px,#00bc87 384px,#00c177 398px,#00c178 404px,#00bc87 410px,#0096fe 442px,#048ef7 454px,#0096ff 462px,#00a3d6 470px,#00a9c2 478px,#00b3a4 492px,#00b98f 502px,#00bd86 514px,#00b895 540px,#00b4a1 544px,#00a3d8 554px,#0098f7 558px,#0096ff 560px,#0097fc 578px,#009bf0 588px,#0099f7 598px)"></b><b style="background:linear-gradient(90deg,#2d3395 0px,#2740a2 10px,#214eb2 20px,#1b5abe 40px,#2051b4 52px,#2447aa 64px,#2446a9 82px,#214db0 88px,#1171d7 100px,#0688f0 104px,#0291fa 104px,#009cec 106px,#00a9c4 106px,#00c669 108px,#07cd57 110px,#39d764 114px,#6ae171 116px,#b4f085 120px,#d0f68c 122px,#dff990 124px,#def890 126px,#cef58c 130px,#a7ed81 134px,#53dd6b 140px,#2ed561 144px,#17d15b 148px,#07cd57 154px,#01cc55 158px,#00c668 162px,#00b990 166px,#00b2a8 168px,#009fe3 172px,#0098f9 174px,#0095fe 176px,#0b7de4 184px,#0f75db 194px,#0c7ce3 202px,#0096fe 212px,#009de8 214px,#00acbb 218px,#00be80 220px,#02cc55 222px,#26d45f 226px,#59de6d 230px,#9beb7e 234px,#ecfb94 238px,#fdfc98 240px,#a68463 246px,#875b50 248px,#b89d97 254px,#cdbab5 258px,#d8cac7 262px,#daccc9 266px,#d1bfbb 270px,#bea6a0 274px,#976f67 280px,#885b51 282px,#a38161 284px,#f9f795 290px,#f3fd96 292px,#a5ed81 296px,#66e070 300px,#36d763 304px,#14d05a 308px,#01cc55 310px,#00aeb3 316px,#00a1de 318px,#0096ff 322px,#0787ef 328px,#0a7fe6 340px,#0885ec 352px,#0096fe 362px,#00a6cd 370px,#00b799 378px,#00bc88 384px,#00c177 398px,#00c178 404px,#00bc87 410px,#0096ff 442px,#048ef6 454px,#0096ff 462px,#00a3d6 470px,#00a9c3 478px,#00b2a7 492px,#00ba8f 500px,#00bd83 514px,#00b98f 538px,#00b796 542px,#00aeb2 548px,#00a3d5 554px,#0099f7 558px,#0096ff 560px,#0097fc 578px,#009bef 588px,#0099f4 598px,#0099f5 598px)"></b><b style="background:linear-gradient(90deg,#2d3395 0px,#273fa2 10px,#214eb2 20px,#1b5abe 40px,#2051b4 52px,#2447aa 64px,#2446a9 82px,#214db0 88px,#1171d7 100px,#0688f0 104px,#0291f9 104px,#009cee 106px,#00a8c7 106px,#00c56b 108px,#06cd57 110px,#38d764 114px,#6ae171 116px,#b4f085 120px,#d0f68d 122px,#e0f991 124px,#dff991 126px,#d0f68c 130px,#b3f085 132px,#49db68 142px,#27d45f 146px,#13d05a 150px,#02cc56 158px,#01cc55 158px,#00c668 162px,#00b990 166px,#00adb6 170px,#009fe2 172px,#0098f8 174px,#0095fe 176px,#0c7de4 184px,#1074da 194px,#0d7ae1 202px,#0194fd 212px,#0098fa 214px,#00a5d1 216px,#00b69b 220px,#00cb57 222px,#19d15c 226px,#48da68 230px,#85e779 234px,#d2f68d 238px,#feff99 240px,#b79c6d 244px,#895d51 248px,#8e6359 248px,#b89d97 254px,#cdbbb6 258px,#daccc9 262px,#dccfcc 266px,#d3c3bf 270px,#c1aaa4 274px,#99736b 280px,#8a5f55 282px,#8f6655 284px,#e8df8b 290px,#f5f293 290px,#f9fe97 292px,#a9ee82 296px,#69e171 300px,#39d764 304px,#16d05b 308px,#02cc56 310px,#00c863 312px,#00afb0 316px,#00a1dd 318px,#0096ff 322px,#0786ee 328px,#0b7ee5 340px,#0884eb 352px,#0095fe 362px,#0097fa 364px,#00a9c4 372px,#00b69a 378px,#00bc89 384px,#00c178 398px,#00c178 404px,#00bc87 410px,#0096ff 442px,#048ef6 454px,#0096ff 462px,#00a3d7 470px,#00aac1 478px,#00b2a6 492px,#00ba8e 500px,#00be80 514px,#00ba8d 538px,#00b895 542px,#00a6cc 552px,#0099f6 558px,#0096ff 560px,#0097fc 576px,#009ced 588px,#009af3 598px,#0099f4 598px)"></b><b style="background:linear-gradient(90deg,#2d3394 0px,#273fa2 10px,#214eb2 20px,#1b5abf 40px,#1f51b4 52px,#2447aa 64px,#2446a9 82px,#214db0 88px,#1171d7 100px,#0688f0 104px,#0390f9 104px,#009bef 106px,#00a7c9 106px,#00c46e 108px,#05cd56 110px,#37d764 114px,#69e171 116px,#b4f085 120px,#d1f68d 122px,#dbf88f 124px,#e1f991 124px,#e1f991 126px,#d1f68d 130px,#b4f085 132px,#49db68 142px,#27d45f 146px,#13d05a 150px,#02cc56 158px,#01cc55 158px,#00c668 162px,#00b990 166px,#00adb5 170px,#009ced 174px,#0095fe 176px,#0c7ce3 184px,#1073d9 194px,#0d79e0 202px,#0096fe 214px,#009ee6 216px,#00aeb5 218px,#00c176 222px,#00c95e 222px,#05cd56 224px,#2cd561 228px,#61df6f 232px,#a6ed81 236px,#fafe98 240px,#f4f092 240px,#9b755c 246px,#8b6053 248px,#8d6258 248px,#b89d97 254px,#cebbb7 258px,#dbcecb 262px,#ded2cf 266px,#d9cac7 270px,#c9b5b0 274px,#aa8b84 278px,#8d6259 282px,#8a5e52 284px,#e4d988 290px,#fefe99 292px,#aeef83 296px,#6de272 300px,#3bd865 304px,#17d15b 308px,#04cd56 310px,#00c95e 312px,#00b0ae 316px,#00a1dc 318px,#0096ff 322px,#0786ed 328px,#0b7de4 340px,#0983ea 352px,#0096fe 364px,#00a6cd 370px,#00b59c 378px,#00bb8a 384px,#00c178 398px,#00c179 404px,#00bb8a 410px,#0096ff 442px,#048ef6 454px,#0096ff 462px,#00a4d3 472px,#00acb8 484px,#00b2a6 492px,#00bb8c 500px,#00bf7d 514px,#00bc89 538px,#00b991 542px,#00a9c2 552px,#0099f6 558px,#0096ff 560px,#0097fc 576px,#009cec 588px,#009af3 598px)"></b><b style="background:linear-gradient(90deg,#2d3394 0px,#273fa1 10px,#214eb2 20px,#1b5bbf 40px,#1f51b4 52px,#2447aa 64px,#2446a9 82px,#214db0 88px,#1171d7 100px,#0788ef 104px,#0390f8 104px,#009af1 106px,#00a6cb 106px,#00c371 108px,#04cd56 110px,#37d764 114px,#68e171 116px,#b3f085 120px,#d1f68d 122px,#dcf890 124px,#e2f991 124px,#e2f991 126px,#d2f68d 130px,#b6f085 132px,#49db69 142px,#27d45f 146px,#13d05a 150px,#02cc56 158px,#01cc55 158px,#00c668 162px,#00ba8f 166px,#00aeb5 170px,#009cec 174px,#0096fe 176px,#0b7de4 184px,#1072d8 194px,#0e78df 202px,#0194fd 214px,#0098fa 214px,#00a6cd 218px,#00b893 220px,#00c765 222px,#03cd56 224px,#29d460 228px,#5edf6e 232px,#8fe97b 234px,#dff991 238px,#f6fd96 240px,#f7f494 240px,#9d785d 246px,#8d6354 248px,#8c6057 248px,#b89d97 254px,#cebcb8 258px,#dccfcd 262px,#e0d4d2 266px,#ddd1ce 268px,#d0bfbb 272px,#bba19b 276px,#885b51 284px,#a48262 286px,#eee78e 290px,#fbfa97 292px,#effc95 292px,#b3f085 296px,#80e677 298px,#49db68 302px,#21d35e 306px,#05cd56 310px,#00cb59 312px,#00b1ab 316px,#00a2da 318px,#0096ff 322px,#0885ed 328px,#0c7ce3 340px,#0982e9 352px,#0193fc 362px,#0095fe 364px,#009af2 366px,#00b3a3 378px,#00ba8d 382px,#00c07b 394px,#00c177 402px,#00be80 408px,#0096ff 442px,#048ef6 454px,#0096ff 462px,#00a4d4 472px,#00adb7 484px,#00b2a6 492px,#00bb8a 500px,#00c07b 512px,#00bd83 536px,#00bb8a 542px,#00b4a2 546px,#00a8c6 552px,#0099f5 558px,#0096ff 560px,#0097fc 576px,#009af2 582px,#009dea 588px,#009af2 598px)"></b><b style="background:linear-gradient(90deg,#2d3394 0px,#273fa1 10px,#214eb2 20px,#1b5bbf 40px,#1f51b5 52px,#2447aa 64px,#2446a9 82px,#214cb0 88px,#1171d7 100px,#0787ef 104px,#0390f8 104px,#009af3 106px,#00a6ce 106px,#00c274 108px,#03cd56 110px,#36d763 114px,#67e171 116px,#b3f085 120px,#d2f68d 122px,#dcf890 124px,#e3f991 124px,#e3f992 126px,#d4f68d 130px,#b7f186 132px,#54dd6b 140px,#2ed561 144px,#16d05b 148px,#09ce57 154px,#01cc55 158px,#00c46f 162px,#00ba8f 166px,#00aeb4 170px,#009ceb 174px,#0096ff 176px,#0c7ce3 184px,#1171d7 194px,#0e77de 202px,#0292fb 214px,#0096fe 214px,#009fe3 216px,#00b0ae 220px,#01cc55 224px,#26d45f 228px,#5ade6d 232px,#8be87a 234px,#dbf88f 238px,#f1fc95 240px,#faf796 240px,#9f7b5f 246px,#8f6655 248px,#8b5f55 248px,#b79d97 254px,#cfbdb9 258px,#ded1ce 262px,#e2d7d4 266px,#e0d4d1 268px,#d3c3bf 272px,#bda59f 276px,#8b5f55 284px,#8f6655 284px,#eae28c 290px,#f7f594 292px,#f5fd96 292px,#b8f186 296px,#84e678 298px,#4cdb69 302px,#23d35e 306px,#00cc55 312px,#00b1a9 316px,#00a7cb 318px,#0096ff 322px,#0885ec 328px,#0c7be2 340px,#0a81e8 352px,#0292fa 362px,#0097fd 364px,#00adb7 374px,#00b796 380px,#00bc87 386px,#00c178 398px,#00c179 404px,#00bb8a 410px,#0097fd 442px,#0292fb 446px,#048ef6 456px,#0096ff 462px,#00a4d4 472px,#00adb6 486px,#00b3a2 492px,#00bc89 500px,#00c178 512px,#00bf7f 534px,#00bd84 540px,#00b893 544px,#00a9c4 552px,#0099f4 558px,#0096fe 560px,#0097fd 574px,#0099f5 580px,#009de9 588px,#009bef 598px,#009bf1 598px)"></b><b style="background:linear-gradient(90deg,#2d3394 0px,#283fa1 10px,#214eb2 20px,#1b5bbf 40px,#1f51b5 52px,#2447aa 62px,#2546a8 80px,#224aad 86px,#136dd3 98px,#0a80e8 102px,#038ff8 104px,#0099f5 106px,#00a5d0 106px,#00c177 108px,#03cd56 110px,#35d763 114px,#67e170 116px,#c4f389 122px,#ddf890 124px,#e4fa92 124px,#e4fa92 126px,#d5f78e 130px,#b8f186 132px,#54dd6b 140px,#2ed561 144px,#16d05b 148px,#09ce57 154px,#00cc55 158px,#00c46f 162px,#00b699 168px,#009dea 174px,#0096ff 176px,#0c7ce3 184px,#1171d7 194px,#0e76dd 202px,#0291f9 214px,#0194fd 214px,#0098f7 216px,#00a8c7 218px,#00bb8a 222px,#00ca5a 224px,#07cd57 224px,#2fd562 228px,#66e070 232px,#99eb7e 236px,#edfb94 240px,#fcfb97 240px,#b1946a 246px,#926956 248px,#8a5e54 248px,#bea6a0 256px,#d4c4c0 260px,#e1d6d3 264px,#e4d9d7 266px,#e0d4d1 270px,#d1c0bc 274px,#b39790 278px,#8d6359 284px,#8a5f52 284px,#e6dc8a 290px,#f4ef92 292px,#fbfe98 292px,#bdf287 296px,#88e779 298px,#4fdc6a 302px,#26d45f 306px,#02cc55 312px,#00c766 312px,#00b2a6 316px,#00a7c9 318px,#0096ff 322px,#0786ed 328px,#0d7ae1 340px,#0b7ee5 350px,#048ef7 362px,#0095fe 364px,#00b4a1 378px,#00ba8c 384px,#00c079 396px,#00c178 404px,#00bd83 408px,#0096fd 442px,#048df6 454px,#0194fd 462px,#0095fe 462px,#00a4d4 472px,#00b0ad 490px,#00bc87 500px,#00c276 512px,#00c07b 534px,#00be80 540px,#00b98f 544px,#00aac1 552px,#009af4 558px,#0096fe 560px,#0097fc 574px,#0099f5 580px,#009de8 588px,#009bee 598px,#009bf0 598px)"></b><b style="background:linear-gradient(90deg,#2d3394 0px,#283d9f 8px,#214db0 18px,#1b5bbf 38px,#1e55b8 50px,#2447aa 62px,#2546a8 80px,#234aad 86px,#136dd3 98px,#0a80e7 102px,#038ff7 104px,#0099f7 106px,#00a4d2 106px,#00c07a 108px,#02cc55 110px,#34d663 114px,#66e070 116px,#c4f389 122px,#def890 124px,#e5fa92 124px,#e6fa92 126px,#d6f78e 130px,#b9f186 132px,#55dd6c 140px,#2ed561 144px,#16d05b 148px,#08ce57 154px,#00cc55 158px,#00c46f 162px,#00b798 168px,#009de9 174px,#0096ff 176px,#0c7be2 184px,#1170d6 194px,#0f75dc 202px,#038ff7 214px,#0097fd 216px,#00a6cc 218px,#00b990 222px,#00c861 224px,#04cd56 224px,#2cd561 228px,#62e06f 232px,#95ea7d 236px,#d2f68d 238px,#fefe99 240px,#b4986b 246px,#946c58 248px,#895c52 248px,#bea5a0 256px,#d5c5c1 260px,#e2d8d5 264px,#e5dcda 266px,#e2d7d5 270px,#d4c4c0 274px,#bda49e 278px,#885b51 284px,#a58362 286px,#f0ea90 292px,#fdfd98 292px,#9deb7f 298px,#5fdf6e 302px,#31d662 306px,#11cf5a 310px,#03cd56 312px,#00c862 312px,#00b3a3 316px,#00a8c8 318px,#0096ff 322px,#0885ed 328px,#0d79e0 340px,#0c7de4 350px,#048df5 362px,#0194fd 364px,#0097fc 366px,#00b2a8 378px,#00b990 382px,#00bf7d 394px,#00c177 402px,#00bf7f 408px,#0096fe 442px,#048df6 454px,#0194fd 462px,#0095fe 462px,#009bf1 466px,#00a3d5 472px,#00b0ad 490px,#00bd85 500px,#00c273 512px,#00c177 532px,#00c07c 540px,#00bb8c 544px,#00abbe 552px,#009af3 558px,#0096fe 560px,#0097fd 572px,#009af4 580px,#009ee6 588px,#009ceb 596px,#009bee 598px)"></b><b style="background:linear-gradient(90deg,#2d3394 0px,#283d9f 8px,#214db0 18px,#1b5bbf 38px,#1e55b9 50px,#2447aa 62px,#2546a8 80px,#234aad 86px,#136dd3 98px,#0a80e7 102px,#038ef7 104px,#0098f9 106px,#00a3d5 106px,#00c07c 108px,#01cc55 110px,#42d967 114px,#78e475 118px,#c4f389 122px,#def890 124px,#e6fa92 124px,#e7fa93 126px,#d8f78f 130px,#baf187 132px,#55dd6c 140px,#2ed561 144px,#16d05b 148px,#08ce57 154px,#00cc55 158px,#00c177 164px,#00b798 168px,#009de8 174px,#0096ff 176px,#0c7be1 184px,#126fd5 194px,#0f74da 202px,#048df6 214px,#0095fe 216px,#009af4 216px,#00aabf 220px,#00be80 222px,#00c668 224px,#02cc56 224px,#29d460 228px,#5edf6e 232px,#91e97c 236px,#cdf58c 238px,#fafe98 240px,#f4ef92 242px,#885b51 248px,#bea5a0 256px,#d5c6c2 260px,#e4d9d7 264px,#e7dedc 266px,#e4dad8 270px,#d7c7c4 274px,#c0a8a3 278px,#8b5f55 284px,#906655 286px,#ddd185 290px,#faf896 292px,#f1fc95 294px,#b4f085 296px,#80e677 300px,#55dd6c 302px,#2ad460 306px,#05cd56 312px,#00c95d 312px,#00b4a1 316px,#00a8c6 318px,#0096ff 322px,#0885ec 328px,#0d79df 340px,#0c7ce3 350px,#058cf4 362px,#0096ff 366px,#00b3a4 378px,#00ba8e 384px,#00c07a 396px,#00c178 404px,#00be82 408px,#0096ff 442px,#048df5 454px,#0194fd 462px,#0095fe 462px,#0099f6 464px,#00a2d9 470px,#00a9c3 480px,#00b0ad 490px,#00bd84 500px,#00c370 512px,#00c273 532px,#00c178 540px,#00bc88 544px,#00abbc 552px,#009af3 558px,#0096fe 560px,#0097fd 572px,#0099f5 580px,#009ee5 588px,#009dea 596px,#009ced 598px)"></b><b style="background:linear-gradient(90deg,#2d3394 0px,#293d9f 8px,#214db0 18px,#1b5bc0 38px,#1e55b9 50px,#2447aa 62px,#2545a8 80px,#234aad 86px,#136dd3 98px,#0a80e7 102px,#048ef6 104px,#0097fb 106px,#00a3d7 106px,#00cc55 110px,#42d967 114px,#78e475 118px,#c4f389 122px,#dff990 124px,#e7fa92 124px,#e8fa93 126px,#d9f78f 130px,#bcf287 132px,#55dd6c 140px,#2ed561 144px,#16d05b 148px,#08ce57 154px,#00cc55 158px,#00c176 164px,#00b797 168px,#009af3 174px,#0096fe 176px,#0d7ae1 184px,#126ed4 194px,#1073d9 202px,#058cf4 214px,#0193fc 216px,#0098f9 216px,#00a8c5 220px,#00bc86 222px,#00cc56 224px,#26d45f 228px,#5bde6d 232px,#8de87b 236px,#c9f48b 238px,#f6fd97 240px,#f6f394 242px,#a98965 246px,#885c51 248px,#c4aea9 256px,#dacdca 260px,#e7dedc 264px,#e9e1df 268px,#e4dad8 270px,#d4c4c1 274px,#b49992 280px,#8d6359 284px,#8b5f52 286px,#e8df8b 292px,#f6f394 292px,#f7fd97 294px,#b9f186 296px,#84e678 300px,#58de6d 302px,#2cd561 306px,#06cd57 312px,#00cb59 312px,#00b59e 316px,#00a9c5 318px,#0096ff 322px,#0884ec 328px,#0e78df 338px,#0d79e0 348px,#0688f0 360px,#0195fe 366px,#0097fb 366px,#00b2a6 378px,#00ba8f 384px,#00c07a 396px,#00c179 404px,#00bb89 410px,#0096ff 442px,#048df5 454px,#0194fc 462px,#0097fc 464px,#00a2d9 470px,#00a9c4 480px,#00afb1 488px,#00be82 500px,#00c46e 512px,#00c46f 530px,#00c274 540px,#00bd84 544px,#00acb9 552px,#009af2 558px,#0096fe 560px,#0097fd 572px,#0099f5 580px,#009fe4 588px,#009de9 596px,#009cec 598px)"></b><b style="background:linear-gradient(90deg,#2d3394 0px,#293d9f 8px,#214db0 18px,#1b5bc0 38px,#1e55b9 50px,#2447aa 62px,#2545a8 80px,#234aad 86px,#136dd3 98px,#0a80e7 102px,#0097fd 106px,#00a2d9 106px,#00cb57 110px,#32d662 114px,#64e070 116px,#c4f389 122px,#e0f991 124px,#e7fa93 124px,#ebfb94 126px,#e7fa92 128px,#d2f68d 130px,#a4ed81 134px,#55dd6c 140px,#2ed561 144px,#16d05b 148px,#08ce57 154px,#00cc55 158px,#00c176 164px,#00b797 168px,#009af2 174px,#0096fe 176px,#0d79e0 184px,#136dd3 194px,#1072d8 202px,#0787ef 212px,#0096fe 216px,#00a7cb 220px,#00ba8d 222px,#00ca5c 224px,#06cd57 226px,#2fd562 230px,#67e170 234px,#9beb7e 236px,#daf88f 240px,#f1fc95 240px,#f9f795 242px,#ac8c66 246px,#8b5f52 248px,#8e6359 250px,#bda49f 256px,#d6c7c3 260px,#e6dddb 264px,#ebe3e2 266px,#e9e0df 270px,#e0d5d2 272px,#ccb9b4 276px,#a88880 282px,#885b51 286px,#f2ed91 292px,#fdff99 294px,#bef288 296px,#88e779 300px,#5cde6d 302px,#2fd561 306px,#00cc55 312px,#00afb0 316px,#00a4d3 318px,#0096ff 322px,#0884eb 328px,#0e77de 338px,#0e78df 348px,#0787ef 360px,#0096fe 366px,#00b2a7 378px,#00b990 384px,#00c07c 396px,#00c178 404px,#00be82 408px,#0096ff 442px,#048df5 454px,#0194fc 462px,#0097fc 464px,#00a2d9 470px,#00a9c4 480px,#00afb1 488px,#00be80 500px,#00c56b 512px,#00c56c 530px,#00c370 540px,#00be81 544px,#00adb6 552px,#009af1 558px,#0096fe 560px,#0097fd 572px,#0099f4 580px,#009fe2 588px,#009ee7 596px,#009ceb 598px)"></b><b style="background:linear-gradient(90deg,#2d3394 0px,#293d9f 8px,#214db0 18px,#1b5bc0 38px,#1e55b9 50px,#2447aa 62px,#2545a8 80px,#234aad 86px,#136dd3 98px,#0786ee 104px,#0096fe 106px,#00a1db 106px,#00ca5a 110px,#0cce58 110px,#40d966 114px,#76e474 118px,#c4f389 122px,#e0f991 124px,#e8fa93 124px,#ecfb94 126px,#e8fa93 128px,#d3f68d 130px,#a5ed81 134px,#56dd6c 140px,#2ed561 144px,#16d05b 148px,#08ce57 154px,#00cc55 158px,#00bf7e 164px,#00b797 168px,#0097fd 176px,#058bf3 178px,#0e77dd 184px,#136cd2 194px,#1072d9 204px,#0689f1 214px,#0195fe 216px,#009af4 218px,#00abbd 220px,#00c07c 224px,#00c763 224px,#04cd56 226px,#2cd561 230px,#63e06f 234px,#97ea7d 236px,#d5f78e 240px,#ecfb94 240px,#fcfb97 242px,#ae9068 246px,#8d6254 248px,#8c6158 250px,#c4ada8 256px,#dccecb 260px,#eae2e0 264px,#ede6e4 268px,#e9e1df 270px,#daccc9 274px,#c2aaa5 278px,#8a5f55 286px,#916756 286px,#e0d486 292px,#fcfb97 294px,#edfb94 294px,#b0ef84 298px,#7ce576 300px,#52dc6b 304px,#28d460 308px,#02cc55 312px,#00c669 314px,#00b0ae 316px,#00a4d2 318px,#0096ff 322px,#0983eb 328px,#0f76dd 338px,#0e77dd 348px,#0786ee 360px,#0095fe 366px,#00a1dc 372px,#00b3a3 380px,#00b991 384px,#00c07c 396px,#00c178 404px,#00be82 408px,#0097fc 440px,#0195fd 442px,#048df5 454px,#0095fe 462px,#0097fd 464px,#00a2da 470px,#00a8c5 480px,#00afb1 488px,#00bf7f 500px,#00c668 512px,#00c668 528px,#00c46d 540px,#00bf7d 544px,#00b1ab 552px,#009bf1 558px,#0096fd 560px,#0097fd 570px,#009af3 580px,#00a0e1 588px,#009ee6 596px,#009dea 598px)"></b><b style="background:linear-gradient(90deg,#2d3394 0px,#293d9f 8px,#214db0 18px,#1b5cc0 38px,#1e55b9 50px,#2447aa 62px,#2545a8 80px,#2349ac 86px,#146acf 98px,#0a80e7 102px,#0096ff 106px,#00a1de 106px,#00ca5d 110px,#0bce58 110px,#3fd966 114px,#75e374 118px,#c4f389 122px,#e1f991 124px,#e9fb93 124px,#edfb94 126px,#e9fb93 128px,#d5f78e 130px,#b3f085 134px,#56dd6c 140px,#2ed561 144px,#15d05b 148px,#08ce57 154px,#00cc55 158px,#00bf7d 164px,#00b796 168px,#0097fd 176px,#038ff7 178px,#0e78df 184px,#136cd1 194px,#126fd5 202px,#0981e9 212px,#0193fc 216px,#0098f9 218px,#00b0ae 222px,#02cc55 226px,#29d460 230px,#5fdf6e 234px,#93e97c 236px,#d1f68d 240px,#fefe99 242px,#c2ab74 246px,#906655 248px,#8b6056 250px,#c3ada8 256px,#dccfcc 260px,#ebe4e2 264px,#efe8e7 268px,#ebe4e2 270px,#ddd0cd 274px,#c4afaa 278px,#8d6259 286px,#8c6053 286px,#dcce83 292px,#f8f695 294px,#f3fd96 294px,#b5f085 298px,#80e677 300px,#55dd6c 304px,#2ad460 308px,#03cd56 312px,#00c765 314px,#00b0ac 316px,#00a5d1 318px,#0096ff 322px,#0983ea 328px,#0f75dc 338px,#0f76dc 348px,#0885ed 360px,#0194fd 366px,#0097fc 368px,#00b1ab 378px,#00b992 384px,#00bf7c 396px,#00c178 404px,#00be82 408px,#0097fd 440px,#0193fc 444px,#048df5 454px,#0097fd 464px,#00a2da 470px,#00a8c6 480px,#00afb2 488px,#00bf7d 500px,#00c765 512px,#00c765 528px,#00c669 540px,#00c079 544px,#00b2a8 552px,#009bf0 558px,#0097fd 560px,#0097fd 570px,#009af3 580px,#00a0e1 586px,#009fe2 594px,#009de8 598px)"></b><b style="background:linear-gradient(90deg,#2d3394 0px,#293d9f 8px,#214db0 18px,#1b5cc0 38px,#1d55b9 50px,#2447aa 62px,#2545a8 80px,#2349ac 86px,#146acf 98px,#0a7fe7 102px,#0095fe 106px,#00a0e0 106px,#00c95f 110px,#0bce58 110px,#3ed866 114px,#75e374 118px,#c4f389 122px,#e2f991 124px,#eafb93 124px,#eefc95 126px,#ebfb94 128px,#d6f78e 130px,#b4f085 134px,#56dd6c 140px,#2ed561 144px,#15d05b 148px,#08ce57 154px,#00cc55 158px,#00bf7d 164px,#00b796 168px,#0097fc 176px,#038ff7 178px,#0e77de 184px,#146bd0 194px,#126ed4 202px,#0a80e7 212px,#0096fe 218px,#00aeb3 222px,#00c371 224px,#00cb57 226px,#26d45f 230px,#5bde6d 234px,#8ee87b 236px,#ccf58b 240px,#fafe98 242px,#f3ef92 242px,#a38161 248px,#926a57 248px,#8a5e54 250px,#c3ada8 256px,#dccfcd 260px,#ece5e4 264px,#f0ebea 268px,#eee7e6 270px,#e4dad8 274px,#cebcb8 278px,#a17d75 284px,#885b51 286px,#e6dd8a 292px,#f5f193 294px,#f9fe97 294px,#baf186 298px,#84e678 300px,#58de6c 304px,#2cd561 308px,#04cd56 312px,#00c861 314px,#00b1a9 316px,#00a5cf 318px,#0096fe 322px,#0982e9 328px,#0f74db 338px,#0f75db 348px,#0884eb 360px,#0096ff 368px,#00b2a6 380px,#00b893 384px,#00bf7d 396px,#00c178 404px,#00be81 408px,#0097fd 440px,#048cf5 454px,#0193fc 462px,#0097fd 464px,#00a2da 470px,#00a9c5 480px,#00afb2 488px,#00bf7f 500px,#00c766 510px,#00c861 518px,#00c765 540px,#00c276 544px,#00b3a5 552px,#009bf0 558px,#0097fd 560px,#0096fd 570px,#009af2 580px,#00a0df 586px,#00a0e1 594px,#009ee7 598px)"></b><b style="background:linear-gradient(90deg,#2d3394 0px,#293d9f 8px,#214db0 18px,#1a5cc0 38px,#1d56ba 48px,#2447aa 62px,#2545a7 80px,#2349ac 86px,#146acf 98px,#0a7fe6 102px,#0195fd 106px,#009fe2 106px,#00c862 110px,#0ace58 110px,#3ed865 114px,#74e374 118px,#c4f389 122px,#e2f991 124px,#ebfb94 124px,#effc95 126px,#ecfb94 128px,#d7f78e 130px,#b5f085 134px,#56dd6c 140px,#2dd561 144px,#15d05b 148px,#08ce57 154px,#00cc55 158px,#00bf7d 164px,#00b895 168px,#00a8c7 172px,#0097fc 176px,#0193fc 176px,#0e77dd 184px,#146ad0 194px,#136dd2 202px,#0b7ee5 212px,#0390f9 216px,#0095fe 218px,#009af2 218px,#00b3a5 222px,#00c178 224px,#00c95e 226px,#06cd57 226px,#2fd562 230px,#58de6c 234px,#8ae87a 236px,#c7f48a 240px,#f5fd96 242px,#f6f394 242px,#a68563 248px,#956d59 248px,#895c52 250px,#c3aca7 256px,#ddd0cd 260px,#ede7e5 264px,#f2edec 268px,#f0eae9 270px,#e7dedc 274px,#d1c0bc 278px,#ac8c86 282px,#8a5e54 286px,#926957 288px,#e2d788 292px,#fefe99 294px,#abee83 298px,#78e475 302px,#4fdc6a 304px,#26d45f 308px,#06cd57 312px,#00ca5c 314px,#00b2a7 316px,#00a6ce 318px,#0096fe 322px,#0982e9 328px,#1073da 338px,#1074da 348px,#0983ea 360px,#0195fe 368px,#0097fb 368px,#00b2a7 380px,#00b894 384px,#00bf7d 396px,#00c178 404px,#00be81 408px,#0096fe 440px,#048cf5 454px,#0193fc 462px,#0096fe 464px,#00a2db 470px,#00adb6 488px,#00b895 494px,#00c07a 500px,#00c861 512px,#00c95e 520px,#00c861 540px,#00c372 544px,#00b3a2 552px,#00a6ce 556px,#009bef 558px,#0097fd 560px,#0097fd 570px,#009af2 580px,#00a0de 586px,#00a0df 594px,#009ee6 598px)"></b><b style="background:linear-gradient(90deg,#2d3394 0px,#293d9f 8px,#214db0 18px,#1a5cc0 38px,#1d56ba 48px,#2447a9 62px,#2545a7 80px,#2349ac 86px,#146acf 98px,#0a7fe6 102px,#0194fd 106px,#009fe4 106px,#00c764 110px,#09ce57 110px,#3dd865 114px,#73e374 118px,#c4f389 122px,#e3f991 124px,#ecfb94 124px,#f0fc95 126px,#edfb94 128px,#d9f78f 130px,#b6f086 134px,#57dd6c 140px,#36d763 144px,#1fd25d 146px,#0ecf59 150px,#00cc55 158px,#00bd84 166px,#00b4a0 168px,#0097fb 176px,#0193fc 176px,#0e76dd 184px,#1469cf 194px,#136cd1 202px,#0b7de4 212px,#038ff7 216px,#0193fc 218px,#0099f7 218px,#00b1aa 222px,#00c765 226px,#03cd56 226px,#2cd561 230px,#54dd6b 234px,#86e779 236px,#c2f389 240px,#f0fc95 242px,#f9f796 242px,#a98965 248px,#875b50 250px,#c2aba6 256px,#ddd0cd 260px,#efe8e7 264px,#f4f0ef 268px,#f2edec 270px,#e9e1df 274px,#d4c4c0 278px,#af918a 282px,#8d6258 286px,#8d6254 288px,#ded285 292px,#fbfa97 294px,#effc95 296px,#b0ef84 298px,#7ce576 302px,#52dc6b 304px,#28d460 308px,#07cd57 312px,#00cb58 314px,#00b3a5 316px,#00a6cd 318px,#0096fe 322px,#0a81e8 328px,#1072d9 338px,#1072d8 348px,#0982e9 360px,#0096fe 368px,#00b1a9 380px,#00b895 384px,#00bf7e 396px,#00c179 404px,#00bd84 410px,#0096fe 440px,#048cf4 454px,#0193fc 462px,#0096fe 464px,#00a1db 470px,#00adb6 488px,#00b894 494px,#00c178 500px,#00c95f 512px,#00ca5b 520px,#00c95d 540px,#00c669 544px,#00b49f 552px,#00a6cc 556px,#009bee 558px,#0097fd 560px,#0097fd 570px,#009af1 580px,#00a1dd 586px,#00a0de 594px,#009ee5 598px)"></b><b style="background:linear-gradient(90deg,#2d3394 0px,#293d9e 8px,#214db0 18px,#1a5cc1 38px,#1d57bb 48px,#2447a9 62px,#2545a7 80px,#2349ac 86px,#1666cc 96px,#0a7fe6 102px,#0194fc 106px,#009ee6 106px,#00c667 110px,#09ce57 110px,#3cd865 114px,#72e373 118px,#c4f389 122px,#e3f992 124px,#edfb94 124px,#f2fc95 126px,#effc95 128px,#daf88f 130px,#b7f186 134px,#57dd6c 140px,#36d763 144px,#1fd25d 146px,#0ecf59 150px,#00cc55 158px,#00bd84 166px,#00b59f 168px,#0097fb 176px,#0193fc 176px,#0f76dc 184px,#1568ce 194px,#146bd0 202px,#0c7be2 212px,#048df6 216px,#0292fb 218px,#0097fb 218px,#00afb0 222px,#01cc55 226px,#29d460 230px,#50dc6a 234px,#82e678 236px,#bdf287 240px,#ebfb94 242px,#fcfb97 242px,#bda471 246px,#895d51 250px,#8f655b 250px,#c9b5b1 258px,#e3d8d6 262px,#f0eae8 264px,#f6f2f1 268px,#f4f0ef 270px,#ece5e3 274px,#d7c8c5 278px,#b2958e 282px,#885c51 288px,#dacc82 292px,#f7f594 294px,#f4fd96 296px,#b5f085 298px,#7fe577 302px,#55dd6c 304px,#2ad460 308px,#00cc55 314px,#00b3a2 316px,#00a6cb 318px,#0096fe 322px,#0a81e8 328px,#1171d8 338px,#1171d7 348px,#0a80e8 360px,#0095fe 368px,#009de9 372px,#00b1aa 380px,#00b796 384px,#00bf7e 396px,#00c179 404px,#00bd84 410px,#009af3 438px,#0096ff 440px,#058cf4 454px,#0193fc 462px,#0096fe 464px,#00a1db 470px,#00adb7 488px,#00b894 494px,#00c177 500px,#00ca5c 512px,#00cb58 520px,#00cb5a 540px,#00c765 544px,#00b59c 552px,#00a7cb 556px,#009bee 558px,#0097fd 560px,#0096fe 568px,#009af3 578px,#00a1db 586px,#00a1dd 594px,#009fe4 598px)"></b><b style="background:linear-gradient(90deg,#2d3394 0px,#293c9e 8px,#214db0 18px,#1a5cc1 38px,#1d57bb 48px,#2447aa 62px,#2544a7 78px,#2447aa 86px,#1c59bd 92px,#0d7ae1 102px,#0193fc 106px,#009de8 106px,#00c669 110px,#08ce57 110px,#3bd865 114px,#71e373 118px,#c4f389 122px,#e4fa92 124px,#edfb94 124px,#f2fc96 126px,#f0fc95 128px,#dbf88f 130px,#b8f186 134px,#57dd6c 140px,#36d763 144px,#1fd25d 146px,#0ecf59 150px,#00cc55 158px,#00bd83 166px,#00b59e 168px,#0097fa 176px,#0193fc 176px,#0f75db 184px,#1568cd 194px,#146acf 202px,#0d7ae1 212px,#058cf4 216px,#0096ff 218px,#00aeb5 222px,#00c372 226px,#00cb58 226px,#11cf5a 228px,#3fd966 232px,#6ce272 236px,#a4ed81 238px,#e6fa92 242px,#feff99 242px,#c0a873 246px,#8c6153 250px,#8d6359 250px,#c9b4b0 258px,#e3d8d6 262px,#f0ebe9 264px,#f7f4f3 268px,#f6f3f2 270px,#eee8e6 274px,#d9cbc8 278px,#b49892 282px,#895c53 288px,#956d58 288px,#d7c880 292px,#f5f193 294px,#f9fe97 296px,#b9f186 298px,#82e678 302px,#57dd6c 304px,#35d763 308px,#01cc55 314px,#00b4a1 316px,#00a7cb 318px,#0096fe 322px,#0a80e7 328px,#1171d7 338px,#1170d6 348px,#0a80e7 360px,#0195fe 368px,#0097fb 370px,#00b1ac 380px,#00b797 384px,#00bf7f 396px,#00c07a 404px,#00bd85 410px,#0097fc 440px,#0096ff 440px,#058cf4 454px,#0193fc 462px,#0096ff 464px,#00a0df 470px,#00a6ce 476px,#00acba 486px,#00b3a4 492px,#00c179 500px,#00ca5c 510px,#00cc55 518px,#00cb57 540px,#00c862 544px,#00b992 550px,#00afb0 554px,#009ced 558px,#0097fd 560px,#0096fe 568px,#009af2 578px,#00a2da 586px,#00a2da 594px,#009fe2 598px)"></b><b style="background:linear-gradient(90deg,#2d3394 0px,#293c9e 8px,#214eb1 20px,#1a5cc1 40px,#1e53b7 52px,#2447aa 62px,#2544a7 78px,#2447aa 86px,#1c59bd 92px,#0d7ae0 102px,#0193fc 106px,#009de9 106px,#00c669 110px,#08ce57 110px,#3bd865 114px,#72e373 118px,#c4f389 122px,#e4fa92 124px,#eefc94 124px,#f3fd96 126px,#f0fc95 128px,#dbf88f 130px,#b8f186 134px,#57dd6c 140px,#36d763 144px,#1fd25d 146px,#0ecf59 150px,#00cc55 158px,#00bd83 166px,#00b59e 168px,#0097fa 176px,#0193fc 176px,#0f75db 184px,#1568cd 194px,#146acf 202px,#0d79e0 212px,#058bf3 216px,#0195fd 218px,#009af2 220px,#00b3a5 224px,#00c177 226px,#00c95d 226px,#06cd57 228px,#30d662 232px,#5ade6d 234px,#8ee87b 238px,#ccf58b 240px,#fcfe98 242px,#f2ed91 244px,#9f7b5f 248px,#8e6354 250px,#8d6258 250px,#c8b3af 258px,#e2d8d5 262px,#f0eae9 264px,#f7f3f3 268px,#f6f3f2 270px,#eee8e6 274px,#dacbc8 278px,#b49892 282px,#895d53 288px,#946c58 288px,#d6c780 292px,#f4f093 294px,#f9fe98 296px,#b9f186 298px,#83e678 302px,#57dd6c 304px,#35d763 308px,#01cc55 314px,#00b3a4 316px,#00a6cd 318px,#009bf1 320px,#0095fe 322px,#0982e9 326px,#1072d8 336px,#126fd5 346px,#0b7ee5 360px,#0095fe 368px,#009af2 370px,#00aeb3 378px,#00b59c 382px,#00bb89 390px,#00bf7d 402px,#00bf7f 406px,#00b796 414px,#0097fc 440px,#0096ff 440px,#058cf4 454px,#0193fc 462px,#0096ff 464px,#00a1dc 470px,#00adb5 488px,#00b992 494px,#00c275 500px,#00ca5b 510px,#00cc55 518px,#00cc56 540px,#00c862 544px,#00b991 550px,#00afaf 554px,#009ced 558px,#0097fd 560px,#0096fe 566px,#009bf0 578px,#00a2d8 586px,#00a2d9 594px,#00a0e1 598px)"></b><b style="background:linear-gradient(90deg,#2d3394 0px,#293c9e 8px,#214eb1 20px,#1a5cc1 40px,#1e53b7 52px,#2447aa 62px,#2544a7 78px,#2447aa 86px,#1c59bd 92px,#0d7ae0 102px,#0193fc 106px,#009de9 106px,#00c56a 110px,#08ce57 110px,#3bd865 114px,#72e373 118px,#c5f389 122px,#e4fa92 124px,#eefc94 124px,#f3fd96 126px,#f0fc95 128px,#e4fa92 130px,#c5f38a 132px,#56dd6c 140px,#36d763 144px,#1fd25d 146px,#0ecf59 150px,#00cc55 158px,#00be82 166px,#00b59d 168px,#0097fa 176px,#0193fc 176px,#0f75db 184px,#1568cd 194px,#146ad0 202px,#0c7be2 212px,#038ef7 218px,#0193fc 218px,#0099f6 220px,#00b1a9 224px,#00c07c 226px,#00c862 226px,#04cd56 228px,#2ed561 232px,#57dd6c 234px,#8be87a 238px,#c9f48b 240px,#f9fe97 242px,#f4ef92 244px,#a17e60 248px,#8f6655 250px,#8c6057 250px,#c7b2ae 258px,#e2d7d5 262px,#f0eae9 264px,#f6f3f2 268px,#f6f3f2 270px,#eee8e6 274px,#daccc9 278px,#b49892 282px,#895d53 288px,#946c58 288px,#d6c780 292px,#f4f092 294px,#fafe98 296px,#b9f186 298px,#83e678 302px,#57dd6c 304px,#35d763 308px,#00cc55 314px,#00b2a6 316px,#00a5d0 318px,#009af3 320px,#0195fe 322px,#0981e9 326px,#1072d8 336px,#126fd5 346px,#0b7ee5 360px,#0095fe 368px,#009fe1 372px,#00b0ad 380px,#00b69a 384px,#00bd85 396px,#00be80 404px,#00bb8a 410px,#0096ff 440px,#058cf4 454px,#0193fb 462px,#0096ff 464px,#00a1dc 470px,#00aeb4 488px,#00c274 500px,#00ca5b 510px,#00cc55 518px,#00cc56 540px,#00c861 544px,#00b991 550px,#00afaf 554px,#009ced 558px,#0097fc 560px,#0096fe 566px,#009bee 578px,#00a3d6 586px,#00a2d8 594px,#00a0e0 598px)"></b><b style="background:linear-gradient(90deg,#2d3394 0px,#293c9e 8px,#214eb1 20px,#1a5cc1 40px,#1e53b7 52px,#2447a9 62px,#2544a6 78px,#2447a9 86px,#1c59bd 92px,#0d79e0 102px,#0293fb 106px,#009dea 106px,#00c56a 110px,#08ce57 110px,#3cd865 114px,#72e373 118px,#c5f38a 122px,#e4fa92 124px,#eefc95 124px,#f3fd96 126px,#f1fc95 128px,#e5fa92 130px,#c5f38a 132px,#56dd6c 140px,#35d763 144px,#1ed25d 146px,#0dcf59 150px,#00cc55 158px,#00be82 166px,#00b59d 168px,#0097fa 176px,#0193fc 176px,#0f75db 184px,#1567cd 194px,#146acf 202px,#0d7ae1 212px,#048df5 218px,#0292fb 218px,#0098fa 220px,#00b0ad 224px,#00c667 226px,#03cd56 228px,#2cd561 232px,#55dd6c 234px,#88e779 238px,#c6f48a 240px,#f6fd97 242px,#f5f293 244px,#a38061 248px,#916856 250px,#8b5f55 250px,#c7b1ad 258px,#e1d6d4 262px,#efe9e8 264px,#f6f3f2 268px,#f6f3f2 270px,#eee8e7 274px,#daccc9 278px,#b59993 282px,#895d53 288px,#946b58 288px,#d6c780 292px,#f4f092 294px,#fafe98 296px,#b9f186 298px,#83e678 302px,#57dd6c 304px,#35d763 308px,#00cb57 314px,#00b990 316px,#00aabf 318px,#0099f6 320px,#0194fd 322px,#0a81e8 326px,#1072d8 336px,#126fd5 346px,#0b7ee5 360px,#0096ff 368px,#00aeb4 378px,#00b49f 382px,#00ba8d 392px,#00bd83 402px,#00bc88 408px,#00abbe 424px,#0096ff 440px,#058cf4 454px,#0293fb 462px,#0096ff 464px,#00a1dd 470px,#00aeb3 488px,#00c273 500px,#00ca5c 510px,#00cc55 516px,#00cc56 540px,#00c861 544px,#00b990 550px,#00b3a3 552px,#009ced 558px,#0097fc 560px,#0096ff 566px,#009bef 578px,#00a4d4 586px,#00a3d6 594px,#00a0de 598px)"></b><b style="background:linear-gradient(90deg,#2d3394 0px,#293c9e 8px,#214eb1 20px,#1a5cc1 40px,#1e53b7 52px,#2447a9 62px,#2544a6 78px,#2447a9 86px,#1c59bd 92px,#0d79e0 102px,#0292fb 106px,#009dea 106px,#00c56a 110px,#08ce57 110px,#3cd865 114px,#72e373 118px,#c5f38a 122px,#e5fa92 124px,#effc95 124px,#f4fd96 126px,#f1fc95 128px,#e5fa92 130px,#c5f38a 132px,#56dd6c 140px,#35d763 144px,#1ed25d 146px,#0dcf59 150px,#00cc55 158px,#00be81 166px,#00b59c 168px,#0097fb 176px,#0193fc 176px,#0f74db 184px,#1567cd 194px,#1469cf 202px,#0d79e0 212px,#058cf4 218px,#0096fe 220px,#00b59d 224px,#01cc55 228px,#2ad460 232px,#53dd6b 234px,#86e779 238px,#c4f389 240px,#f3fd96 242px,#f7f494 244px,#a58362 248px,#936b57 250px,#8a5e54 250px,#c6b0ac 258px,#e1d6d3 262px,#efe9e8 264px,#f6f3f2 268px,#f6f3f2 270px,#eee8e7 274px,#daccc9 278px,#b59993 282px,#8a5d54 288px,#936b58 288px,#d6c680 292px,#f4f092 294px,#fafe98 296px,#b9f186 298px,#83e678 302px,#57dd6c 304px,#35d763 308px,#08ce57 312px,#00cb59 314px,#00b992 316px,#00aac1 318px,#0098f8 320px,#0193fc 322px,#0a80e8 326px,#1072d8 336px,#126fd5 346px,#0c7ce3 358px,#0096ff 368px,#00aeb4 378px,#00b59e 384px,#00bb8a 396px,#00bc87 406px,#00b796 412px,#00a5cf 428px,#0096ff 440px,#058cf4 454px,#0293fb 462px,#0096ff 464px,#00a1dd 470px,#00afb2 488px,#00c373 500px,#00ca5b 510px,#00cc55 516px,#00cc56 540px,#00c861 544px,#00b990 550px,#00b4a2 552px,#009ced 558px,#0097fc 560px,#0096ff 566px,#009ced 578px,#00a4d4 586px,#00a4d2 592px,#00a1dd 598px)"></b><b style="background:linear-gradient(90deg,#2d3394 0px,#293c9e 8px,#214eb1 20px,#1a5cc1 40px,#1e53b7 52px,#2446a9 62px,#2644a6 78px,#2447a9 86px,#1c59bd 92px,#0d79e0 102px,#0292fb 106px,#009ceb 106px,#00c56b 110px,#08ce57 110px,#3cd865 114px,#72e373 118px,#c5f38a 122px,#e5fa92 124px,#effc95 124px,#f4fd96 126px,#f1fc95 128px,#e5fa92 130px,#c6f48a 132px,#56dd6c 140px,#35d763 144px,#1ed25d 146px,#0dcf59 150px,#00cc55 158px,#00be81 166px,#00b69c 168px,#0097fb 176px,#0193fc 176px,#0f74db 184px,#1567cd 194px,#1469cf 202px,#0e78df 212px,#058bf3 218px,#0095fe 220px,#00a1dc 222px,#00b4a1 224px,#00c372 226px,#00cb57 228px,#28d460 232px,#50dc6a 234px,#83e678 238px,#c1f388 240px,#f0fc95 242px,#f9f795 244px,#b89d6e 248px,#956d59 250px,#895d53 250px,#c5b0ab 258px,#e0d5d2 262px,#efe8e7 264px,#f6f3f2 268px,#f6f2f2 270px,#efe8e7 274px,#dacdca 278px,#b59993 282px,#8a5e54 288px,#936a57 288px,#d6c680 292px,#f4ef92 294px,#fbfe98 296px,#baf186 298px,#83e678 302px,#57dd6c 304px,#34d663 308px,#07cd57 312px,#00ca5b 314px,#00b894 316px,#00a9c4 318px,#0097fb 320px,#0292fb 322px,#0a80e7 326px,#1172d8 336px,#126fd5 348px,#0b7ee5 360px,#0194fd 368px,#0096fe 368px,#00aeb5 378px,#00b4a0 384px,#00ba8d 396px,#00bb8a 406px,#00b69b 412px,#00a5cf 428px,#0096ff 440px,#058cf4 454px,#0293fb 462px,#0096ff 464px,#00a1dd 470px,#00afb1 488px,#00c372 500px,#00ca5b 510px,#00cc55 516px,#00cc56 540px,#00c860 544px,#00b98f 550px,#00b4a2 552px,#009ced 558px,#0097fc 560px,#0096fe 566px,#009bee 576px,#00a4d2 586px,#00a5d0 592px,#00a1db 598px)"></b><b style="background:linear-gradient(90deg,#2d3394 0px,#293c9e 8px,#214eb1 20px,#1a5cc1 40px,#1e53b7 52px,#2446a9 62px,#2544a6 80px,#2348ab 86px,#1666cb 96px,#0b7ee5 102px,#0292fb 106px,#009ceb 106px,#00c56b 110px,#08ce57 110px,#3cd865 114px,#72e373 118px,#c6f48a 122px,#e5fa92 124px,#effc95 124px,#f4fd96 126px,#f2fc95 128px,#e5fa92 130px,#c6f48a 132px,#56dd6c 140px,#35d763 144px,#1ed25d 146px,#0dcf58 150px,#00cc55 158px,#00c07a 164px,#00b990 168px,#00aeb5 170px,#0097fb 176px,#0193fc 176px,#0f74da 184px,#1567cc 194px,#1569ce 202px,#0e77de 212px,#068af2 218px,#0194fd 220px,#009af3 220px,#00b2a6 224px,#00c177 226px,#00ca5c 228px,#07cd57 228px,#32d662 232px,#5ddf6e 236px,#94ea7c 238px,#d5f78e 242px,#edfb94 242px,#fbf996 244px,#baa06f 248px,#97705a 250px,#885b51 250px,#c4afaa 258px,#e0d4d2 262px,#eee8e7 264px,#f6f2f2 268px,#f6f2f2 270px,#efe8e7 274px,#dbcdca 278px,#b59a94 282px,#8a5e54 288px,#936a57 288px,#d5c680 292px,#f3ef92 294px,#fbfe98 296px,#baf187 298px,#83e678 302px,#57dd6c 304px,#34d663 308px,#07cd57 312px,#00ca5d 314px,#00b797 316px,#00a8c6 318px,#0097fd 320px,#0a7fe6 326px,#1171d7 338px,#1170d6 348px,#0a80e7 360px,#0194fd 368px,#0097fd 368px,#00abbb 378px,#00b3a4 382px,#00b991 394px,#00ba8d 404px,#00b798 410px,#00a6cc 426px,#0096ff 440px,#058cf4 454px,#0292fb 462px,#0096ff 464px,#00a2da 472px,#00aeb3 486px,#00ba8d 494px,#00c46e 502px,#00ca5a 510px,#00cc55 516px,#00cc55 540px,#00c860 544px,#00ba8f 550px,#00b4a1 552px,#009ced 558px,#0097fc 560px,#0096fe 566px,#009cec 576px,#00a5d0 586px,#00a5ce 592px,#00a3d7 598px,#00a2da 598px)"></b><b style="background:linear-gradient(90deg,#2d3394 0px,#293c9e 8px,#214eb1 20px,#1a5cc1 40px,#1e53b7 52px,#2446a9 62px,#2644a6 80px,#2448ab 86px,#1569ce 98px,#0b7ee5 102px,#0292fb 106px,#009cec 106px,#00c56b 110px,#08ce57 110px,#3cd865 114px,#72e374 118px,#c6f48a 122px,#e6fa92 124px,#f0fc95 124px,#f5fd96 126px,#f2fc96 128px,#e6fa92 130px,#c6f48a 132px,#55dd6c 140px,#34d663 144px,#1ed25d 146px,#0dcf58 150px,#00cc55 158px,#00c179 164px,#00b990 168px,#00aeb4 170px,#0097fb 176px,#0193fc 176px,#1074da 184px,#1567cc 194px,#1568ce 202px,#0e76dd 212px,#0689f1 218px,#0193fc 220px,#0099f7 220px,#00b1aa 224px,#00c07c 226px,#00c862 228px,#05cd56 228px,#30d662 232px,#5bde6d 236px,#91e97c 238px,#d2f68d 242px,#eafb93 242px,#fcfc97 244px,#bca370 248px,#875a50 250px,#c4aea9 258px,#dfd4d1 262px,#eee7e6 264px,#f6f2f1 268px,#f6f2f2 270px,#efe9e7 274px,#dbcdca 278px,#b69a94 282px,#8a5e55 288px,#926957 288px,#d5c57f 292px,#f3ef92 294px,#fbfe98 296px,#baf187 298px,#83e678 302px,#57dd6c 304px,#34d663 308px,#07cd57 312px,#00c95f 314px,#00b699 316px,#00a7c9 318px,#0096ff 320px,#0b7fe6 326px,#1171d7 338px,#1170d6 348px,#0b7ee5 360px,#0195fe 368px,#0097fc 368px,#00abbc 378px,#00b2a6 382px,#00b894 394px,#00b990 404px,#00b69a 410px,#00a6cc 426px,#0096ff 440px,#058cf4 454px,#0292fb 462px,#0095fe 464px,#00a1db 472px,#00aeb2 486px,#00c371 500px,#00ca5b 508px,#00cc55 516px,#00cc55 540px,#00c960 544px,#00ba8e 550px,#00b4a1 552px,#009cec 558px,#0097fc 560px,#0096ff 564px,#009ced 576px,#00a5d0 584px,#00a6cc 590px,#00a4d3 596px,#00a2d8 598px)"></b><b style="background:linear-gradient(90deg,#2d3394 0px,#293c9e 8px,#214eb1 20px,#1a5cc1 40px,#1e55b8 50px,#2446a9 62px,#2643a6 80px,#2448ab 86px,#1569ce 98px,#0b7ee5 102px,#0292fb 106px,#009cec 106px,#00c56c 110px,#08ce57 110px,#3cd865 114px,#73e374 118px,#c6f48a 122px,#e6fa92 124px,#f0fc95 124px,#f5fd96 126px,#f2fc96 128px,#e6fa92 130px,#c6f48a 132px,#55dd6c 140px,#34d663 144px,#1dd25d 146px,#0dcf58 150px,#00cc55 158px,#00c179 164px,#00b98f 168px,#00aeb4 170px,#0097fb 176px,#0193fc 176px,#1074da 184px,#1567cc 194px,#1568cd 202px,#0f75dc 212px,#0787ef 218px,#0292fb 220px,#0097fa 220px,#00b0ae 224px,#00be81 226px,#00c667 228px,#03cd56 228px,#2ed561 232px,#59de6d 236px,#8ee87b 238px,#cff58c 242px,#fefe99 244px,#bea571 248px,#895c51 250px,#987269 252px,#cbb7b3 258px,#e4dbd8 262px,#f1eceb 266px,#f6f3f2 268px,#f4f0ef 272px,#ebe3e2 274px,#d4c5c1 278px,#ad8f88 284px,#8a5f55 288px,#926957 288px,#d5c57f 292px,#f3ee92 294px,#fbfe98 296px,#baf187 298px,#83e678 302px,#57dd6c 304px,#34d663 308px,#06cd57 312px,#00c861 314px,#00b59c 316px,#00a6cb 318px,#009af1 320px,#0095fe 320px,#0b7ee5 326px,#1170d7 338px,#1170d6 348px,#0b7ee5 360px,#0095fe 368px,#009af3 370px,#00abbc 378px,#00b2a7 382px,#00b796 396px,#00b894 406px,#00b3a5 414px,#00a6cd 426px,#0096ff 440px,#058cf4 454px,#0292fb 462px,#0095fe 464px,#00a1db 472px,#00afb1 486px,#00c370 500px,#00ca5a 508px,#00cc55 516px,#00cc55 540px,#00c95f 544px,#00ba8e 550px,#00b4a0 552px,#009cec 558px,#0097fc 560px,#0096ff 564px,#009cec 576px,#00a6ce 584px,#00a7ca 590px,#00a4d2 596px,#00a3d7 598px)"></b><b style="background:linear-gradient(90deg,#2d3394 0px,#293c9e 8px,#214db1 20px,#1a5cc1 40px,#1e55b8 50px,#2546a8 62px,#2643a6 80px,#2448aa 86px,#1569ce 98px,#0b7de5 102px,#0292fa 106px,#009ced 106px,#00c56c 110px,#08ce57 110px,#3cd865 114px,#73e374 118px,#c7f48a 122px,#e6fa92 124px,#f0fc95 124px,#f5fd96 126px,#f3fd96 128px,#e6fa92 130px,#c6f48a 132px,#55dd6c 140px,#34d663 144px,#1dd25d 146px,#0dcf58 150px,#00cc55 158px,#00c178 164px,#00ba8f 168px,#00aeb3 170px,#0097fb 176px,#0193fc 176px,#1074da 184px,#1667cc 194px,#1568cd 202px,#0f74db 212px,#0982e9 216px,#0096fe 220px,#00aeb3 224px,#01cc55 228px,#2cd561 232px,#56dd6c 236px,#8ce87a 238px,#ccf58b 242px,#fdff99 244px,#e1d587 246px,#8b5f52 250px,#8e645b 252px,#cab6b2 258px,#e4dad8 262px,#f1ebea 266px,#f6f3f2 268px,#f4f0ef 272px,#ebe4e2 274px,#d5c5c1 278px,#ae8f88 284px,#8b5f55 288px,#916856 288px,#d5c57f 292px,#f3ee92 294px,#fcfe98 296px,#baf187 298px,#83e678 302px,#56dd6c 304px,#34d663 308px,#06cd56 312px,#00c863 314px,#00b59e 316px,#00a6ce 318px,#009af4 320px,#0194fd 320px,#0a80e7 326px,#1074da 334px,#126ed4 346px,#0f76dc 354px,#0983eb 362px,#0095fe 368px,#00abbc 378px,#00b1a9 382px,#00b799 396px,#00b797 406px,#00b2a7 414px,#00a6cd 426px,#0096ff 440px,#058cf4 454px,#0292fb 462px,#0095fe 464px,#0099f7 466px,#00a1db 472px,#00b0ac 488px,#00c46f 500px,#00cb59 508px,#00cc55 516px,#00cb57 542px,#00c56b 546px,#00b895 552px,#00acb9 554px,#009cec 558px,#0097fc 560px,#0096ff 564px,#009ceb 576px,#00a6cc 584px,#00a7c9 590px,#00a4d3 598px,#00a3d5 598px)"></b><b style="background:linear-gradient(90deg,#2d3394 0px,#293c9e 8px,#214db1 20px,#1a5cc1 40px,#1e55b8 50px,#2446a9 60px,#2643a5 78px,#2446a9 86px,#1c58bc 92px,#0e78df 102px,#0292fa 106px,#009ced 106px,#00b699 108px,#00c56c 110px,#08ce57 110px,#3cd865 114px,#73e374 118px,#c7f48a 122px,#e7fa92 124px,#f1fc95 124px,#f6fd96 126px,#f3fd96 128px,#e6fa92 130px,#c6f48a 132px,#55dd6c 140px,#34d663 144px,#1dd25d 146px,#0dcf58 150px,#00cc55 158px,#00c178 164px,#00ba8e 168px,#00aeb3 170px,#0097fb 176px,#0193fc 176px,#1073da 184px,#1667cc 194px,#1568cd 204px,#0f76dc 214px,#058af2 218px,#0095fe 220px,#00a1dd 222px,#00b4a2 226px,#00c371 228px,#00cc56 228px,#1ed25d 232px,#45da67 234px,#76e474 238px,#b3f085 240px,#fafe98 244px,#f2ee91 244px,#9e7a5e 250px,#8c6153 250px,#8d6359 252px,#c9b5b1 258px,#e4d9d7 262px,#f0ebea 266px,#f6f3f2 268px,#f4f0ef 272px,#ebe4e2 274px,#d5c5c2 278px,#ae9089 284px,#8b5f55 288px,#916856 288px,#d4c47f 292px,#f3ee91 294px,#fcfe98 296px,#bbf187 298px,#83e678 302px,#56dd6c 304px,#34d663 308px,#05cd56 312px,#00c765 314px,#00b4a1 316px,#00a5d0 318px,#0099f6 320px,#0194fc 320px,#0a80e7 326px,#1073da 334px,#126ed4 346px,#0f76dc 354px,#0883eb 362px,#0096ff 368px,#00abbd 378px,#00b0ad 382px,#00b49f 392px,#00b69a 404px,#00b3a4 412px,#00a7ca 426px,#0096ff 440px,#058cf4 454px,#0292fb 462px,#0095fe 464px,#0099f7 466px,#00a1dc 472px,#00b1ab 488px,#00c46f 500px,#00ca5a 508px,#00cc55 514px,#00cb57 542px,#00c56a 546px,#00b895 552px,#00acb8 554px,#009cec 558px,#0097fc 560px,#0096ff 564px,#009cec 574px,#00a6cb 584px,#00a8c6 588px,#00a6cc 596px,#00a4d4 598px)"></b><b style="background:linear-gradient(90deg,#2d3394 0px,#293c9e 8px,#214db1 20px,#1a5cc1 40px,#1e55b8 50px,#2446a9 60px,#2643a5 78px,#2546a8 86px,#1c58bc 92px,#0e78df 102px,#068af2 104px,#0291fa 106px,#009bee 106px,#00b69a 108px,#00c46d 110px,#08ce57 110px,#3cd865 114px,#73e374 118px,#c7f48a 122px,#e7fa93 124px,#f1fc95 124px,#f6fd97 126px,#f3fd96 128px,#e7fa93 130px,#c6f48a 132px,#55dd6c 140px,#34d663 144px,#1dd25d 146px,#0cce58 150px,#00cc55 158px,#00c177 164px,#00ba8e 168px,#00aeb3 170px,#0097fb 176px,#0193fc 176px,#1073da 184px,#1667cc 194px,#1568cd 204px,#0f75db 214px,#0884ec 218px,#0194fd 220px,#009af3 222px,#00abbc 224px,#00b990 226px,#00ca5b 228px,#07cd57 230px,#34d663 234px,#62e06f 236px,#9beb7e 240px,#def890 242px,#f7fd97 244px,#f4f092 244px,#a07d5f 250px,#8e6454 250px,#8c6158 252px,#c9b4b0 258px,#e3d9d6 262px,#f0eae9 266px,#f6f3f2 268px,#f4f0f0 272px,#ebe4e2 274px,#d5c6c2 278px,#ae9089 284px,#8b5f56 288px,#916756 288px,#d4c47f 292px,#f2ee91 294px,#fcfe98 296px,#bbf187 298px,#83e678 302px,#56dd6c 304px,#34d663 308px,#05cd56 312px,#00c666 314px,#00b3a3 316px,#00a4d3 318px,#0098f9 320px,#0193fc 320px,#0b7fe6 326px,#1073d9 334px,#126ed4 346px,#0d79df 356px,#0787ef 362px,#0096ff 368px,#00a9c2 376px,#00afb1 380px,#00b2a6 388px,#00b59d 404px,#00b3a5 410px,#00a7cb 426px,#0096ff 440px,#058cf4 454px,#0292fb 462px,#0097fd 464px,#00a1dc 472px,#00b1a9 488px,#00c46e 500px,#00cb5a 508px,#00cc55 514px,#00cc57 542px,#00c56a 546px,#00b894 552px,#00adb8 554px,#009cec 558px,#0097fc 560px,#0096ff 564px,#009ceb 574px,#00a7c9 584px,#00a8c5 590px,#00a6cd 596px,#00a4d2 598px)"></b><b style="background:linear-gradient(90deg,#2d3394 0px,#283ea0 10px,#214eb2 20px,#1a5cc1 40px,#1e55b8 50px,#2546a8 60px,#2643a5 78px,#2546a8 86px,#1c58bc 92px,#0e78df 102px,#0689f1 104px,#0291fa 106px,#009bee 106px,#00b69a 108px,#00c46d 110px,#08ce57 110px,#3cd865 114px,#73e374 118px,#c7f48a 122px,#e7fa93 124px,#f1fc95 124px,#f6fd97 126px,#f3fd96 128px,#e7fa93 130px,#c6f48a 132px,#54dd6b 140px,#33d663 144px,#1dd25d 146px,#0cce58 150px,#00cc55 158px,#00c177 164px,#00ba8d 168px,#00aeb2 170px,#0097fb 176px,#0193fc 176px,#1073d9 184px,#1666cc 194px,#1567cc 204px,#1074da 214px,#0983ea 218px,#0193fc 220px,#0099f7 222px,#00aac0 224px,#00c07c 228px,#00c861 228px,#05cd56 230px,#25d35f 232px,#4fdc6a 236px,#84e678 238px,#c4f389 242px,#f4fd96 244px,#f6f394 244px,#a27f60 250px,#906756 250px,#8b6056 252px,#c8b3af 258px,#e2d8d5 262px,#f0eae9 266px,#f6f2f1 268px,#f4f0ef 272px,#ebe4e2 274px,#d5c6c2 278px,#ae9089 284px,#8b6056 288px,#916756 288px,#d4c47f 292px,#f2ee91 294px,#fcfe98 296px,#bbf187 298px,#83e678 302px,#56dd6c 304px,#33d663 308px,#04cd56 312px,#00c668 314px,#00b2a6 316px,#00aac0 316px,#0097fb 320px,#0292fb 320px,#0b7ee5 326px,#1073d9 334px,#126ed4 346px,#0e77de 356px,#0884eb 362px,#0194fd 366px,#0096fe 368px,#00a9c2 376px,#00afb2 380px,#00b2a7 388px,#00b4a0 404px,#00b1ab 412px,#00a6cb 426px,#0096ff 440px,#058cf4 454px,#0292fb 462px,#0097fd 464px,#00a1dc 472px,#00b2a8 488px,#00c46d 500px,#00cb59 508px,#01cc55 516px,#00cc56 542px,#00c669 546px,#00b894 552px,#00adb8 554px,#009cec 558px,#0097fc 560px,#0096ff 564px,#009dea 574px,#00a8c7 584px,#00a9c3 590px,#00a6cb 596px,#00a5d1 598px)"></b><b style="background:linear-gradient(90deg,#2d3394 0px,#283ea0 10px,#214eb2 20px,#1a5cc1 40px,#1e54b8 50px,#2546a8 60px,#2643a5 78px,#2546a8 86px,#1c58bc 92px,#0e78de 102px,#0689f1 104px,#0291fa 106px,#009bef 106px,#00b69b 108px,#00c46e 110px,#08ce57 110px,#3cd865 114px,#73e374 118px,#c8f48a 122px,#e7fa93 124px,#f1fc95 124px,#f7fd97 126px,#f4fd96 128px,#e7fa93 130px,#c6f48a 132px,#54dd6b 140px,#33d663 144px,#1cd25d 146px,#0cce58 150px,#00cc55 158px,#00c176 164px,#00ba8d 168px,#00aeb2 170px,#0097fb 176px,#0193fc 176px,#1073d9 184px,#1666cc 194px,#1567cc 204px,#1073d9 214px,#0982e9 218px,#0292fb 220px,#0098fa 222px,#00a9c3 224px,#00bf7f 228px,#00c764 228px,#04cd56 230px,#31d662 234px,#5edf6e 236px,#96ea7d 240px,#d9f78f 242px,#f2fc95 244px,#f8f595 244px,#a48262 250px,#926a57 250px,#8a5e55 252px,#c6b1ac 258px,#e1d5d3 262px,#eee7e6 266px,#f4f0ef 268px,#f3eeed 272px,#eae2e0 274px,#d4c4c0 278px,#ad8e88 284px,#8a5e54 288px,#926a57 288px,#d5c680 292px,#f3ef92 294px,#fbfe98 296px,#b9f186 298px,#82e678 302px,#56dd6c 304px,#33d663 308px,#03cd56 312px,#00c56b 314px,#00b1a9 316px,#00a9c2 316px,#0096fe 320px,#0b7ee5 326px,#1073d9 334px,#126ed4 348px,#0d7ae1 358px,#058bf3 364px,#0194fd 366px,#0097fc 368px,#00a9c2 376px,#00aeb3 380px,#00b2a8 390px,#00b3a4 406px,#00aeb4 416px,#00a6cc 426px,#0096ff 440px,#058cf4 454px,#0292fb 462px,#0097fd 464px,#00a1dd 472px,#00b2a7 488px,#00c46d 500px,#00cb58 508px,#01cc55 516px,#00cc56 542px,#00c669 546px,#00b893 552px,#00adb7 554px,#009cec 558px,#0097fc 560px,#0096ff 564px,#009de9 574px,#00a9c5 584px,#00aac1 590px,#00a7ca 596px,#00a5d0 598px)"></b><b style="background:linear-gradient(90deg,#2d3394 0px,#283ea0 10px,#214eb2 20px,#1a5cc1 40px,#1e54b8 50px,#2545a8 60px,#2643a5 78px,#2545a8 86px,#1c58bc 92px,#0e78de 102px,#0689f1 104px,#0291fa 106px,#009bef 106px,#00b69b 108px,#00c46e 110px,#08ce57 110px,#3cd865 114px,#73e374 118px,#c8f48a 122px,#e8fa93 124px,#f2fc95 124px,#f7fd97 126px,#f4fd96 128px,#e7fa93 130px,#c6f48a 132px,#54dd6b 140px,#33d663 144px,#1cd25d 146px,#0cce58 150px,#00cc55 158px,#00c276 164px,#00bb8c 168px,#00afb2 170px,#0097fb 176px,#0193fb 176px,#1073d9 184px,#1666cb 194px,#1666cc 204px,#1072d8 214px,#0a81e8 218px,#0291fa 220px,#0097fc 222px,#00afb1 226px,#00be82 228px,#00c668 228px,#03cd56 230px,#2fd562 234px,#5cde6e 236px,#94ea7c 240px,#d7f78e 242px,#effc95 244px,#f9f795 244px,#a68563 250px,#956d58 250px,#895d53 252px,#c5afaa 258px,#dfd3d0 262px,#ece5e3 266px,#f2edec 268px,#f1ebea 272px,#e8dfdd 274px,#d2c1be 278px,#ac8c85 284px,#895d53 288px,#956d58 288px,#d7c881 292px,#f5f193 294px,#f9fe97 296px,#b8f186 298px,#81e677 302px,#55dd6c 304px,#29d460 308px,#03cd56 312px,#00c46d 314px,#00b1ab 316px,#00a8c5 316px,#009bee 318px,#0096ff 320px,#0b7de4 326px,#1072d8 334px,#126ed4 348px,#0d7ae1 358px,#058bf3 364px,#0195fe 366px,#0097fb 368px,#00a8c8 376px,#00adb6 380px,#00b0ad 386px,#00b2a6 404px,#00aeb2 414px,#00a6cc 426px,#0096ff 440px,#058cf4 454px,#0193fc 462px,#0096fe 464px,#00a1dd 472px,#00b2a6 488px,#00c56c 500px,#00cb57 508px,#00cc55 540px,#00cb59 542px,#00c276 548px,#00b893 552px,#00adb7 554px,#009cec 558px,#0097fc 560px,#0096fe 564px,#009de8 574px,#00a9c2 584px,#00aac0 590px,#00a7c8 596px,#00a6ce 598px)"></b><b style="background:linear-gradient(90deg,#2d3394 0px,#283ea0 10px,#214eb1 20px,#1a5cc1 40px,#1e54b8 50px,#2545a8 60px,#2642a5 78px,#2545a8 86px,#1c58bc 92px,#0e78de 102px,#0689f1 104px,#0291f9 106px,#009bf0 106px,#00b69c 108px,#00c46e 110px,#08ce57 110px,#3cd865 114px,#74e374 118px,#c8f48a 122px,#e8fa93 124px,#f2fc96 124px,#f7fd97 126px,#f4fd96 128px,#e8fa93 130px,#c7f48a 132px,#54dd6b 140px,#33d662 144px,#1cd25c 146px,#0cce58 150px,#00cc55 158px,#00c276 164px,#00bb8b 168px,#00afb1 170px,#0097fb 176px,#0193fb 176px,#1073d9 184px,#1665cb 194px,#1567cd 206px,#1074da 214px,#058bf3 220px,#0096ff 222px,#00a7c8 224px,#00bc86 228px,#00c56b 228px,#02cc56 230px,#2ed561 234px,#5ade6d 236px,#92e97c 240px,#d5f78e 242px,#edfb94 244px,#fbf996 244px,#a88864 250px,#885b51 252px,#c3ada8 258px,#ddd0ce 262px,#eae2e0 266px,#f0eae9 268px,#efe8e7 272px,#e6ddda 274px,#d0bfbb 278px,#aa8a83 284px,#885b51 288px,#e8df8b 294px,#f6f394 294px,#f6fd97 296px,#b6f086 298px,#80e677 302px,#54dd6b 304px,#28d460 308px,#02cc56 312px,#00c370 314px,#00b0ae 316px,#00a7c8 316px,#009af1 318px,#0195fe 320px,#0a7fe7 324px,#0f76dc 330px,#126ed4 344px,#1171d7 352px,#0a81e8 360px,#0095fe 366px,#009af3 368px,#00a8c7 376px,#00adb7 380px,#00b0ae 388px,#00b1aa 406px,#00acba 416px,#00a6cd 426px,#0096ff 440px,#058cf4 454px,#0193fc 462px,#0096fe 464px,#00a1dd 472px,#00b3a5 488px,#00c46f 500px,#00cb58 506px,#00cc55 512px,#00cc56 542px,#00c668 546px,#00b992 552px,#00adb6 554px,#009ceb 558px,#0097fc 560px,#0096ff 564px,#009af2 570px,#00a0df 576px,#00a9c3 582px,#00abbd 588px,#00a9c3 594px,#00a6cd 598px)"></b><b style="background:linear-gradient(90deg,#2d3394 0px,#283ea0 10px,#204fb2 22px,#1a5cc1 40px,#1e54b8 50px,#2545a8 60px,#2642a5 78px,#2545a8 86px,#1c58bc 92px,#0e77de 102px,#0689f1 104px,#0291f9 106px,#009bf1 106px,#00b59c 108px,#00c46f 110px,#08ce57 110px,#3cd865 114px,#74e374 118px,#c8f48a 122px,#e8fa93 124px,#f2fc96 124px,#f8fe97 126px,#f5fd96 128px,#e8fa93 130px,#c7f48a 132px,#53dd6b 140px,#32d662 144px,#1cd25c 146px,#0cce58 150px,#00cc55 158px,#00c275 164px,#00bb8b 168px,#00afb1 170px,#0097fb 176px,#0293fb 176px,#1072d9 184px,#1665cb 194px,#1567cc 206px,#1073d9 214px,#058af2 220px,#0095fe 222px,#00a0de 224px,#00b4a1 226px,#01cc55 230px,#2cd561 234px,#59de6d 236px,#90e97b 240px,#d2f68d 242px,#eafb94 244px,#fcfb97 244px,#ab8b66 250px,#885b50 252px,#c1aaa5 258px,#dbcecb 262px,#e8dfde 266px,#eee8e6 268px,#ede6e4 272px,#e4dad8 274px,#cfbdb9 278px,#a98981 284px,#885b50 288px,#dacc83 292px,#f8f594 294px,#f4fd96 296px,#b5f085 298px,#7fe577 302px,#53dd6b 304px,#27d460 308px,#01cc55 312px,#00afb1 316px,#00a7cb 316px,#009af4 318px,#0194fd 320px,#0b7fe6 324px,#0f75dc 330px,#126ed4 344px,#1072d8 352px,#0a81e8 360px,#0095fe 366px,#00a8c7 376px,#00adb8 380px,#00afb0 390px,#00b0ae 406px,#00a9c4 422px,#00a3d8 428px,#0096ff 440px,#058cf4 454px,#0193fc 462px,#0096fe 464px,#00a1de 472px,#00b3a4 488px,#00c46f 500px,#00cb58 506px,#01cc55 516px,#00cc55 542px,#00c668 546px,#00b991 552px,#00adb6 554px,#009ceb 558px,#0097fc 560px,#0096ff 564px,#009af1 570px,#00a1dd 576px,#00aac1 582px,#00abbb 588px,#00aac1 594px,#00a6cb 598px)"></b><b style="background:linear-gradient(90deg,#2d3394 0px,#283ea0 10px,#204fb2 22px,#1a5cc1 40px,#1e54b8 50px,#2545a8 60px,#2642a4 78px,#2545a8 86px,#1c57bc 92px,#0e77de 102px,#0689f1 104px,#0390f9 106px,#009af1 106px,#00b59d 108px,#00c46f 110px,#08ce57 110px,#3dd865 114px,#74e374 118px,#c9f48a 122px,#e9fb93 124px,#f3fd96 124px,#f8fe97 126px,#f5fd96 128px,#e8fa93 130px,#c7f48a 132px,#53dd6b 140px,#32d662 144px,#1cd25c 146px,#0cce58 150px,#00cc55 158px,#00c275 164px,#00bb8a 168px,#00afb0 170px,#0097fb 176px,#0293fb 176px,#1072d8 184px,#1665ca 194px,#1666cc 206px,#1072d8 214px,#0689f1 220px,#0194fd 222px,#009af2 222px,#00acba 226px,#00ba8c 228px,#00cc56 230px,#1fd25d 232px,#47da68 236px,#7be576 238px,#b9f186 242px,#fefd98 244px,#ad8e67 250px,#8a5e52 252px,#8e645b 252px,#c0a8a3 258px,#d9cbc8 262px,#e6dddb 266px,#ece5e3 268px,#ebe3e1 272px,#e2d7d5 274px,#cdbab6 278px,#a7877f 284px,#8e645a 286px,#8a5e52 288px,#dccf84 292px,#f9f795 294px,#f2fc96 296px,#b3f085 298px,#7ee576 302px,#52dc6b 304px,#27d45f 308px,#01cc55 312px,#00aeb4 316px,#00a6ce 316px,#0099f6 318px,#0193fc 320px,#0b7ee5 324px,#0f75db 330px,#126ed4 344px,#1072d8 352px,#0981e9 360px,#0096ff 366px,#00a6cc 374px,#00acb9 380px,#00afb1 394px,#00afb1 408px,#00a7c9 424px,#0096fe 440px,#058cf4 454px,#0193fc 462px,#0096ff 464px,#00a2da 472px,#00b3a2 488px,#00c46e 500px,#00cb57 506px,#00cc55 542px,#00c668 546px,#00b991 552px,#00adb5 554px,#009ceb 558px,#0097fc 560px,#0096ff 564px,#009af3 570px,#00a0e0 576px,#00abbe 582px,#00acba 588px,#00aabf 594px,#00a7ca 598px)"></b><b style="background:linear-gradient(90deg,#2d3394 0px,#283ea0 10px,#204fb2 22px,#1a5cc1 40px,#1e54b8 50px,#2545a7 60px,#2642a4 78px,#2545a7 86px,#1d57bb 92px,#0e77de 102px,#0688f0 104px,#0390f9 106px,#009af2 106px,#00b59d 108px,#00c46f 110px,#08ce57 110px,#3dd865 114px,#74e374 118px,#c9f48b 122px,#e9fb93 124px,#f3fd96 124px,#f8fe97 126px,#f5fd96 128px,#e8fa93 130px,#c7f48a 132px,#53dd6b 140px,#32d662 144px,#1bd15c 146px,#0cce58 150px,#00cc55 158px,#00c274 164px,#00bb8a 168px,#00afb0 170px,#0097fb 176px,#0293fb 176px,#1072d8 184px,#1665ca 194px,#1666cb 206px,#1171d7 214px,#0688f0 220px,#0194fc 222px,#0099f5 222px,#00abbd 226px,#00b990 228px,#00cb5a 230px,#08ce57 230px,#2ad460 234px,#55dd6c 236px,#8ce87a 240px,#cef58c 242px,#feff99 244px,#c0a873 248px,#8c6253 252px,#8d6259 252px,#bea6a0 258px,#d8c9c5 262px,#e4dad8 266px,#eae2e1 268px,#e9e0df 272px,#e0d5d2 274px,#cbb8b4 278px,#a6857d 284px,#8d6259 286px,#8c6153 288px,#ddd185 292px,#faf996 294px,#f0fc95 296px,#b2f084 298px,#7ce576 302px,#51dc6b 304px,#26d45f 308px,#00cc55 312px,#00b799 314px,#00adb7 316px,#00a5d1 316px,#0098f9 318px,#0292fb 320px,#0b7de5 324px,#0f74db 330px,#126ed3 346px,#1073da 354px,#0981e9 360px,#0096fe 366px,#00a6cc 374px,#00acb9 380px,#00aeb3 400px,#00adb8 412px,#00a6cc 424px,#0096fe 440px,#058cf4 454px,#0193fc 462px,#0096ff 464px,#00a2db 472px,#00b4a1 488px,#00c46d 500px,#00cc56 506px,#00cc55 542px,#00c667 546px,#00b990 552px,#00adb5 554px,#009ceb 558px,#0097fc 560px,#0096ff 564px,#009af3 570px,#00a0df 576px,#00abbc 582px,#00adb8 586px,#00abbe 594px,#00a7c8 598px)"></b><b style="background:linear-gradient(90deg,#2d3394 0px,#283ea0 10px,#204fb2 22px,#1a5cc1 40px,#1e54b8 50px,#2545a7 60px,#2642a4 78px,#2545a7 86px,#1d57bb 92px,#0e77dd 102px,#0688f0 104px,#0390f9 106px,#009af2 106px,#00b59e 108px,#00c470 110px,#08ce57 110px,#3dd865 114px,#74e374 118px,#c9f48b 122px,#e9fb93 124px,#f3fd96 124px,#f8fe97 126px,#f6fd97 128px,#e9fb93 130px,#c7f48a 132px,#53dd6b 140px,#32d662 144px,#1bd15c 146px,#0bce58 150px,#00cc55 158px,#00c46e 164px,#00bb89 168px,#00afb0 170px,#0097fb 176px,#0293fb 176px,#0f75dc 182px,#136bd1 188px,#1764c9 198px,#146acf 210px,#1073da 216px,#0193fc 222px,#0098f8 222px,#00aac0 226px,#00b893 228px,#00c95d 230px,#07cd57 230px,#28d460 234px,#54dd6b 236px,#8ae87a 240px,#cbf58b 242px,#fcfe98 244px,#f2ed91 246px,#a07c5f 250px,#8f6555 252px,#8c6057 252px,#bca49e 258px,#d6c6c3 262px,#e2d8d5 266px,#e8e0de 268px,#e7dedc 272px,#ded2cf 274px,#cab5b1 278px,#a5837b 284px,#8c6057 286px,#8f6455 288px,#dfd386 292px,#fcfa97 294px,#eefc94 296px,#b0ef84 298px,#7be576 302px,#50dc6a 304px,#26d45f 308px,#00cb57 312px,#00b69b 314px,#00acba 316px,#00a4d3 316px,#0097fc 318px,#0292fa 320px,#0b7de4 324px,#1074da 330px,#126ed3 346px,#0f75db 354px,#0981e9 360px,#0194fc 366px,#0097fd 366px,#00a6cc 374px,#00abbc 378px,#00adb8 386px,#00adb8 408px,#00a7ca 424px,#0095fe 440px,#058cf4 454px,#0193fc 462px,#0096ff 464px,#00a3d7 474px,#00b4a0 488px,#00c370 498px,#00cc55 506px,#00cc55 542px,#00c667 546px,#00b990 552px,#00aeb5 554px,#009ceb 558px,#0097fc 560px,#0096ff 564px,#009af2 570px,#00a1de 576px,#00acba 582px,#00adb6 586px,#00abbc 594px,#00a8c7 598px)"></b><b style="background:linear-gradient(90deg,#2d3394 0px,#283ea0 10px,#204fb2 22px,#1a5cc1 40px,#1e54b8 50px,#2545a7 60px,#2642a4 80px,#2446a9 86px,#146bd0 98px,#0981e9 104px,#0390f9 106px,#009af3 106px,#00b59e 108px,#00c370 110px,#08ce57 110px,#3dd865 114px,#74e374 118px,#c9f48b 122px,#eafb93 124px,#f4fd96 124px,#f9fe97 126px,#f6fd97 128px,#e9fb93 130px,#c7f48a 132px,#52dc6b 140px,#31d662 144px,#1bd15c 146px,#0bce58 150px,#00cc55 158px,#00c46d 164px,#00bc89 168px,#00afaf 170px,#0097fb 176px,#0293fb 176px,#0f75dc 182px,#136bd1 188px,#1763c8 200px,#146ad0 212px,#1072d9 216px,#0292fb 222px,#0097fa 222px,#00a9c3 226px,#00b796 228px,#00c861 230px,#06cd56 230px,#27d45f 234px,#52dc6b 236px,#88e779 240px,#c9f48b 242px,#f9fe97 244px,#f3ef92 246px,#a28061 250px,#916856 252px,#8a5f55 252px,#bba19c 258px,#d4c4c0 262px,#e0d5d2 266px,#e6dddb 268px,#e5dbd9 272px,#dcd0cd 274px,#c8b3af 278px,#a38179 284px,#8a5f55 286px,#916856 288px,#e1d587 292px,#fdfc98 294px,#ecfb94 296px,#aeef84 298px,#7ae476 302px,#50dc6a 304px,#25d35f 308px,#09ce57 312px,#00cb59 312px,#00b59e 314px,#00abbc 316px,#00a3d6 316px,#0096fe 318px,#0c7ce3 324px,#1073da 330px,#126ed3 348px,#0e77dd 356px,#0885ed 362px,#0194fd 366px,#0097fc 366px,#00a5d0 374px,#00abbd 378px,#00acba 386px,#00abbb 410px,#00a6cd 424px,#0095fe 440px,#058cf4 454px,#0193fc 462px,#0096ff 464px,#00a4d4 474px,#00b69a 488px,#00c56c 500px,#00cb57 506px,#00cc55 542px,#00c666 546px,#00b98f 552px,#00aeb4 554px,#009ceb 558px,#0097fc 560px,#0096ff 564px,#009af2 570px,#00a1dc 576px,#00acbb 582px,#00aeb4 584px,#00acb9 594px,#00a8c5 598px)"></b><b style="height:1px;background:linear-gradient(90deg,#2d3394 0px,#283ea0 10px,#204fb2 22px,#1a5cc1 40px,#1e54b8 50px,#2544a7 60px,#2642a4 80px,#2446a9 86px,#146bd0 98px,#0981e9 104px,#0390f8 106px,#009af3 106px,#00b59e 108px,#00c370 110px,#08ce57 110px,#3dd865 114px,#74e374 118px,#c9f48b 122px,#eafb93 124px,#f4fd96 124px,#f9fe97 126px,#f6fd97 128px,#e9fb93 130px,#c7f48a 132px,#52dc6b 140px,#31d662 144px,#1bd15c 146px,#0bce58 150px,#00cc55 158px,#00c46d 164px,#00be80 166px,#00b894 168px,#00a6ce 172px,#0097fb 176px,#0293fb 176px,#0f75dc 182px,#136bd1 188px,#1763c8 200px,#146acf 212px,#1072d8 216px,#0292fb 222px,#0097fb 222px,#00a9c4 226px,#00b797 228px,#00c862 230px,#05cd56 230px,#26d45f 234px,#52dc6b 236px,#88e779 240px,#c8f48a 242px,#f9fe97 244px,#f4f092 246px,#926957 252px,#8a5e55 252px,#baa19b 258px,#d3c3bf 262px,#e0d4d2 266px,#e6dcda 268px,#e4dad8 272px,#dccfcc 274px,#c7b3ae 278px,#a38079 284px,#8a5e55 286px,#916856 288px,#e1d687 292px,#fdfd98 294px,#9ceb7f 300px,#6be171 302px,#43d967 306px,#09ce57 312px,#00cb5a 312px,#00b59f 314px,#00abbd 316px,#00a3d7 316px,#0096ff 318px,#0c7ce3 324px,#1073da 330px,#126dd3 348px,#0e77dd 356px,#0885ed 362px,#0194fd 366px,#0097fc 366px,#00a5d0 374px,#00abbd 378px,#00acba 386px,#00abbd 410px,#00a6cd 424px,#0095fe 440px,#058cf4 454px,#0193fc 462px,#0096ff 464px,#00a4d4 474px,#00b69a 488px,#00c470 498px,#00cc56 506px,#00cc55 542px,#00c666 546px,#00ba8f 552px,#00aeb4 554px,#009ceb 558px,#0097fc 560px,#0096ff 564px,#009af2 570px,#00a1dc 576px,#00acbb 582px,#00aeb4 584px,#00acb8 594px,#00a8c5 598px)"></b></div><svg width="1496" height="641" viewBox="0 0 1496 641" font-family="Liberation Sans, sans-serif"><defs><linearGradient id="cb"><stop offset="0" stop-color="rgb(46,49,146)"/><stop offset="0.1" stop-color="rgb(0,150,255)"/><stop offset="0.15" stop-color="rgb(0,204,85)"/><stop offset="0.4" stop-color="rgb(255,255,153)"/><stop offset="0.6" stop-color="rgb(135,90,80)"/><stop offset="1" stop-color="rgb(255,255,255)"/></linearGradient></defs><rect x="178.5" y="36" width="441.5" height="34" fill="url(#cb)"/><path d="M149.8,554.0C149.9,510.0 150.1,333.8 150.1,289.8" stroke="#8b8b8b" stroke-width="3.6" fill="none" stroke-dasharray="13.2 10.2"/><path d="M229.0,553.0C228.4,529.5 226.9,457.1 225.7,412.2C224.5,367.2 222.4,304.8 221.7,283.3" stroke="#8b8b8b" stroke-width="3.6" fill="none" stroke-dasharray="13.2 10.2"/><path d="M368.6,550.4C368.3,545.4 367.6,533.3 366.8,520.5C366.1,507.7 365.1,489.1 364.1,473.5C363.1,457.9 361.8,442.6 360.6,427.0C359.4,411.4 358.1,391.7 356.8,380.0C355.5,368.3 355.6,373.5 353.0,357.0C350.4,340.5 343.2,293.8 341.2,281.2" stroke="#8b8b8b" stroke-width="3.6" fill="none" stroke-dasharray="13.2 10.2"/><path d="M511.3,550.5C510.4,546.2 508.4,536.5 506.1,524.7C503.8,512.9 500.3,494.8 497.4,479.8C494.5,464.9 491.6,448.3 488.7,435.0C485.8,421.7 485.2,418.8 480.0,400.0C474.8,381.2 465.1,344.0 457.4,322.3C449.7,300.6 437.6,278.7 433.7,270.0" stroke="#8b8b8b" stroke-width="3.6" fill="none" stroke-dasharray="13.2 10.2"/><path d="M643.6,553.5C641.0,544.4 633.5,516.5 628.0,498.6C622.5,480.7 617.1,463.7 610.6,446.2C604.1,428.7 597.5,412.6 588.7,393.7C580.0,374.8 569.0,349.6 558.1,332.5C547.2,315.4 528.9,297.8 523.1,290.9" stroke="#8b8b8b" stroke-width="3.6" fill="none" stroke-dasharray="13.2 10.2"/><rect x="99.4" y="81.4" width="600.8" height="476" fill="none" stroke="#000" stroke-width="2.8"/><path d="M134.10,557.5V551.00M171.80,557.5V544.50M209.50,557.5V551.00M247.20,557.5V544.50M284.90,557.5V551.00M322.60,557.5V544.50M360.30,557.5V551.00M398.00,557.5V544.50M435.70,557.5V551.00M473.40,557.5V544.50M511.10,557.5V551.00M548.80,557.5V544.50M586.50,557.5V551.00M624.20,557.5V544.50M661.90,557.5V551.00M99.4,516.50H105.90M99.4,475.50H112.40M99.4,434.50H105.90M99.4,393.50H112.40M99.4,352.50H105.90M99.4,311.50H112.40M99.4,270.50H105.90M99.4,229.50H112.40M99.4,188.50H105.90M99.4,147.50H112.40M99.4,106.50H105.90" stroke="#000" stroke-width="2.6" fill="none"/><text x="172.1" y="595" font-size="28" text-anchor="middle" >10</text><text x="247.5" y="595" font-size="28" text-anchor="middle" >20</text><text x="322.9" y="595" font-size="28" text-anchor="middle" >30</text><text x="398.3" y="595" font-size="28" text-anchor="middle" >40</text><text x="473.7" y="595" font-size="28" text-anchor="middle" >50</text><text x="549.1" y="595" font-size="28" text-anchor="middle" >60</text><text x="624.5" y="595" font-size="28" text-anchor="middle" >70</text><text x="699.9" y="595" font-size="28" text-anchor="middle" >80</text><text x="83" y="565.7" font-size="28" text-anchor="end" >100</text><text x="83" y="483.7" font-size="28" text-anchor="end" >150</text><text x="83" y="401.7" font-size="28" text-anchor="end" >200</text><text x="83" y="319.7" font-size="28" text-anchor="end" >250</text><text x="83" y="237.7" font-size="28" text-anchor="end" >300</text><text x="83" y="155.7" font-size="28" text-anchor="end" >350</text><text x="399.6" y="634.5" font-size="28" text-anchor="middle" >Energy tranfer (meV)</text><text transform="translate(20.7,318.5) rotate(-90)" font-size="28" text-anchor="middle"><tspan font-style="italic">T</tspan> (K)</text><text x="236.2" y="24.3" font-size="28" text-anchor="start" >Phonon DOSs (arb. units)</text><text x="135.8" y="64.3" font-size="28" text-anchor="start" >5</text><text x="640.2" y="64.3" font-size="28" text-anchor="start" >1560</text><text transform="translate(-0.9,40.6) scale(0.865,1)" font-size="57" font-weight="bold">a</text><text x="143.1" y="278.3" font-size="28" text-anchor="start" >A</text><text x="210.9" y="261.1" font-size="29.5">O<tspan font-size="20" dx="-1.3" dy="7">I</tspan></text><text x="326.2" y="262.6" font-size="29.5">O<tspan font-size="20" dx="-1.3" dy="7">II</tspan></text><text x="423.5" y="257.3" font-size="29.5">O<tspan font-size="20" dx="-1.3" dy="7" letter-spacing="-0.8">III</tspan></text><text x="504.6" y="274.3" font-size="29.5">O<tspan font-size="20" dx="-1.3" dy="7">IV</tspan></text><text x="753.2" y="40" font-size="54" font-weight="bold">b</text><path d="M881.7,12V556.6H1481.3V12H881.7" stroke="#000" stroke-width="2.5" fill="none"/><path d="M956.30,556.6V549.60M1031.30,556.6V542.60M1106.30,556.6V549.60M1181.30,556.6V542.60M1256.30,556.6V549.60M1331.30,556.6V542.60M1406.30,556.6V549.60M881.7,517.50H887.20M881.7,478.60H893.70M881.7,439.70H887.20M881.7,400.80H893.70M881.7,361.90H887.20M881.7,323.00H893.70M881.7,284.10H887.20M881.7,245.20H893.70M881.7,206.30H887.20M881.7,167.40H893.70M881.7,128.50H887.20M881.7,89.60H893.70M881.7,50.70H887.20" stroke="#000" stroke-width="2.5" fill="none"/><text x="881.6" y="595" font-size="28" text-anchor="middle" >0</text><text x="1031.6" y="595" font-size="28" text-anchor="middle" >20</text><text x="1181.6" y="595" font-size="28" text-anchor="middle" >40</text><text x="1331.6" y="595" font-size="28" text-anchor="middle" >60</text><text x="1481.6" y="595" font-size="28" text-anchor="middle" >80</text><text x="864" y="565" font-size="28" text-anchor="end" >0</text><text x="864" y="487.2" font-size="28" text-anchor="end" >200</text><text x="864" y="409.4" font-size="28" text-anchor="end" >400</text><text x="864" y="331.6" font-size="28" text-anchor="end" >600</text><text x="864" y="253.8" font-size="28" text-anchor="end" >800</text><text x="864" y="176" font-size="28" text-anchor="end" >1000</text><text x="864" y="98.2" font-size="28" text-anchor="end" >1200</text><text x="864" y="20.4" font-size="28" text-anchor="end" >1400</text><text x="1181.1" y="634.2" font-size="28" text-anchor="middle" >Energy tranfer (meV)</text><text transform="translate(788.4,284.5) rotate(-90)" font-size="28" text-anchor="middle">Phonon DOS (arb. units)</text><defs><clipPath id="cpb"><rect x="882" y="0" width="599.3" height="556"/></clipPath></defs><g clip-path="url(#cpb)"><g fill="#0098ff"><path d="M881.3,556.4 L883.8,556.2 L886.8,555.7 L889.8,555.0 L892.8,553.8 L895.8,552.4 L898.8,550.7 L901.8,548.7 L904.8,546.6 L907.8,544.4 L910.8,542.2 L913.8,540.1 L916.8,538.1 L919.8,537.1 L922.8,536.6 L925.8,536.2 L928.8,535.9 L931.8,535.5 L934.8,534.5 L937.8,533.7 L940.8,535.9 L943.8,539.1 L946.8,542.0 L949.8,544.0 L952.8,545.3 L955.8,545.4 L958.8,544.8 L961.8,544.1 L964.8,542.9 L967.8,541.4 L970.8,539.0 L973.8,535.7 L976.8,532.2 L979.8,528.2 L982.8,522.0 L985.8,511.1 L988.8,495.8 L991.8,470.9 L994.8,447.7 L997.8,407.2 L1000.8,371.3 L1003.8,357.3 L1006.8,353.8 L1009.8,353.7 L1012.8,358.6 L1015.8,367.9 L1018.8,378.9 L1021.8,396.2 L1024.8,412.3 L1027.8,428.8 L1030.8,441.0 L1033.8,452.9 L1036.8,460.5 L1039.8,466.7 L1042.8,472.0 L1045.8,476.6 L1048.8,480.7 L1051.8,484.8 L1054.8,488.8 L1057.8,492.7 L1060.8,496.7 L1063.8,500.7 L1066.8,503.5 L1069.8,505.9 L1072.8,507.6 L1075.8,508.1 L1078.8,507.1 L1081.8,505.2 L1084.8,502.6 L1087.8,498.3 L1090.8,492.9 L1093.8,485.7 L1096.8,477.4 L1099.8,468.2 L1102.8,457.2 L1105.8,443.3 L1108.8,428.7 L1111.8,416.4 L1114.8,390.7 L1117.8,359.5 L1120.8,327.0 L1123.8,300.3 L1126.8,273.8 L1129.8,228.9 L1132.8,182.0 L1135.8,147.2 L1138.8,114.9 L1141.8,92.9 L1144.9,84.0 L1148.1,81.9 L1151.3,85.5 L1154.5,106.0 L1157.8,141.6 L1161.2,179.3 L1164.6,219.8 L1168.1,259.7 L1171.6,304.7 L1175.2,342.9 L1178.9,380.5 L1182.6,411.7 L1186.5,434.9 L1190.3,454.0 L1194.3,469.9 L1198.3,481.1 L1202.4,488.2 L1206.5,493.3 L1210.8,496.5 L1215.1,499.2 L1219.5,500.9 L1224.0,501.1 L1228.6,500.3 L1233.2,498.6 L1238.0,494.9 L1242.8,491.0 L1247.8,487.7 L1252.8,483.7 L1258.0,479.1 L1263.2,474.2 L1268.5,470.9 L1274.0,469.5 L1279.6,469.5 L1285.2,471.6 L1291.0,473.7 L1297.0,476.3 L1303.0,479.5 L1309.2,482.7 L1315.5,485.5 L1321.9,487.5 L1328.5,488.7 L1335.2,489.1 L1342.1,488.4 L1349.1,487.4 L1356.3,486.0 L1363.6,484.3 L1371.1,482.1 L1378.8,479.5 L1386.6,477.8 L1394.6,477.8 L1402.9,477.8 L1411.3,478.0 L1419.9,479.4 L1428.7,481.9 L1437.7,484.9 L1446.9,490.0 L1456.4,497.1 L1466.1,500.9 L1476.0,503.7 L1486.2,509.6" stroke="#0098ff" stroke-width="3.4" fill="none" stroke-linejoin="round"/><rect x="876.8" y="551.9" width="9" height="9"/><rect x="879.3" y="551.7" width="9" height="9"/><rect x="882.3" y="551.2" width="9" height="9"/><rect x="885.3" y="550.5" width="9" height="9"/><rect x="888.3" y="549.3" width="9" height="9"/><rect x="891.3" y="547.9" width="9" height="9"/><rect x="894.3" y="546.2" width="9" height="9"/><rect x="897.3" y="544.2" width="9" height="9"/><rect x="900.3" y="542.1" width="9" height="9"/><rect x="903.3" y="539.9" width="9" height="9"/><rect x="906.3" y="537.7" width="9" height="9"/><rect x="909.3" y="535.6" width="9" height="9"/><rect x="912.3" y="533.6" width="9" height="9"/><rect x="915.3" y="532.6" width="9" height="9"/><rect x="918.3" y="532.1" width="9" height="9"/><rect x="921.3" y="531.7" width="9" height="9"/><rect x="924.3" y="531.4" width="9" height="9"/><rect x="927.3" y="531.0" width="9" height="9"/><rect x="930.3" y="530.0" width="9" height="9"/><rect x="933.3" y="529.2" width="9" height="9"/><rect x="936.3" y="531.4" width="9" height="9"/><rect x="939.3" y="534.6" width="9" height="9"/><rect x="942.3" y="537.5" width="9" height="9"/><rect x="945.3" y="539.5" width="9" height="9"/><rect x="948.3" y="540.8" width="9" height="9"/><rect x="951.3" y="540.9" width="9" height="9"/><rect x="954.3" y="540.3" width="9" height="9"/><rect x="957.3" y="539.6" width="9" height="9"/><rect x="960.3" y="538.4" width="9" height="9"/><rect x="963.3" y="536.9" width="9" height="9"/><rect x="966.3" y="534.5" width="9" height="9"/><rect x="969.3" y="531.2" width="9" height="9"/><rect x="972.3" y="527.7" width="9" height="9"/><rect x="975.3" y="523.7" width="9" height="9"/><rect x="978.3" y="517.5" width="9" height="9"/><rect x="981.3" y="506.6" width="9" height="9"/><rect x="984.3" y="491.3" width="9" height="9"/><rect x="987.3" y="466.4" width="9" height="9"/><rect x="990.3" y="443.2" width="9" height="9"/><rect x="993.3" y="402.7" width="9" height="9"/><rect x="996.3" y="366.8" width="9" height="9"/><rect x="999.3" y="352.8" width="9" height="9"/><rect x="1002.3" y="349.3" width="9" height="9"/><rect x="1005.3" y="349.2" width="9" height="9"/><rect x="1008.3" y="354.1" width="9" height="9"/><rect x="1011.3" y="363.4" width="9" height="9"/><rect x="1014.3" y="374.4" width="9" height="9"/><rect x="1017.3" y="391.7" width="9" height="9"/><rect x="1020.3" y="407.8" width="9" height="9"/><rect x="1023.3" y="424.3" width="9" height="9"/><rect x="1026.3" y="436.5" width="9" height="9"/><rect x="1029.3" y="448.4" width="9" height="9"/><rect x="1032.3" y="456.0" width="9" height="9"/><rect x="1035.3" y="462.2" width="9" height="9"/><rect x="1038.3" y="467.5" width="9" height="9"/><rect x="1041.3" y="472.1" width="9" height="9"/><rect x="1044.3" y="476.2" width="9" height="9"/><rect x="1047.3" y="480.3" width="9" height="9"/><rect x="1050.3" y="484.3" width="9" height="9"/><rect x="1053.3" y="488.2" width="9" height="9"/><rect x="1056.3" y="492.2" width="9" height="9"/><rect x="1059.3" y="496.2" width="9" height="9"/><rect x="1062.3" y="499.0" width="9" height="9"/><rect x="1065.3" y="501.4" width="9" height="9"/><rect x="1068.3" y="503.1" width="9" height="9"/><rect x="1071.3" y="503.6" width="9" height="9"/><rect x="1074.3" y="502.6" width="9" height="9"/><rect x="1077.3" y="500.7" width="9" height="9"/><rect x="1080.3" y="498.1" width="9" height="9"/><rect x="1083.3" y="493.8" width="9" height="9"/><rect x="1086.3" y="488.4" width="9" height="9"/><rect x="1089.3" y="481.2" width="9" height="9"/><rect x="1092.3" y="472.9" width="9" height="9"/><rect x="1095.3" y="463.7" width="9" height="9"/><rect x="1098.3" y="452.7" width="9" height="9"/><rect x="1101.3" y="438.8" width="9" height="9"/><rect x="1104.3" y="424.2" width="9" height="9"/><rect x="1107.3" y="411.9" width="9" height="9"/><rect x="1110.3" y="386.2" width="9" height="9"/><rect x="1113.3" y="355.0" width="9" height="9"/><rect x="1116.3" y="322.5" width="9" height="9"/><rect x="1119.3" y="295.8" width="9" height="9"/><rect x="1122.3" y="269.3" width="9" height="9"/><rect x="1125.3" y="224.4" width="9" height="9"/><rect x="1128.3" y="177.5" width="9" height="9"/><rect x="1131.3" y="142.7" width="9" height="9"/><rect x="1134.3" y="110.4" width="9" height="9"/><rect x="1137.3" y="88.4" width="9" height="9"/><rect x="1140.4" y="79.5" width="9" height="9"/><rect x="1143.6" y="77.4" width="9" height="9"/><rect x="1146.8" y="81.0" width="9" height="9"/><rect x="1150.0" y="101.5" width="9" height="9"/><rect x="1153.3" y="137.1" width="9" height="9"/><rect x="1156.7" y="174.8" width="9" height="9"/><rect x="1160.1" y="215.3" width="9" height="9"/><rect x="1163.6" y="255.2" width="9" height="9"/><rect x="1167.1" y="300.2" width="9" height="9"/><rect x="1170.7" y="338.4" width="9" height="9"/><rect x="1174.4" y="376.0" width="9" height="9"/><rect x="1178.1" y="407.2" width="9" height="9"/><rect x="1182.0" y="430.4" width="9" height="9"/><rect x="1185.8" y="449.5" width="9" height="9"/><rect x="1189.8" y="465.4" width="9" height="9"/><rect x="1193.8" y="476.6" width="9" height="9"/><rect x="1197.9" y="483.7" width="9" height="9"/><rect x="1202.0" y="488.8" width="9" height="9"/><rect x="1206.3" y="492.0" width="9" height="9"/><rect x="1210.6" y="494.7" width="9" height="9"/><rect x="1215.0" y="496.4" width="9" height="9"/><rect x="1219.5" y="496.6" width="9" height="9"/><rect x="1224.1" y="495.8" width="9" height="9"/><rect x="1228.7" y="494.1" width="9" height="9"/><rect x="1233.5" y="490.4" width="9" height="9"/><rect x="1238.3" y="486.5" width="9" height="9"/><rect x="1243.3" y="483.2" width="9" height="9"/><rect x="1248.3" y="479.2" width="9" height="9"/><rect x="1253.5" y="474.6" width="9" height="9"/><rect x="1258.7" y="469.7" width="9" height="9"/><rect x="1264.0" y="466.4" width="9" height="9"/><rect x="1269.5" y="465.0" width="9" height="9"/><rect x="1275.1" y="465.0" width="9" height="9"/><rect x="1280.7" y="467.1" width="9" height="9"/><rect x="1286.5" y="469.2" width="9" height="9"/><rect x="1292.5" y="471.8" width="9" height="9"/><rect x="1298.5" y="475.0" width="9" height="9"/><rect x="1304.7" y="478.2" width="9" height="9"/><rect x="1311.0" y="481.0" width="9" height="9"/><rect x="1317.4" y="483.0" width="9" height="9"/><rect x="1324.0" y="484.2" width="9" height="9"/><rect x="1330.7" y="484.6" width="9" height="9"/><rect x="1337.6" y="483.9" width="9" height="9"/><rect x="1344.6" y="482.9" width="9" height="9"/><rect x="1351.8" y="481.5" width="9" height="9"/><rect x="1359.1" y="479.8" width="9" height="9"/><rect x="1366.6" y="477.6" width="9" height="9"/><rect x="1374.3" y="475.0" width="9" height="9"/><rect x="1382.1" y="473.3" width="9" height="9"/><rect x="1390.1" y="473.3" width="9" height="9"/><rect x="1398.4" y="473.3" width="9" height="9"/><rect x="1406.8" y="473.5" width="9" height="9"/><rect x="1415.4" y="474.9" width="9" height="9"/><rect x="1424.2" y="477.4" width="9" height="9"/><rect x="1433.2" y="480.4" width="9" height="9"/><rect x="1442.4" y="485.5" width="9" height="9"/><rect x="1451.9" y="492.6" width="9" height="9"/><rect x="1461.6" y="496.4" width="9" height="9"/><rect x="1471.5" y="499.2" width="9" height="9"/><rect x="1481.7" y="505.1" width="9" height="9"/></g><g fill="#ffbf17"><path d="M881.3,556.4 L883.8,553.8 L886.8,551.3 L889.8,549.2 L892.8,547.2 L895.8,545.3 L898.8,543.6 L901.8,541.8 L904.8,540.0 L907.8,538.2 L910.8,536.4 L913.8,534.8 L916.8,533.3 L919.8,532.2 L922.8,531.4 L925.8,530.5 L928.8,529.1 L931.8,527.4 L934.8,526.0 L937.8,524.9 L940.8,525.0 L943.8,525.2 L946.8,525.2 L949.8,524.5 L952.8,523.4 L955.8,522.2 L958.8,520.5 L961.8,518.3 L964.8,515.7 L967.8,512.3 L970.8,508.2 L973.8,502.7 L976.8,495.2 L979.8,482.2 L982.8,468.9 L985.8,452.7 L988.8,441.1 L991.8,430.8 L994.8,422.2 L997.8,414.7 L1000.8,409.6 L1003.8,408.2 L1006.8,407.5 L1009.8,408.2 L1012.8,411.5 L1015.8,415.6 L1018.8,420.6 L1021.8,425.2 L1024.8,429.9 L1027.8,435.8 L1030.8,440.5 L1033.8,443.2 L1036.8,444.8 L1039.8,445.9 L1042.8,446.8 L1045.8,447.5 L1048.8,448.3 L1051.8,448.9 L1054.8,449.0 L1057.8,448.8 L1060.8,448.3 L1063.8,447.6 L1066.8,446.2 L1069.8,444.0 L1072.8,441.0 L1075.8,436.9 L1078.8,431.9 L1081.8,426.1 L1084.8,419.0 L1087.8,410.5 L1090.8,403.7 L1093.8,394.2 L1096.8,384.0 L1099.8,374.5 L1102.8,367.3 L1105.8,357.4 L1108.8,343.3 L1111.8,327.9 L1114.8,316.8 L1117.8,308.8 L1120.8,303.1 L1123.8,298.6 L1126.8,296.5 L1129.8,295.8 L1132.8,298.3 L1135.8,305.2 L1138.8,311.3 L1141.8,317.1 L1144.9,327.6 L1148.1,342.2 L1151.3,354.6 L1154.5,370.8 L1157.8,384.7 L1161.2,398.8 L1164.6,411.8 L1168.1,423.1 L1171.6,433.1 L1175.2,442.3 L1178.9,449.2 L1182.6,453.0 L1186.5,455.2 L1190.3,458.6 L1194.3,461.1 L1198.3,462.2 L1202.4,462.8 L1206.5,463.0 L1210.8,462.8 L1215.1,461.8 L1219.5,460.7 L1224.0,459.3 L1228.6,458.1 L1233.2,457.4 L1238.0,456.9 L1242.8,456.9 L1247.8,457.4 L1252.8,457.8 L1258.0,458.2 L1263.2,458.8 L1268.5,459.9 L1274.0,461.4 L1279.6,463.1 L1285.2,465.4 L1291.0,468.5 L1297.0,470.6 L1303.0,471.8 L1309.2,472.6 L1315.5,473.2 L1321.9,473.7 L1328.5,474.1 L1335.2,474.6 L1342.1,475.2 L1349.1,475.9 L1356.3,476.8 L1363.6,478.0 L1371.1,479.9 L1378.8,481.8 L1386.6,483.3 L1394.6,484.2 L1402.9,484.9 L1411.3,486.5 L1419.9,489.0 L1428.7,491.3 L1437.7,493.4 L1446.9,495.3 L1456.4,497.0 L1466.1,498.2 L1476.0,499.3 L1486.2,500.7" stroke="#ffbf17" stroke-width="3.4" fill="none" stroke-linejoin="round"/><circle cx="881.3" cy="556.4" r="5.1"/><circle cx="883.8" cy="553.8" r="5.1"/><circle cx="886.8" cy="551.3" r="5.1"/><circle cx="889.8" cy="549.2" r="5.1"/><circle cx="892.8" cy="547.2" r="5.1"/><circle cx="895.8" cy="545.3" r="5.1"/><circle cx="898.8" cy="543.6" r="5.1"/><circle cx="901.8" cy="541.8" r="5.1"/><circle cx="904.8" cy="540.0" r="5.1"/><circle cx="907.8" cy="538.2" r="5.1"/><circle cx="910.8" cy="536.4" r="5.1"/><circle cx="913.8" cy="534.8" r="5.1"/><circle cx="916.8" cy="533.3" r="5.1"/><circle cx="919.8" cy="532.2" r="5.1"/><circle cx="922.8" cy="531.4" r="5.1"/><circle cx="925.8" cy="530.5" r="5.1"/><circle cx="928.8" cy="529.1" r="5.1"/><circle cx="931.8" cy="527.4" r="5.1"/><circle cx="934.8" cy="526.0" r="5.1"/><circle cx="937.8" cy="524.9" r="5.1"/><circle cx="940.8" cy="525.0" r="5.1"/><circle cx="943.8" cy="525.2" r="5.1"/><circle cx="946.8" cy="525.2" r="5.1"/><circle cx="949.8" cy="524.5" r="5.1"/><circle cx="952.8" cy="523.4" r="5.1"/><circle cx="955.8" cy="522.2" r="5.1"/><circle cx="958.8" cy="520.5" r="5.1"/><circle cx="961.8" cy="518.3" r="5.1"/><circle cx="964.8" cy="515.7" r="5.1"/><circle cx="967.8" cy="512.3" r="5.1"/><circle cx="970.8" cy="508.2" r="5.1"/><circle cx="973.8" cy="502.7" r="5.1"/><circle cx="976.8" cy="495.2" r="5.1"/><circle cx="979.8" cy="482.2" r="5.1"/><circle cx="982.8" cy="468.9" r="5.1"/><circle cx="985.8" cy="452.7" r="5.1"/><circle cx="988.8" cy="441.1" r="5.1"/><circle cx="991.8" cy="430.8" r="5.1"/><circle cx="994.8" cy="422.2" r="5.1"/><circle cx="997.8" cy="414.7" r="5.1"/><circle cx="1000.8" cy="409.6" r="5.1"/><circle cx="1003.8" cy="408.2" r="5.1"/><circle cx="1006.8" cy="407.5" r="5.1"/><circle cx="1009.8" cy="408.2" r="5.1"/><circle cx="1012.8" cy="411.5" r="5.1"/><circle cx="1015.8" cy="415.6" r="5.1"/><circle cx="1018.8" cy="420.6" r="5.1"/><circle cx="1021.8" cy="425.2" r="5.1"/><circle cx="1024.8" cy="429.9" r="5.1"/><circle cx="1027.8" cy="435.8" r="5.1"/><circle cx="1030.8" cy="440.5" r="5.1"/><circle cx="1033.8" cy="443.2" r="5.1"/><circle cx="1036.8" cy="444.8" r="5.1"/><circle cx="1039.8" cy="445.9" r="5.1"/><circle cx="1042.8" cy="446.8" r="5.1"/><circle cx="1045.8" cy="447.5" r="5.1"/><circle cx="1048.8" cy="448.3" r="5.1"/><circle cx="1051.8" cy="448.9" r="5.1"/><circle cx="1054.8" cy="449.0" r="5.1"/><circle cx="1057.8" cy="448.8" r="5.1"/><circle cx="1060.8" cy="448.3" r="5.1"/><circle cx="1063.8" cy="447.6" r="5.1"/><circle cx="1066.8" cy="446.2" r="5.1"/><circle cx="1069.8" cy="444.0" r="5.1"/><circle cx="1072.8" cy="441.0" r="5.1"/><circle cx="1075.8" cy="436.9" r="5.1"/><circle cx="1078.8" cy="431.9" r="5.1"/><circle cx="1081.8" cy="426.1" r="5.1"/><circle cx="1084.8" cy="419.0" r="5.1"/><circle cx="1087.8" cy="410.5" r="5.1"/><circle cx="1090.8" cy="403.7" r="5.1"/><circle cx="1093.8" cy="394.2" r="5.1"/><circle cx="1096.8" cy="384.0" r="5.1"/><circle cx="1099.8" cy="374.5" r="5.1"/><circle cx="1102.8" cy="367.3" r="5.1"/><circle cx="1105.8" cy="357.4" r="5.1"/><circle cx="1108.8" cy="343.3" r="5.1"/><circle cx="1111.8" cy="327.9" r="5.1"/><circle cx="1114.8" cy="316.8" r="5.1"/><circle cx="1117.8" cy="308.8" r="5.1"/><circle cx="1120.8" cy="303.1" r="5.1"/><circle cx="1123.8" cy="298.6" r="5.1"/><circle cx="1126.8" cy="296.5" r="5.1"/><circle cx="1129.8" cy="295.8" r="5.1"/><circle cx="1132.8" cy="298.3" r="5.1"/><circle cx="1135.8" cy="305.2" r="5.1"/><circle cx="1138.8" cy="311.3" r="5.1"/><circle cx="1141.8" cy="317.1" r="5.1"/><circle cx="1144.9" cy="327.6" r="5.1"/><circle cx="1148.1" cy="342.2" r="5.1"/><circle cx="1151.3" cy="354.6" r="5.1"/><circle cx="1154.5" cy="370.8" r="5.1"/><circle cx="1157.8" cy="384.7" r="5.1"/><circle cx="1161.2" cy="398.8" r="5.1"/><circle cx="1164.6" cy="411.8" r="5.1"/><circle cx="1168.1" cy="423.1" r="5.1"/><circle cx="1171.6" cy="433.1" r="5.1"/><circle cx="1175.2" cy="442.3" r="5.1"/><circle cx="1178.9" cy="449.2" r="5.1"/><circle cx="1182.6" cy="453.0" r="5.1"/><circle cx="1186.5" cy="455.2" r="5.1"/><circle cx="1190.3" cy="458.6" r="5.1"/><circle cx="1194.3" cy="461.1" r="5.1"/><circle cx="1198.3" cy="462.2" r="5.1"/><circle cx="1202.4" cy="462.8" r="5.1"/><circle cx="1206.5" cy="463.0" r="5.1"/><circle cx="1210.8" cy="462.8" r="5.1"/><circle cx="1215.1" cy="461.8" r="5.1"/><circle cx="1219.5" cy="460.7" r="5.1"/><circle cx="1224.0" cy="459.3" r="5.1"/><circle cx="1228.6" cy="458.1" r="5.1"/><circle cx="1233.2" cy="457.4" r="5.1"/><circle cx="1238.0" cy="456.9" r="5.1"/><circle cx="1242.8" cy="456.9" r="5.1"/><circle cx="1247.8" cy="457.4" r="5.1"/><circle cx="1252.8" cy="457.8" r="5.1"/><circle cx="1258.0" cy="458.2" r="5.1"/><circle cx="1263.2" cy="458.8" r="5.1"/><circle cx="1268.5" cy="459.9" r="5.1"/><circle cx="1274.0" cy="461.4" r="5.1"/><circle cx="1279.6" cy="463.1" r="5.1"/><circle cx="1285.2" cy="465.4" r="5.1"/><circle cx="1291.0" cy="468.5" r="5.1"/><circle cx="1297.0" cy="470.6" r="5.1"/><circle cx="1303.0" cy="471.8" r="5.1"/><circle cx="1309.2" cy="472.6" r="5.1"/><circle cx="1315.5" cy="473.2" r="5.1"/><circle cx="1321.9" cy="473.7" r="5.1"/><circle cx="1328.5" cy="474.1" r="5.1"/><circle cx="1335.2" cy="474.6" r="5.1"/><circle cx="1342.1" cy="475.2" r="5.1"/><circle cx="1349.1" cy="475.9" r="5.1"/><circle cx="1356.3" cy="476.8" r="5.1"/><circle cx="1363.6" cy="478.0" r="5.1"/><circle cx="1371.1" cy="479.9" r="5.1"/><circle cx="1378.8" cy="481.8" r="5.1"/><circle cx="1386.6" cy="483.3" r="5.1"/><circle cx="1394.6" cy="484.2" r="5.1"/><circle cx="1402.9" cy="484.9" r="5.1"/><circle cx="1411.3" cy="486.5" r="5.1"/><circle cx="1419.9" cy="489.0" r="5.1"/><circle cx="1428.7" cy="491.3" r="5.1"/><circle cx="1437.7" cy="493.4" r="5.1"/><circle cx="1446.9" cy="495.3" r="5.1"/><circle cx="1456.4" cy="497.0" r="5.1"/><circle cx="1466.1" cy="498.2" r="5.1"/><circle cx="1476.0" cy="499.3" r="5.1"/><circle cx="1486.2" cy="500.7" r="5.1"/></g><g fill="#ec008c"><path d="M881.3,556.4 L883.8,549.1 L886.8,539.6 L889.8,531.6 L892.8,525.5 L895.8,519.9 L898.8,514.0 L901.8,507.9 L904.8,502.4 L907.8,497.9 L910.8,493.9 L913.8,490.5 L916.8,487.5 L919.8,484.9 L922.8,482.3 L925.8,479.9 L928.8,477.2 L931.8,474.4 L934.8,471.4 L937.8,468.4 L940.8,465.2 L943.8,462.0 L946.8,458.5 L949.8,455.1 L952.8,451.8 L955.8,448.8 L958.8,445.8 L961.8,443.1 L964.8,440.4 L967.8,437.7 L970.8,434.8 L973.8,431.7 L976.8,428.4 L979.8,425.0 L982.8,421.5 L985.8,417.9 L988.8,414.1 L991.8,410.2 L994.8,406.5 L997.8,403.1 L1000.8,399.6 L1003.8,396.1 L1006.8,392.7 L1009.8,389.5 L1012.8,386.6 L1015.8,384.2 L1018.8,382.3 L1021.8,380.6 L1024.8,379.2 L1027.8,378.1 L1030.8,377.8 L1033.8,377.7 L1036.8,377.5 L1039.8,377.5 L1042.8,377.5 L1045.8,377.6 L1048.8,377.9 L1051.8,378.4 L1054.8,378.8 L1057.8,379.3 L1060.8,379.8 L1063.8,380.3 L1066.8,380.8 L1069.8,381.4 L1072.8,382.0 L1075.8,382.6 L1078.8,383.2 L1081.8,383.7 L1084.8,384.3 L1087.8,384.7 L1090.8,385.1 L1093.8,385.4 L1096.8,385.8 L1099.8,386.3 L1102.8,387.1 L1105.8,388.5 L1108.8,390.0 L1111.8,391.7 L1114.8,393.6 L1117.8,395.8 L1120.8,397.9 L1123.8,399.8 L1126.8,401.2 L1129.8,402.3 L1132.8,403.2 L1135.8,404.2 L1138.8,405.3 L1141.8,406.7 L1144.9,408.4 L1148.1,410.3 L1151.3,412.2 L1154.5,414.2 L1157.8,416.0 L1161.2,417.9 L1164.6,419.8 L1168.1,421.6 L1171.6,423.4 L1175.2,425.0 L1178.9,426.6 L1182.6,428.0 L1186.5,429.5 L1190.3,430.9 L1194.3,432.4 L1198.3,433.9 L1202.4,435.4 L1206.5,436.7 L1210.8,437.7 L1215.1,438.6 L1219.5,439.5 L1224.0,440.7 L1228.6,442.0 L1233.2,443.4 L1238.0,444.7 L1242.8,445.8 L1247.8,446.8 L1252.8,447.8 L1258.0,448.9 L1263.2,450.2 L1268.5,451.7 L1274.0,453.2 L1279.6,454.6 L1285.2,455.9 L1291.0,457.2 L1297.0,458.6 L1303.0,460.0 L1309.2,461.6 L1315.5,463.2 L1321.9,465.1 L1328.5,467.0 L1335.2,468.6 L1342.1,470.2 L1349.1,471.6 L1356.3,473.1 L1363.6,474.7 L1371.1,476.3 L1378.8,477.9 L1386.6,479.5 L1394.6,481.2 L1402.9,482.9 L1411.3,484.5 L1419.9,486.0 L1428.7,487.4 L1437.7,488.8 L1446.9,490.1 L1456.4,491.3 L1466.1,492.6 L1476.0,494.3 L1486.2,496.2" stroke="#ec008c" stroke-width="3.4" fill="none" stroke-linejoin="round"/><path d="M881.3,549.3l6.40,11.20h-12.80z"/><path d="M883.8,542.0l6.40,11.20h-12.80z"/><path d="M886.8,532.5l6.40,11.20h-12.80z"/><path d="M889.8,524.5l6.40,11.20h-12.80z"/><path d="M892.8,518.4l6.40,11.20h-12.80z"/><path d="M895.8,512.9l6.40,11.20h-12.80z"/><path d="M898.8,507.0l6.40,11.20h-12.80z"/><path d="M901.8,500.8l6.40,11.20h-12.80z"/><path d="M904.8,495.3l6.40,11.20h-12.80z"/><path d="M907.8,490.8l6.40,11.20h-12.80z"/><path d="M910.8,486.9l6.40,11.20h-12.80z"/><path d="M913.8,483.4l6.40,11.20h-12.80z"/><path d="M916.8,480.4l6.40,11.20h-12.80z"/><path d="M919.8,477.8l6.40,11.20h-12.80z"/><path d="M922.8,475.3l6.40,11.20h-12.80z"/><path d="M925.8,472.8l6.40,11.20h-12.80z"/><path d="M928.8,470.2l6.40,11.20h-12.80z"/><path d="M931.8,467.3l6.40,11.20h-12.80z"/><path d="M934.8,464.4l6.40,11.20h-12.80z"/><path d="M937.8,461.3l6.40,11.20h-12.80z"/><path d="M940.8,458.2l6.40,11.20h-12.80z"/><path d="M943.8,454.9l6.40,11.20h-12.80z"/><path d="M946.8,451.4l6.40,11.20h-12.80z"/><path d="M949.8,448.0l6.40,11.20h-12.80z"/><path d="M952.8,444.8l6.40,11.20h-12.80z"/><path d="M955.8,441.7l6.40,11.20h-12.80z"/><path d="M958.8,438.8l6.40,11.20h-12.80z"/><path d="M961.8,436.0l6.40,11.20h-12.80z"/><path d="M964.8,433.3l6.40,11.20h-12.80z"/><path d="M967.8,430.6l6.40,11.20h-12.80z"/><path d="M970.8,427.7l6.40,11.20h-12.80z"/><path d="M973.8,424.6l6.40,11.20h-12.80z"/><path d="M976.8,421.4l6.40,11.20h-12.80z"/><path d="M979.8,418.0l6.40,11.20h-12.80z"/><path d="M982.8,414.5l6.40,11.20h-12.80z"/><path d="M985.8,410.8l6.40,11.20h-12.80z"/><path d="M988.8,407.0l6.40,11.20h-12.80z"/><path d="M991.8,403.2l6.40,11.20h-12.80z"/><path d="M994.8,399.5l6.40,11.20h-12.80z"/><path d="M997.8,396.1l6.40,11.20h-12.80z"/><path d="M1000.8,392.5l6.40,11.20h-12.80z"/><path d="M1003.8,389.0l6.40,11.20h-12.80z"/><path d="M1006.8,385.6l6.40,11.20h-12.80z"/><path d="M1009.8,382.4l6.40,11.20h-12.80z"/><path d="M1012.8,379.6l6.40,11.20h-12.80z"/><path d="M1015.8,377.2l6.40,11.20h-12.80z"/><path d="M1018.8,375.3l6.40,11.20h-12.80z"/><path d="M1021.8,373.6l6.40,11.20h-12.80z"/><path d="M1024.8,372.1l6.40,11.20h-12.80z"/><path d="M1027.8,371.1l6.40,11.20h-12.80z"/><path d="M1030.8,370.7l6.40,11.20h-12.80z"/><path d="M1033.8,370.6l6.40,11.20h-12.80z"/><path d="M1036.8,370.5l6.40,11.20h-12.80z"/><path d="M1039.8,370.4l6.40,11.20h-12.80z"/><path d="M1042.8,370.4l6.40,11.20h-12.80z"/><path d="M1045.8,370.5l6.40,11.20h-12.80z"/><path d="M1048.8,370.9l6.40,11.20h-12.80z"/><path d="M1051.8,371.3l6.40,11.20h-12.80z"/><path d="M1054.8,371.8l6.40,11.20h-12.80z"/><path d="M1057.8,372.3l6.40,11.20h-12.80z"/><path d="M1060.8,372.7l6.40,11.20h-12.80z"/><path d="M1063.8,373.2l6.40,11.20h-12.80z"/><path d="M1066.8,373.8l6.40,11.20h-12.80z"/><path d="M1069.8,374.4l6.40,11.20h-12.80z"/><path d="M1072.8,375.0l6.40,11.20h-12.80z"/><path d="M1075.8,375.6l6.40,11.20h-12.80z"/><path d="M1078.8,376.1l6.40,11.20h-12.80z"/><path d="M1081.8,376.7l6.40,11.20h-12.80z"/><path d="M1084.8,377.2l6.40,11.20h-12.80z"/><path d="M1087.8,377.6l6.40,11.20h-12.80z"/><path d="M1090.8,378.0l6.40,11.20h-12.80z"/><path d="M1093.8,378.3l6.40,11.20h-12.80z"/><path d="M1096.8,378.7l6.40,11.20h-12.80z"/><path d="M1099.8,379.2l6.40,11.20h-12.80z"/><path d="M1102.8,380.1l6.40,11.20h-12.80z"/><path d="M1105.8,381.4l6.40,11.20h-12.80z"/><path d="M1108.8,383.0l6.40,11.20h-12.80z"/><path d="M1111.8,384.6l6.40,11.20h-12.80z"/><path d="M1114.8,386.6l6.40,11.20h-12.80z"/><path d="M1117.8,388.8l6.40,11.20h-12.80z"/><path d="M1120.8,390.9l6.40,11.20h-12.80z"/><path d="M1123.8,392.7l6.40,11.20h-12.80z"/><path d="M1126.8,394.1l6.40,11.20h-12.80z"/><path d="M1129.8,395.2l6.40,11.20h-12.80z"/><path d="M1132.8,396.2l6.40,11.20h-12.80z"/><path d="M1135.8,397.2l6.40,11.20h-12.80z"/><path d="M1138.8,398.3l6.40,11.20h-12.80z"/><path d="M1141.8,399.6l6.40,11.20h-12.80z"/><path d="M1144.9,401.3l6.40,11.20h-12.80z"/><path d="M1148.1,403.2l6.40,11.20h-12.80z"/><path d="M1151.3,405.2l6.40,11.20h-12.80z"/><path d="M1154.5,407.1l6.40,11.20h-12.80z"/><path d="M1157.8,409.0l6.40,11.20h-12.80z"/><path d="M1161.2,410.8l6.40,11.20h-12.80z"/><path d="M1164.6,412.7l6.40,11.20h-12.80z"/><path d="M1168.1,414.5l6.40,11.20h-12.80z"/><path d="M1171.6,416.3l6.40,11.20h-12.80z"/><path d="M1175.2,418.0l6.40,11.20h-12.80z"/><path d="M1178.9,419.5l6.40,11.20h-12.80z"/><path d="M1182.6,421.0l6.40,11.20h-12.80z"/><path d="M1186.5,422.4l6.40,11.20h-12.80z"/><path d="M1190.3,423.8l6.40,11.20h-12.80z"/><path d="M1194.3,425.3l6.40,11.20h-12.80z"/><path d="M1198.3,426.8l6.40,11.20h-12.80z"/><path d="M1202.4,428.3l6.40,11.20h-12.80z"/><path d="M1206.5,429.6l6.40,11.20h-12.80z"/><path d="M1210.8,430.7l6.40,11.20h-12.80z"/><path d="M1215.1,431.6l6.40,11.20h-12.80z"/><path d="M1219.5,432.5l6.40,11.20h-12.80z"/><path d="M1224.0,433.6l6.40,11.20h-12.80z"/><path d="M1228.6,434.9l6.40,11.20h-12.80z"/><path d="M1233.2,436.3l6.40,11.20h-12.80z"/><path d="M1238.0,437.6l6.40,11.20h-12.80z"/><path d="M1242.8,438.8l6.40,11.20h-12.80z"/><path d="M1247.8,439.8l6.40,11.20h-12.80z"/><path d="M1252.8,440.8l6.40,11.20h-12.80z"/><path d="M1258.0,441.8l6.40,11.20h-12.80z"/><path d="M1263.2,443.2l6.40,11.20h-12.80z"/><path d="M1268.5,444.7l6.40,11.20h-12.80z"/><path d="M1274.0,446.2l6.40,11.20h-12.80z"/><path d="M1279.6,447.6l6.40,11.20h-12.80z"/><path d="M1285.2,448.9l6.40,11.20h-12.80z"/><path d="M1291.0,450.2l6.40,11.20h-12.80z"/><path d="M1297.0,451.5l6.40,11.20h-12.80z"/><path d="M1303.0,453.0l6.40,11.20h-12.80z"/><path d="M1309.2,454.5l6.40,11.20h-12.80z"/><path d="M1315.5,456.2l6.40,11.20h-12.80z"/><path d="M1321.9,458.0l6.40,11.20h-12.80z"/><path d="M1328.5,459.9l6.40,11.20h-12.80z"/><path d="M1335.2,461.6l6.40,11.20h-12.80z"/><path d="M1342.1,463.1l6.40,11.20h-12.80z"/><path d="M1349.1,464.6l6.40,11.20h-12.80z"/><path d="M1356.3,466.1l6.40,11.20h-12.80z"/><path d="M1363.6,467.6l6.40,11.20h-12.80z"/><path d="M1371.1,469.2l6.40,11.20h-12.80z"/><path d="M1378.8,470.8l6.40,11.20h-12.80z"/><path d="M1386.6,472.4l6.40,11.20h-12.80z"/><path d="M1394.6,474.1l6.40,11.20h-12.80z"/><path d="M1402.9,475.9l6.40,11.20h-12.80z"/><path d="M1411.3,477.5l6.40,11.20h-12.80z"/><path d="M1419.9,478.9l6.40,11.20h-12.80z"/><path d="M1428.7,480.3l6.40,11.20h-12.80z"/><path d="M1437.7,481.7l6.40,11.20h-12.80z"/><path d="M1446.9,483.0l6.40,11.20h-12.80z"/><path d="M1456.4,484.2l6.40,11.20h-12.80z"/><path d="M1466.1,485.6l6.40,11.20h-12.80z"/><path d="M1476.0,487.3l6.40,11.20h-12.80z"/><path d="M1486.2,489.1l6.40,11.20h-12.80z"/></g></g><path d="M1147.3,85.0C1147.2,95.8 1147.1,128.3 1146.6,150.0C1146.0,171.7 1145.2,196.7 1144.0,215.0C1142.8,233.3 1141.4,246.8 1139.6,260.0C1137.8,273.2 1135.3,282.3 1133.2,294.0C1131.1,305.7 1129.0,320.0 1127.0,330.0C1125.0,340.0 1122.4,350.0 1121.5,354.0" stroke="#808080" stroke-width="3.6" fill="none" stroke-dasharray="15 9.5"/><path d="M1109.2,381.7 L1116.8,339.1 L1121.7,355 L1135.4,346.7 Z" fill="#808080"/><text x="908" y="460.6" font-size="28" text-anchor="start" >A</text><text x="996.6" y="332.5" font-size="29.5">O<tspan font-size="20" dx="-1.3" dy="7">I</tspan></text><text x="1136" y="62" font-size="29.5">O<tspan font-size="20" dx="-1.3" dy="7">II</tspan></text><text x="1271.7" y="425.7" font-size="29.5">O<tspan font-size="20" dx="-1.3" dy="7" letter-spacing="-0.8">III</tspan></text><text x="1386.3" y="447" font-size="29.5">O<tspan font-size="20" dx="-1.3" dy="7">IV</tspan></text><path d="M1287.5,57.0H1351.4" stroke="#0098ff" stroke-width="3.5"/><rect x="1315.1" y="52.5" width="9.3" height="9" fill="#0098ff"/><text x="1359" y="67" font-size="28" text-anchor="start" >160 K</text><path d="M1287.5,92.0H1351.4" stroke="#ffbf17" stroke-width="3.5"/><circle cx="1319.5" cy="92.0" r="4.8" fill="#ffbf17"/><text x="1359" y="101.95" font-size="28" text-anchor="start" >260 K</text><path d="M1287.5,126.9H1351.4" stroke="#ec008c" stroke-width="3.5"/><path d="M1319.8,120.9l5.75,10h-11.5z" fill="#ec008c"/><text x="1359" y="136.9" font-size="28" text-anchor="start" >300 K</text></svg></div></body></html>
